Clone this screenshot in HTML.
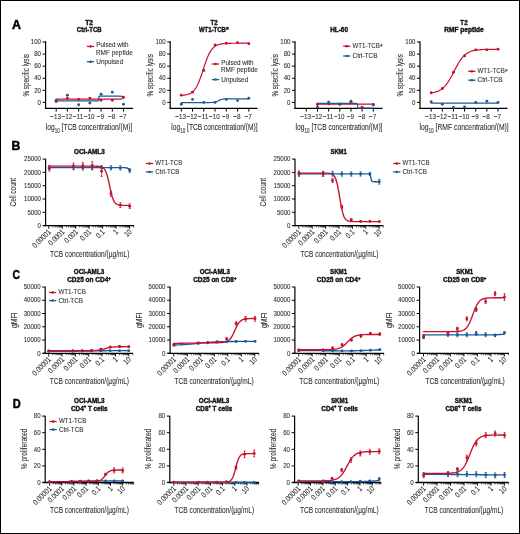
<!DOCTYPE html>
<html><head><meta charset="utf-8"><style>
html,body{margin:0;padding:0;background:#fff;width:520px;height:534px;overflow:hidden}
svg{display:block;will-change:transform}
text{font-family:"Liberation Sans", sans-serif}
</style></head><body>
<svg width="520" height="534" viewBox="0 0 520 534">
<rect x="0.5" y="0.5" width="519" height="533" fill="#fff" stroke="#000" stroke-width="1"/>
<text x="11.90" y="29.40" font-size="12.0" text-anchor="start" fill="#000" font-weight="bold" stroke="#000" stroke-width="0.45" textLength="9.00" lengthAdjust="spacingAndGlyphs">A</text>
<text x="11.40" y="149.80" font-size="12.0" text-anchor="start" fill="#000" font-weight="bold" stroke="#000" stroke-width="0.45" textLength="8.80" lengthAdjust="spacingAndGlyphs">B</text>
<text x="12.40" y="278.80" font-size="12.0" text-anchor="start" fill="#000" font-weight="bold" stroke="#000" stroke-width="0.45" textLength="7.50" lengthAdjust="spacingAndGlyphs">C</text>
<text x="12.80" y="407.70" font-size="12.0" text-anchor="start" fill="#000" font-weight="bold" stroke="#000" stroke-width="0.45" textLength="8.00" lengthAdjust="spacingAndGlyphs">D</text>
<line x1="45.60" y1="41.30" x2="45.60" y2="108.90" stroke="#000" stroke-width="1.2"/>
<line x1="45.00" y1="108.30" x2="133.10" y2="108.30" stroke="#000" stroke-width="1.2"/>
<line x1="42.60" y1="102.40" x2="45.60" y2="102.40" stroke="#000" stroke-width="1.0"/>
<text x="41.00" y="104.60" font-size="7.9" text-anchor="end" fill="#303030" stroke="#303030" stroke-width="0.1" textLength="3.38" lengthAdjust="spacingAndGlyphs">0</text>
<line x1="42.60" y1="90.32" x2="45.60" y2="90.32" stroke="#000" stroke-width="1.0"/>
<text x="41.00" y="92.52" font-size="7.9" text-anchor="end" fill="#303030" stroke="#303030" stroke-width="0.1" textLength="6.76" lengthAdjust="spacingAndGlyphs">20</text>
<line x1="42.60" y1="78.24" x2="45.60" y2="78.24" stroke="#000" stroke-width="1.0"/>
<text x="41.00" y="80.44" font-size="7.9" text-anchor="end" fill="#303030" stroke="#303030" stroke-width="0.1" textLength="6.76" lengthAdjust="spacingAndGlyphs">40</text>
<line x1="42.60" y1="66.16" x2="45.60" y2="66.16" stroke="#000" stroke-width="1.0"/>
<text x="41.00" y="68.36" font-size="7.9" text-anchor="end" fill="#303030" stroke="#303030" stroke-width="0.1" textLength="6.76" lengthAdjust="spacingAndGlyphs">60</text>
<line x1="42.60" y1="54.08" x2="45.60" y2="54.08" stroke="#000" stroke-width="1.0"/>
<text x="41.00" y="56.28" font-size="7.9" text-anchor="end" fill="#303030" stroke="#303030" stroke-width="0.1" textLength="6.76" lengthAdjust="spacingAndGlyphs">80</text>
<line x1="42.60" y1="42.00" x2="45.60" y2="42.00" stroke="#000" stroke-width="1.0"/>
<text x="41.00" y="44.20" font-size="7.9" text-anchor="end" fill="#303030" stroke="#303030" stroke-width="0.1" textLength="10.14" lengthAdjust="spacingAndGlyphs">100</text>
<line x1="56.20" y1="108.30" x2="56.20" y2="111.60" stroke="#000" stroke-width="1.0"/>
<text x="55.60" y="119.20" font-size="7.9" text-anchor="middle" fill="#303030" stroke="#303030" stroke-width="0.1" textLength="10.66" lengthAdjust="spacingAndGlyphs">−13</text>
<line x1="67.42" y1="108.30" x2="67.42" y2="111.60" stroke="#000" stroke-width="1.0"/>
<text x="66.82" y="119.20" font-size="7.9" text-anchor="middle" fill="#303030" stroke="#303030" stroke-width="0.1" textLength="10.66" lengthAdjust="spacingAndGlyphs">−12</text>
<line x1="78.64" y1="108.30" x2="78.64" y2="111.60" stroke="#000" stroke-width="1.0"/>
<text x="78.04" y="119.20" font-size="7.9" text-anchor="middle" fill="#303030" stroke="#303030" stroke-width="0.1" textLength="10.66" lengthAdjust="spacingAndGlyphs">−11</text>
<line x1="89.86" y1="108.30" x2="89.86" y2="111.60" stroke="#000" stroke-width="1.0"/>
<text x="89.26" y="119.20" font-size="7.9" text-anchor="middle" fill="#303030" stroke="#303030" stroke-width="0.1" textLength="10.66" lengthAdjust="spacingAndGlyphs">−10</text>
<line x1="101.08" y1="108.30" x2="101.08" y2="111.60" stroke="#000" stroke-width="1.0"/>
<text x="100.48" y="119.20" font-size="7.9" text-anchor="middle" fill="#303030" stroke="#303030" stroke-width="0.1" textLength="7.28" lengthAdjust="spacingAndGlyphs">−9</text>
<line x1="112.30" y1="108.30" x2="112.30" y2="111.60" stroke="#000" stroke-width="1.0"/>
<text x="111.70" y="119.20" font-size="7.9" text-anchor="middle" fill="#303030" stroke="#303030" stroke-width="0.1" textLength="7.28" lengthAdjust="spacingAndGlyphs">−8</text>
<line x1="123.52" y1="108.30" x2="123.52" y2="111.60" stroke="#000" stroke-width="1.0"/>
<text x="122.92" y="119.20" font-size="7.9" text-anchor="middle" fill="#303030" stroke="#303030" stroke-width="0.1" textLength="7.28" lengthAdjust="spacingAndGlyphs">−7</text>
<text x="28.80" y="75.30" font-size="8.7" text-anchor="middle" fill="#303030" stroke="#303030" stroke-width="0.1" textLength="42.50" lengthAdjust="spacingAndGlyphs" transform="rotate(-90 28.80 75.30)">% specific lysis</text>
<text x="45.80" y="130.3" font-size="9.4" fill="#303030" stroke="#303030" stroke-width="0.1" textLength="86.50" lengthAdjust="spacingAndGlyphs">log<tspan font-size="6.4" dy="2.2">10</tspan><tspan dy="-2.2"> [TCB concentration/(M)]</tspan></text>
<text x="89.20" y="24.80" font-size="7.0" text-anchor="middle" fill="#111" font-weight="bold" stroke="#111" stroke-width="0.4" textLength="8.00" lengthAdjust="spacingAndGlyphs">T2</text>
<text x="89.20" y="32.30" font-size="7.0" text-anchor="middle" fill="#111" font-weight="bold" stroke="#111" stroke-width="0.4" textLength="24.80" lengthAdjust="spacingAndGlyphs">Ctrl-TCB</text>
<polyline points="56.20,99.08 98.84,99.08 120.72,99.08 122.96,98.47 122.96,97.27" fill="none" stroke="#c8102e" stroke-width="1.2" stroke-linejoin="round" stroke-linecap="round"/>
<polyline points="56.20,100.89 98.28,100.89 98.84,99.98 98.84,96.36 100.52,96.06 120.15,96.06 122.96,96.66 122.96,97.08" fill="none" stroke="#1b5a98" stroke-width="1.2" stroke-linejoin="round" stroke-linecap="round"/>
<circle cx="56.20" cy="101.49" r="1.45" fill="#c8102e"/>
<circle cx="67.42" cy="98.17" r="1.45" fill="#c8102e"/>
<circle cx="78.64" cy="99.38" r="1.45" fill="#c8102e"/>
<circle cx="89.86" cy="98.17" r="1.45" fill="#c8102e"/>
<circle cx="101.08" cy="100.29" r="1.45" fill="#c8102e"/>
<circle cx="112.30" cy="100.29" r="1.45" fill="#c8102e"/>
<circle cx="123.52" cy="97.27" r="1.45" fill="#c8102e"/>
<circle cx="56.20" cy="100.29" r="1.45" fill="#1b5a98"/>
<circle cx="67.42" cy="95.15" r="1.45" fill="#1b5a98"/>
<circle cx="78.64" cy="104.82" r="1.45" fill="#1b5a98"/>
<circle cx="89.86" cy="103.00" r="1.45" fill="#1b5a98"/>
<circle cx="101.08" cy="94.25" r="1.45" fill="#1b5a98"/>
<circle cx="112.30" cy="92.13" r="1.45" fill="#1b5a98"/>
<circle cx="123.52" cy="104.21" r="1.45" fill="#1b5a98"/>
<line x1="86.90" y1="46.40" x2="94.10" y2="46.40" stroke="#c8102e" stroke-width="1.3"/>
<circle cx="90.50" cy="46.40" r="1.25" fill="#c8102e"/>
<text x="96.30" y="47.40" font-size="7.8" text-anchor="start" fill="#303030" stroke="#303030" stroke-width="0.1" textLength="32.20" lengthAdjust="spacingAndGlyphs">Pulsed with</text>
<line x1="86.90" y1="61.70" x2="94.10" y2="61.70" stroke="#1b5a98" stroke-width="1.3"/>
<circle cx="90.50" cy="61.70" r="1.25" fill="#1b5a98"/>
<text x="96.30" y="63.80" font-size="7.8" text-anchor="start" fill="#303030" stroke="#303030" stroke-width="0.1" textLength="26.90" lengthAdjust="spacingAndGlyphs">Unpulsed</text>
<text x="95.90" y="54.60" font-size="7.8" text-anchor="start" fill="#303030" stroke="#303030" stroke-width="0.1" textLength="37.00" lengthAdjust="spacingAndGlyphs">RMF peptide</text>
<line x1="170.20" y1="41.30" x2="170.20" y2="108.90" stroke="#000" stroke-width="1.2"/>
<line x1="169.60" y1="108.30" x2="257.50" y2="108.30" stroke="#000" stroke-width="1.2"/>
<line x1="167.20" y1="102.40" x2="170.20" y2="102.40" stroke="#000" stroke-width="1.0"/>
<text x="165.60" y="104.60" font-size="7.9" text-anchor="end" fill="#303030" stroke="#303030" stroke-width="0.1" textLength="3.38" lengthAdjust="spacingAndGlyphs">0</text>
<line x1="167.20" y1="90.32" x2="170.20" y2="90.32" stroke="#000" stroke-width="1.0"/>
<text x="165.60" y="92.52" font-size="7.9" text-anchor="end" fill="#303030" stroke="#303030" stroke-width="0.1" textLength="6.76" lengthAdjust="spacingAndGlyphs">20</text>
<line x1="167.20" y1="78.24" x2="170.20" y2="78.24" stroke="#000" stroke-width="1.0"/>
<text x="165.60" y="80.44" font-size="7.9" text-anchor="end" fill="#303030" stroke="#303030" stroke-width="0.1" textLength="6.76" lengthAdjust="spacingAndGlyphs">40</text>
<line x1="167.20" y1="66.16" x2="170.20" y2="66.16" stroke="#000" stroke-width="1.0"/>
<text x="165.60" y="68.36" font-size="7.9" text-anchor="end" fill="#303030" stroke="#303030" stroke-width="0.1" textLength="6.76" lengthAdjust="spacingAndGlyphs">60</text>
<line x1="167.20" y1="54.08" x2="170.20" y2="54.08" stroke="#000" stroke-width="1.0"/>
<text x="165.60" y="56.28" font-size="7.9" text-anchor="end" fill="#303030" stroke="#303030" stroke-width="0.1" textLength="6.76" lengthAdjust="spacingAndGlyphs">80</text>
<line x1="167.20" y1="42.00" x2="170.20" y2="42.00" stroke="#000" stroke-width="1.0"/>
<text x="165.60" y="44.20" font-size="7.9" text-anchor="end" fill="#303030" stroke="#303030" stroke-width="0.1" textLength="10.14" lengthAdjust="spacingAndGlyphs">100</text>
<line x1="181.30" y1="108.30" x2="181.30" y2="111.60" stroke="#000" stroke-width="1.0"/>
<text x="180.70" y="119.20" font-size="7.9" text-anchor="middle" fill="#303030" stroke="#303030" stroke-width="0.1" textLength="10.66" lengthAdjust="spacingAndGlyphs">−13</text>
<line x1="192.55" y1="108.30" x2="192.55" y2="111.60" stroke="#000" stroke-width="1.0"/>
<text x="191.95" y="119.20" font-size="7.9" text-anchor="middle" fill="#303030" stroke="#303030" stroke-width="0.1" textLength="10.66" lengthAdjust="spacingAndGlyphs">−12</text>
<line x1="203.80" y1="108.30" x2="203.80" y2="111.60" stroke="#000" stroke-width="1.0"/>
<text x="203.20" y="119.20" font-size="7.9" text-anchor="middle" fill="#303030" stroke="#303030" stroke-width="0.1" textLength="10.66" lengthAdjust="spacingAndGlyphs">−11</text>
<line x1="215.05" y1="108.30" x2="215.05" y2="111.60" stroke="#000" stroke-width="1.0"/>
<text x="214.45" y="119.20" font-size="7.9" text-anchor="middle" fill="#303030" stroke="#303030" stroke-width="0.1" textLength="10.66" lengthAdjust="spacingAndGlyphs">−10</text>
<line x1="226.30" y1="108.30" x2="226.30" y2="111.60" stroke="#000" stroke-width="1.0"/>
<text x="225.70" y="119.20" font-size="7.9" text-anchor="middle" fill="#303030" stroke="#303030" stroke-width="0.1" textLength="7.28" lengthAdjust="spacingAndGlyphs">−9</text>
<line x1="237.55" y1="108.30" x2="237.55" y2="111.60" stroke="#000" stroke-width="1.0"/>
<text x="236.95" y="119.20" font-size="7.9" text-anchor="middle" fill="#303030" stroke="#303030" stroke-width="0.1" textLength="7.28" lengthAdjust="spacingAndGlyphs">−8</text>
<line x1="248.80" y1="108.30" x2="248.80" y2="111.60" stroke="#000" stroke-width="1.0"/>
<text x="248.20" y="119.20" font-size="7.9" text-anchor="middle" fill="#303030" stroke="#303030" stroke-width="0.1" textLength="7.28" lengthAdjust="spacingAndGlyphs">−7</text>
<text x="153.40" y="75.30" font-size="8.7" text-anchor="middle" fill="#303030" stroke="#303030" stroke-width="0.1" textLength="42.50" lengthAdjust="spacingAndGlyphs" transform="rotate(-90 153.40 75.30)">% specific lysis</text>
<text x="171.30" y="130.3" font-size="9.4" fill="#303030" stroke="#303030" stroke-width="0.1" textLength="86.20" lengthAdjust="spacingAndGlyphs">log<tspan font-size="6.4" dy="2.2">10</tspan><tspan dy="-2.2"> [TCB concentration/(M)]</tspan></text>
<text x="212.40" y="32.30" font-size="7.0" text-anchor="middle" fill="#111" font-weight="bold" stroke="#111" stroke-width="0.4" textLength="26.80" lengthAdjust="spacingAndGlyphs">WT1-TCB</text>
<polyline points="181.30,95.46 181.86,95.42 182.43,95.37 182.99,95.31 183.55,95.25 184.11,95.18 184.68,95.10 185.24,95.01 185.80,94.90 186.36,94.78 186.93,94.65 187.49,94.50 188.05,94.32 188.61,94.13 189.18,93.90 189.74,93.65 190.30,93.37 190.86,93.05 191.43,92.69 191.99,92.28 192.55,91.83 193.11,91.32 193.68,90.75 194.24,90.12 194.80,89.41 195.36,88.64 195.93,87.78 196.49,86.85 197.05,85.82 197.61,84.71 198.18,83.51 198.74,82.23 199.30,80.85 199.86,79.40 200.43,77.87 200.99,76.28 201.55,74.63 202.11,72.94 202.68,71.22 203.24,69.48 203.80,67.75 204.36,66.02 204.93,64.33 205.49,62.68 206.05,61.09 206.61,59.56 207.18,58.11 207.74,56.74 208.30,55.45 208.86,54.25 209.43,53.14 209.99,52.12 210.55,51.18 211.11,50.33 211.68,49.55 212.24,48.85 212.80,48.21 213.36,47.65 213.93,47.14 214.49,46.68 215.05,46.28 215.61,45.92 216.18,45.60 216.74,45.31 217.30,45.06 217.86,44.84 218.43,44.64 218.99,44.47 219.55,44.31 220.11,44.18 220.68,44.06 221.24,43.96 221.80,43.87 222.36,43.78 222.93,43.71 223.49,43.65 224.05,43.60 224.61,43.55 225.18,43.51 225.74,43.47 226.30,43.44 226.86,43.41 227.43,43.38 227.99,43.36 228.55,43.34 229.11,43.33 229.68,43.31 230.24,43.30 230.80,43.29 231.36,43.28 231.93,43.27 232.49,43.26 233.05,43.26 233.61,43.25 234.18,43.24 234.74,43.24 235.30,43.24 235.86,43.23 236.43,43.23 236.99,43.23 237.55,43.22 238.11,43.22 238.68,43.22 239.24,43.22 239.80,43.22 240.36,43.22 240.93,43.22 241.49,43.21 242.05,43.21 242.61,43.21 243.18,43.21 243.74,43.21 244.30,43.21 244.86,43.21 245.43,43.21 245.99,43.21 246.55,43.21 247.11,43.21 247.68,43.21 248.24,43.21 248.80,43.21" fill="none" stroke="#c8102e" stroke-width="1.2" stroke-linejoin="round" stroke-linecap="round"/>
<polyline points="181.30,102.58 181.86,102.58 182.43,102.58 182.99,102.58 183.55,102.58 184.11,102.58 184.68,102.58 185.24,102.58 185.80,102.58 186.36,102.58 186.93,102.58 187.49,102.58 188.05,102.58 188.61,102.58 189.18,102.58 189.74,102.58 190.30,102.58 190.86,102.58 191.43,102.58 191.99,102.58 192.55,102.58 193.11,102.58 193.68,102.58 194.24,102.58 194.80,102.58 195.36,102.58 195.93,102.58 196.49,102.58 197.05,102.58 197.61,102.58 198.18,102.58 198.74,102.58 199.30,102.58 199.86,102.58 200.43,102.58 200.99,102.58 201.55,102.58 202.11,102.58 202.68,102.58 203.24,102.58 203.80,102.58 204.36,102.58 204.93,102.58 205.49,102.58 206.05,102.57 206.61,102.57 207.18,102.57 207.74,102.57 208.30,102.56 208.86,102.55 209.43,102.54 209.99,102.53 210.55,102.51 211.11,102.49 211.68,102.46 212.24,102.43 212.80,102.38 213.36,102.32 213.93,102.24 214.49,102.13 215.05,102.01 215.61,101.85 216.18,101.67 216.74,101.45 217.30,101.21 217.86,100.95 218.43,100.68 218.99,100.41 219.55,100.15 220.11,99.90 220.68,99.69 221.24,99.51 221.80,99.35 222.36,99.22 222.93,99.12 223.49,99.04 224.05,98.98 224.61,98.93 225.18,98.89 225.74,98.86 226.30,98.84 226.86,98.83 227.43,98.81 227.99,98.80 228.55,98.80 229.11,98.79 229.68,98.79 230.24,98.79 230.80,98.78 231.36,98.78 231.93,98.78 232.49,98.78 233.05,98.78 233.61,98.78 234.18,98.78 234.74,98.78 235.30,98.78 235.86,98.78 236.43,98.78 236.99,98.78 237.55,98.78 238.11,98.78 238.68,98.78 239.24,98.78 239.80,98.78 240.36,98.78 240.93,98.78 241.49,98.78 242.05,98.78 242.61,98.78 243.18,98.78 243.74,98.78 244.30,98.78 244.86,98.78 245.43,98.78 245.99,98.78 246.55,98.78 247.11,98.78 247.68,98.78 248.24,98.78 248.80,98.78" fill="none" stroke="#1b5a98" stroke-width="1.2" stroke-linejoin="round" stroke-linecap="round"/>
<circle cx="181.30" cy="95.15" r="1.45" fill="#c8102e"/>
<circle cx="192.55" cy="92.13" r="1.45" fill="#c8102e"/>
<circle cx="203.80" cy="70.39" r="1.45" fill="#c8102e"/>
<circle cx="215.05" cy="45.02" r="1.45" fill="#c8102e"/>
<circle cx="226.30" cy="43.21" r="1.45" fill="#c8102e"/>
<circle cx="237.55" cy="42.60" r="1.45" fill="#c8102e"/>
<circle cx="248.80" cy="43.81" r="1.45" fill="#c8102e"/>
<circle cx="181.30" cy="104.21" r="1.45" fill="#1b5a98"/>
<circle cx="192.55" cy="99.38" r="1.45" fill="#1b5a98"/>
<circle cx="203.80" cy="102.40" r="1.45" fill="#1b5a98"/>
<circle cx="215.05" cy="102.40" r="1.45" fill="#1b5a98"/>
<circle cx="226.30" cy="99.38" r="1.45" fill="#1b5a98"/>
<circle cx="237.55" cy="100.59" r="1.45" fill="#1b5a98"/>
<circle cx="248.80" cy="98.17" r="1.45" fill="#1b5a98"/>
<line x1="211.90" y1="64.00" x2="219.10" y2="64.00" stroke="#c8102e" stroke-width="1.3"/>
<circle cx="215.50" cy="64.00" r="1.25" fill="#c8102e"/>
<text x="221.30" y="65.00" font-size="7.8" text-anchor="start" fill="#303030" stroke="#303030" stroke-width="0.1" textLength="32.20" lengthAdjust="spacingAndGlyphs">Pulsed with</text>
<line x1="211.90" y1="79.60" x2="219.10" y2="79.60" stroke="#1b5a98" stroke-width="1.3"/>
<circle cx="215.50" cy="79.60" r="1.25" fill="#1b5a98"/>
<text x="221.30" y="81.70" font-size="7.8" text-anchor="start" fill="#303030" stroke="#303030" stroke-width="0.1" textLength="26.90" lengthAdjust="spacingAndGlyphs">Unpulsed</text>
<text x="220.90" y="72.20" font-size="7.8" text-anchor="start" fill="#303030" stroke="#303030" stroke-width="0.1" textLength="37.00" lengthAdjust="spacingAndGlyphs">RMF peptide</text>
<text x="226.00" y="31.60" font-size="7.0" text-anchor="start" fill="#111" font-weight="bold" stroke="#111" stroke-width="0.4">*</text>
<text x="214.10" y="24.80" font-size="7.0" text-anchor="middle" fill="#111" font-weight="bold" stroke="#111" stroke-width="0.4" textLength="7.20" lengthAdjust="spacingAndGlyphs">T2</text>
<line x1="295.00" y1="41.30" x2="295.00" y2="108.90" stroke="#000" stroke-width="1.2"/>
<line x1="294.40" y1="108.30" x2="382.50" y2="108.30" stroke="#000" stroke-width="1.2"/>
<line x1="292.00" y1="102.40" x2="295.00" y2="102.40" stroke="#000" stroke-width="1.0"/>
<text x="290.40" y="104.60" font-size="7.9" text-anchor="end" fill="#303030" stroke="#303030" stroke-width="0.1" textLength="3.38" lengthAdjust="spacingAndGlyphs">0</text>
<line x1="292.00" y1="90.32" x2="295.00" y2="90.32" stroke="#000" stroke-width="1.0"/>
<text x="290.40" y="92.52" font-size="7.9" text-anchor="end" fill="#303030" stroke="#303030" stroke-width="0.1" textLength="6.76" lengthAdjust="spacingAndGlyphs">20</text>
<line x1="292.00" y1="78.24" x2="295.00" y2="78.24" stroke="#000" stroke-width="1.0"/>
<text x="290.40" y="80.44" font-size="7.9" text-anchor="end" fill="#303030" stroke="#303030" stroke-width="0.1" textLength="6.76" lengthAdjust="spacingAndGlyphs">40</text>
<line x1="292.00" y1="66.16" x2="295.00" y2="66.16" stroke="#000" stroke-width="1.0"/>
<text x="290.40" y="68.36" font-size="7.9" text-anchor="end" fill="#303030" stroke="#303030" stroke-width="0.1" textLength="6.76" lengthAdjust="spacingAndGlyphs">60</text>
<line x1="292.00" y1="54.08" x2="295.00" y2="54.08" stroke="#000" stroke-width="1.0"/>
<text x="290.40" y="56.28" font-size="7.9" text-anchor="end" fill="#303030" stroke="#303030" stroke-width="0.1" textLength="6.76" lengthAdjust="spacingAndGlyphs">80</text>
<line x1="292.00" y1="42.00" x2="295.00" y2="42.00" stroke="#000" stroke-width="1.0"/>
<text x="290.40" y="44.20" font-size="7.9" text-anchor="end" fill="#303030" stroke="#303030" stroke-width="0.1" textLength="10.14" lengthAdjust="spacingAndGlyphs">100</text>
<line x1="306.30" y1="108.30" x2="306.30" y2="111.60" stroke="#000" stroke-width="1.0"/>
<text x="305.70" y="119.20" font-size="7.9" text-anchor="middle" fill="#303030" stroke="#303030" stroke-width="0.1" textLength="10.66" lengthAdjust="spacingAndGlyphs">−13</text>
<line x1="317.47" y1="108.30" x2="317.47" y2="111.60" stroke="#000" stroke-width="1.0"/>
<text x="316.87" y="119.20" font-size="7.9" text-anchor="middle" fill="#303030" stroke="#303030" stroke-width="0.1" textLength="10.66" lengthAdjust="spacingAndGlyphs">−12</text>
<line x1="328.64" y1="108.30" x2="328.64" y2="111.60" stroke="#000" stroke-width="1.0"/>
<text x="328.04" y="119.20" font-size="7.9" text-anchor="middle" fill="#303030" stroke="#303030" stroke-width="0.1" textLength="10.66" lengthAdjust="spacingAndGlyphs">−11</text>
<line x1="339.81" y1="108.30" x2="339.81" y2="111.60" stroke="#000" stroke-width="1.0"/>
<text x="339.21" y="119.20" font-size="7.9" text-anchor="middle" fill="#303030" stroke="#303030" stroke-width="0.1" textLength="10.66" lengthAdjust="spacingAndGlyphs">−10</text>
<line x1="350.98" y1="108.30" x2="350.98" y2="111.60" stroke="#000" stroke-width="1.0"/>
<text x="350.38" y="119.20" font-size="7.9" text-anchor="middle" fill="#303030" stroke="#303030" stroke-width="0.1" textLength="7.28" lengthAdjust="spacingAndGlyphs">−9</text>
<line x1="362.15" y1="108.30" x2="362.15" y2="111.60" stroke="#000" stroke-width="1.0"/>
<text x="361.55" y="119.20" font-size="7.9" text-anchor="middle" fill="#303030" stroke="#303030" stroke-width="0.1" textLength="7.28" lengthAdjust="spacingAndGlyphs">−8</text>
<line x1="373.32" y1="108.30" x2="373.32" y2="111.60" stroke="#000" stroke-width="1.0"/>
<text x="372.72" y="119.20" font-size="7.9" text-anchor="middle" fill="#303030" stroke="#303030" stroke-width="0.1" textLength="7.28" lengthAdjust="spacingAndGlyphs">−7</text>
<text x="278.20" y="75.30" font-size="8.7" text-anchor="middle" fill="#303030" stroke="#303030" stroke-width="0.1" textLength="42.50" lengthAdjust="spacingAndGlyphs" transform="rotate(-90 278.20 75.30)">% specific lysis</text>
<text x="295.50" y="130.3" font-size="9.4" fill="#303030" stroke="#303030" stroke-width="0.1" textLength="87.00" lengthAdjust="spacingAndGlyphs">log<tspan font-size="6.4" dy="2.2">10</tspan><tspan dy="-2.2"> [TCB concentration/(M)]</tspan></text>
<text x="339.10" y="32.10" font-size="7.0" text-anchor="middle" fill="#111" font-weight="bold" stroke="#111" stroke-width="0.4" textLength="17.90" lengthAdjust="spacingAndGlyphs">HL-60</text>
<polyline points="317.47,104.21 373.32,104.21" fill="none" stroke="#c8102e" stroke-width="1.2" stroke-linejoin="round" stroke-linecap="round"/>
<polyline points="317.47,107.53 317.47,103.31 356.01,103.31 357.68,104.21 357.68,108.14 373.32,108.14" fill="none" stroke="#1b5a98" stroke-width="1.2" stroke-linejoin="round" stroke-linecap="round"/>
<circle cx="317.47" cy="104.21" r="1.45" fill="#c8102e"/>
<circle cx="328.64" cy="103.91" r="1.45" fill="#c8102e"/>
<circle cx="339.81" cy="104.21" r="1.45" fill="#c8102e"/>
<circle cx="350.98" cy="102.70" r="1.45" fill="#c8102e"/>
<circle cx="362.15" cy="107.23" r="1.45" fill="#c8102e"/>
<circle cx="373.32" cy="104.51" r="1.45" fill="#c8102e"/>
<circle cx="317.47" cy="107.23" r="1.45" fill="#1b5a98"/>
<circle cx="328.64" cy="102.10" r="1.45" fill="#1b5a98"/>
<circle cx="339.81" cy="104.21" r="1.45" fill="#1b5a98"/>
<circle cx="350.98" cy="101.19" r="1.45" fill="#1b5a98"/>
<circle cx="373.32" cy="105.12" r="1.45" fill="#1b5a98"/>
<line x1="343.20" y1="46.20" x2="350.40" y2="46.20" stroke="#c8102e" stroke-width="1.3"/>
<circle cx="346.80" cy="46.20" r="1.25" fill="#c8102e"/>
<text x="352.60" y="48.30" font-size="7.8" text-anchor="start" fill="#303030" stroke="#303030" stroke-width="0.1" textLength="27.20" lengthAdjust="spacingAndGlyphs">WT1-TCB</text>
<text x="379.90" y="48.60" font-size="6.8" text-anchor="start" fill="#303030" stroke="#303030" stroke-width="0.1">*</text>
<line x1="343.20" y1="56.00" x2="350.40" y2="56.00" stroke="#1b5a98" stroke-width="1.3"/>
<circle cx="346.80" cy="56.00" r="1.25" fill="#1b5a98"/>
<text x="352.60" y="58.10" font-size="7.8" text-anchor="start" fill="#303030" stroke="#303030" stroke-width="0.1" textLength="24.80" lengthAdjust="spacingAndGlyphs">Ctrl-TCB</text>
<line x1="420.00" y1="41.30" x2="420.00" y2="108.90" stroke="#000" stroke-width="1.2"/>
<line x1="419.40" y1="108.30" x2="507.50" y2="108.30" stroke="#000" stroke-width="1.2"/>
<line x1="417.00" y1="102.40" x2="420.00" y2="102.40" stroke="#000" stroke-width="1.0"/>
<text x="415.40" y="104.60" font-size="7.9" text-anchor="end" fill="#303030" stroke="#303030" stroke-width="0.1" textLength="3.38" lengthAdjust="spacingAndGlyphs">0</text>
<line x1="417.00" y1="90.32" x2="420.00" y2="90.32" stroke="#000" stroke-width="1.0"/>
<text x="415.40" y="92.52" font-size="7.9" text-anchor="end" fill="#303030" stroke="#303030" stroke-width="0.1" textLength="6.76" lengthAdjust="spacingAndGlyphs">20</text>
<line x1="417.00" y1="78.24" x2="420.00" y2="78.24" stroke="#000" stroke-width="1.0"/>
<text x="415.40" y="80.44" font-size="7.9" text-anchor="end" fill="#303030" stroke="#303030" stroke-width="0.1" textLength="6.76" lengthAdjust="spacingAndGlyphs">40</text>
<line x1="417.00" y1="66.16" x2="420.00" y2="66.16" stroke="#000" stroke-width="1.0"/>
<text x="415.40" y="68.36" font-size="7.9" text-anchor="end" fill="#303030" stroke="#303030" stroke-width="0.1" textLength="6.76" lengthAdjust="spacingAndGlyphs">60</text>
<line x1="417.00" y1="54.08" x2="420.00" y2="54.08" stroke="#000" stroke-width="1.0"/>
<text x="415.40" y="56.28" font-size="7.9" text-anchor="end" fill="#303030" stroke="#303030" stroke-width="0.1" textLength="6.76" lengthAdjust="spacingAndGlyphs">80</text>
<line x1="417.00" y1="42.00" x2="420.00" y2="42.00" stroke="#000" stroke-width="1.0"/>
<text x="415.40" y="44.20" font-size="7.9" text-anchor="end" fill="#303030" stroke="#303030" stroke-width="0.1" textLength="10.14" lengthAdjust="spacingAndGlyphs">100</text>
<line x1="431.20" y1="108.30" x2="431.20" y2="111.60" stroke="#000" stroke-width="1.0"/>
<text x="430.60" y="119.20" font-size="7.9" text-anchor="middle" fill="#303030" stroke="#303030" stroke-width="0.1" textLength="10.66" lengthAdjust="spacingAndGlyphs">−13</text>
<line x1="442.33" y1="108.30" x2="442.33" y2="111.60" stroke="#000" stroke-width="1.0"/>
<text x="441.73" y="119.20" font-size="7.9" text-anchor="middle" fill="#303030" stroke="#303030" stroke-width="0.1" textLength="10.66" lengthAdjust="spacingAndGlyphs">−12</text>
<line x1="453.46" y1="108.30" x2="453.46" y2="111.60" stroke="#000" stroke-width="1.0"/>
<text x="452.86" y="119.20" font-size="7.9" text-anchor="middle" fill="#303030" stroke="#303030" stroke-width="0.1" textLength="10.66" lengthAdjust="spacingAndGlyphs">−11</text>
<line x1="464.59" y1="108.30" x2="464.59" y2="111.60" stroke="#000" stroke-width="1.0"/>
<text x="463.99" y="119.20" font-size="7.9" text-anchor="middle" fill="#303030" stroke="#303030" stroke-width="0.1" textLength="10.66" lengthAdjust="spacingAndGlyphs">−10</text>
<line x1="475.72" y1="108.30" x2="475.72" y2="111.60" stroke="#000" stroke-width="1.0"/>
<text x="475.12" y="119.20" font-size="7.9" text-anchor="middle" fill="#303030" stroke="#303030" stroke-width="0.1" textLength="7.28" lengthAdjust="spacingAndGlyphs">−9</text>
<line x1="486.85" y1="108.30" x2="486.85" y2="111.60" stroke="#000" stroke-width="1.0"/>
<text x="486.25" y="119.20" font-size="7.9" text-anchor="middle" fill="#303030" stroke="#303030" stroke-width="0.1" textLength="7.28" lengthAdjust="spacingAndGlyphs">−8</text>
<line x1="497.98" y1="108.30" x2="497.98" y2="111.60" stroke="#000" stroke-width="1.0"/>
<text x="497.38" y="119.20" font-size="7.9" text-anchor="middle" fill="#303030" stroke="#303030" stroke-width="0.1" textLength="7.28" lengthAdjust="spacingAndGlyphs">−7</text>
<text x="403.20" y="75.30" font-size="8.7" text-anchor="middle" fill="#303030" stroke="#303030" stroke-width="0.1" textLength="42.50" lengthAdjust="spacingAndGlyphs" transform="rotate(-90 403.20 75.30)">% specific lysis</text>
<text x="419.50" y="130.3" font-size="9.4" fill="#303030" stroke="#303030" stroke-width="0.1" textLength="89.20" lengthAdjust="spacingAndGlyphs">log<tspan font-size="6.4" dy="2.2">10</tspan><tspan dy="-2.2"> [RMF concentration/(M)]</tspan></text>
<text x="464.00" y="24.80" font-size="7.0" text-anchor="middle" fill="#111" font-weight="bold" stroke="#111" stroke-width="0.4" textLength="7.30" lengthAdjust="spacingAndGlyphs">T2</text>
<text x="464.00" y="32.10" font-size="7.0" text-anchor="middle" fill="#111" font-weight="bold" stroke="#111" stroke-width="0.4" textLength="39.30" lengthAdjust="spacingAndGlyphs">RMF peptide</text>
<polyline points="431.20,92.85 431.76,92.77 432.31,92.69 432.87,92.59 433.43,92.48 433.98,92.37 434.54,92.24 435.10,92.10 435.65,91.95 436.21,91.79 436.76,91.60 437.32,91.40 437.88,91.19 438.43,90.95 438.99,90.69 439.55,90.41 440.10,90.10 440.66,89.77 441.22,89.41 441.77,89.02 442.33,88.60 442.89,88.15 443.44,87.66 444.00,87.13 444.56,86.57 445.11,85.97 445.67,85.33 446.23,84.65 446.78,83.92 447.34,83.16 447.89,82.36 448.45,81.51 449.01,80.63 449.56,79.72 450.12,78.76 450.68,77.78 451.23,76.77 451.79,75.73 452.35,74.68 452.90,73.61 453.46,72.53 454.02,71.45 454.57,70.36 455.13,69.28 455.69,68.21 456.24,67.16 456.80,66.12 457.36,65.11 457.91,64.13 458.47,63.17 459.02,62.26 459.58,61.38 460.14,60.53 460.69,59.73 461.25,58.97 461.81,58.24 462.36,57.56 462.92,56.92 463.48,56.32 464.03,55.76 464.59,55.23 465.15,54.74 465.70,54.29 466.26,53.87 466.82,53.48 467.37,53.12 467.93,52.79 468.49,52.48 469.04,52.20 469.60,51.94 470.15,51.70 470.71,51.49 471.27,51.29 471.82,51.10 472.38,50.94 472.94,50.79 473.49,50.65 474.05,50.52 474.61,50.41 475.16,50.30 475.72,50.20 476.28,50.12 476.83,50.04 477.39,49.96 477.95,49.90 478.50,49.84 479.06,49.78 479.62,49.74 480.17,49.69 480.73,49.65 481.28,49.61 481.84,49.58 482.40,49.55 482.95,49.52 483.51,49.49 484.07,49.47 484.62,49.45 485.18,49.43 485.74,49.42 486.29,49.40 486.85,49.39 487.41,49.37 487.96,49.36 488.52,49.35 489.08,49.34 489.63,49.33 490.19,49.32 490.75,49.32 491.30,49.31 491.86,49.31 492.41,49.30 492.97,49.29 493.53,49.29 494.08,49.29 494.64,49.28 495.20,49.28 495.75,49.28 496.31,49.27 496.87,49.27 497.42,49.27 497.98,49.27" fill="none" stroke="#c8102e" stroke-width="1.2" stroke-linejoin="round" stroke-linecap="round"/>
<polyline points="431.20,103.19 497.98,103.19" fill="none" stroke="#1b5a98" stroke-width="1.2" stroke-linejoin="round" stroke-linecap="round"/>
<circle cx="431.20" cy="92.74" r="1.45" fill="#c8102e"/>
<circle cx="442.33" cy="88.51" r="1.45" fill="#c8102e"/>
<circle cx="453.46" cy="72.20" r="1.45" fill="#c8102e"/>
<circle cx="464.59" cy="55.89" r="1.45" fill="#c8102e"/>
<circle cx="475.72" cy="49.85" r="1.45" fill="#c8102e"/>
<circle cx="486.85" cy="49.85" r="1.45" fill="#c8102e"/>
<circle cx="497.98" cy="49.25" r="1.45" fill="#c8102e"/>
<circle cx="431.20" cy="101.80" r="1.45" fill="#1b5a98"/>
<circle cx="442.33" cy="104.21" r="1.45" fill="#1b5a98"/>
<circle cx="453.46" cy="107.53" r="1.45" fill="#1b5a98"/>
<circle cx="464.59" cy="106.93" r="1.45" fill="#1b5a98"/>
<circle cx="475.72" cy="102.40" r="1.45" fill="#1b5a98"/>
<circle cx="486.85" cy="101.19" r="1.45" fill="#1b5a98"/>
<circle cx="497.98" cy="102.40" r="1.45" fill="#1b5a98"/>
<line x1="468.20" y1="71.30" x2="475.40" y2="71.30" stroke="#c8102e" stroke-width="1.3"/>
<circle cx="471.80" cy="71.30" r="1.25" fill="#c8102e"/>
<text x="477.60" y="73.40" font-size="7.8" text-anchor="start" fill="#303030" stroke="#303030" stroke-width="0.1" textLength="27.20" lengthAdjust="spacingAndGlyphs">WT1-TCB</text>
<text x="504.90" y="73.70" font-size="6.8" text-anchor="start" fill="#303030" stroke="#303030" stroke-width="0.1">*</text>
<line x1="468.20" y1="80.20" x2="475.40" y2="80.20" stroke="#1b5a98" stroke-width="1.3"/>
<circle cx="471.80" cy="80.20" r="1.25" fill="#1b5a98"/>
<text x="477.60" y="82.30" font-size="7.8" text-anchor="start" fill="#303030" stroke="#303030" stroke-width="0.1" textLength="24.80" lengthAdjust="spacingAndGlyphs">Ctrl-TCB</text>
<line x1="45.60" y1="158.80" x2="45.60" y2="226.20" stroke="#000" stroke-width="1.2"/>
<line x1="43.10" y1="225.60" x2="134.00" y2="225.60" stroke="#000" stroke-width="1.3"/>
<line x1="42.60" y1="225.60" x2="45.60" y2="225.60" stroke="#000" stroke-width="1.0"/>
<text x="41.00" y="227.80" font-size="7.9" text-anchor="end" fill="#303030" stroke="#303030" stroke-width="0.1" textLength="3.38" lengthAdjust="spacingAndGlyphs">0</text>
<line x1="42.60" y1="212.30" x2="45.60" y2="212.30" stroke="#000" stroke-width="1.0"/>
<text x="41.00" y="214.50" font-size="7.9" text-anchor="end" fill="#303030" stroke="#303030" stroke-width="0.1" textLength="13.52" lengthAdjust="spacingAndGlyphs">5000</text>
<line x1="42.60" y1="199.00" x2="45.60" y2="199.00" stroke="#000" stroke-width="1.0"/>
<text x="41.00" y="201.20" font-size="7.9" text-anchor="end" fill="#303030" stroke="#303030" stroke-width="0.1" textLength="16.90" lengthAdjust="spacingAndGlyphs">10000</text>
<line x1="42.60" y1="185.70" x2="45.60" y2="185.70" stroke="#000" stroke-width="1.0"/>
<text x="41.00" y="187.90" font-size="7.9" text-anchor="end" fill="#303030" stroke="#303030" stroke-width="0.1" textLength="16.90" lengthAdjust="spacingAndGlyphs">15000</text>
<line x1="42.60" y1="172.40" x2="45.60" y2="172.40" stroke="#000" stroke-width="1.0"/>
<text x="41.00" y="174.60" font-size="7.9" text-anchor="end" fill="#303030" stroke="#303030" stroke-width="0.1" textLength="16.90" lengthAdjust="spacingAndGlyphs">20000</text>
<line x1="42.60" y1="159.10" x2="45.60" y2="159.10" stroke="#000" stroke-width="1.0"/>
<text x="41.00" y="161.30" font-size="7.9" text-anchor="end" fill="#303030" stroke="#303030" stroke-width="0.1" textLength="16.90" lengthAdjust="spacingAndGlyphs">25000</text>
<line x1="48.80" y1="225.60" x2="48.80" y2="228.80" stroke="#000" stroke-width="0.9"/>
<text x="51.50" y="232.40" font-size="7.8" text-anchor="end" fill="#303030" stroke="#303030" stroke-width="0.1" textLength="22.91" lengthAdjust="spacingAndGlyphs" transform="rotate(-45 51.50 232.40)">0.00001</text>
<line x1="52.85" y1="225.60" x2="52.85" y2="227.50" stroke="#000" stroke-width="0.7"/>
<line x1="55.22" y1="225.60" x2="55.22" y2="227.50" stroke="#000" stroke-width="0.7"/>
<line x1="56.90" y1="225.60" x2="56.90" y2="227.50" stroke="#000" stroke-width="0.7"/>
<line x1="58.20" y1="225.60" x2="58.20" y2="227.50" stroke="#000" stroke-width="0.7"/>
<line x1="59.27" y1="225.60" x2="59.27" y2="227.50" stroke="#000" stroke-width="0.7"/>
<line x1="60.17" y1="225.60" x2="60.17" y2="227.50" stroke="#000" stroke-width="0.7"/>
<line x1="60.95" y1="225.60" x2="60.95" y2="227.50" stroke="#000" stroke-width="0.7"/>
<line x1="61.63" y1="225.60" x2="61.63" y2="227.50" stroke="#000" stroke-width="0.7"/>
<line x1="62.25" y1="225.60" x2="62.25" y2="228.80" stroke="#000" stroke-width="0.9"/>
<text x="64.95" y="232.40" font-size="7.8" text-anchor="end" fill="#303030" stroke="#303030" stroke-width="0.1" textLength="19.40" lengthAdjust="spacingAndGlyphs" transform="rotate(-45 64.95 232.40)">0.0001</text>
<line x1="66.30" y1="225.60" x2="66.30" y2="227.50" stroke="#000" stroke-width="0.7"/>
<line x1="68.67" y1="225.60" x2="68.67" y2="227.50" stroke="#000" stroke-width="0.7"/>
<line x1="70.35" y1="225.60" x2="70.35" y2="227.50" stroke="#000" stroke-width="0.7"/>
<line x1="71.65" y1="225.60" x2="71.65" y2="227.50" stroke="#000" stroke-width="0.7"/>
<line x1="72.72" y1="225.60" x2="72.72" y2="227.50" stroke="#000" stroke-width="0.7"/>
<line x1="73.62" y1="225.60" x2="73.62" y2="227.50" stroke="#000" stroke-width="0.7"/>
<line x1="74.40" y1="225.60" x2="74.40" y2="227.50" stroke="#000" stroke-width="0.7"/>
<line x1="75.08" y1="225.60" x2="75.08" y2="227.50" stroke="#000" stroke-width="0.7"/>
<line x1="75.70" y1="225.60" x2="75.70" y2="228.80" stroke="#000" stroke-width="0.9"/>
<text x="78.40" y="232.40" font-size="7.8" text-anchor="end" fill="#303030" stroke="#303030" stroke-width="0.1" textLength="15.88" lengthAdjust="spacingAndGlyphs" transform="rotate(-45 78.40 232.40)">0.001</text>
<line x1="79.75" y1="225.60" x2="79.75" y2="227.50" stroke="#000" stroke-width="0.7"/>
<line x1="82.12" y1="225.60" x2="82.12" y2="227.50" stroke="#000" stroke-width="0.7"/>
<line x1="83.80" y1="225.60" x2="83.80" y2="227.50" stroke="#000" stroke-width="0.7"/>
<line x1="85.10" y1="225.60" x2="85.10" y2="227.50" stroke="#000" stroke-width="0.7"/>
<line x1="86.17" y1="225.60" x2="86.17" y2="227.50" stroke="#000" stroke-width="0.7"/>
<line x1="87.07" y1="225.60" x2="87.07" y2="227.50" stroke="#000" stroke-width="0.7"/>
<line x1="87.85" y1="225.60" x2="87.85" y2="227.50" stroke="#000" stroke-width="0.7"/>
<line x1="88.53" y1="225.60" x2="88.53" y2="227.50" stroke="#000" stroke-width="0.7"/>
<line x1="89.15" y1="225.60" x2="89.15" y2="228.80" stroke="#000" stroke-width="0.9"/>
<text x="91.85" y="232.40" font-size="7.8" text-anchor="end" fill="#303030" stroke="#303030" stroke-width="0.1" textLength="12.37" lengthAdjust="spacingAndGlyphs" transform="rotate(-45 91.85 232.40)">0.01</text>
<line x1="93.20" y1="225.60" x2="93.20" y2="227.50" stroke="#000" stroke-width="0.7"/>
<line x1="95.57" y1="225.60" x2="95.57" y2="227.50" stroke="#000" stroke-width="0.7"/>
<line x1="97.25" y1="225.60" x2="97.25" y2="227.50" stroke="#000" stroke-width="0.7"/>
<line x1="98.55" y1="225.60" x2="98.55" y2="227.50" stroke="#000" stroke-width="0.7"/>
<line x1="99.62" y1="225.60" x2="99.62" y2="227.50" stroke="#000" stroke-width="0.7"/>
<line x1="100.52" y1="225.60" x2="100.52" y2="227.50" stroke="#000" stroke-width="0.7"/>
<line x1="101.30" y1="225.60" x2="101.30" y2="227.50" stroke="#000" stroke-width="0.7"/>
<line x1="101.98" y1="225.60" x2="101.98" y2="227.50" stroke="#000" stroke-width="0.7"/>
<line x1="102.60" y1="225.60" x2="102.60" y2="228.80" stroke="#000" stroke-width="0.9"/>
<text x="105.30" y="232.40" font-size="7.8" text-anchor="end" fill="#303030" stroke="#303030" stroke-width="0.1" textLength="8.85" lengthAdjust="spacingAndGlyphs" transform="rotate(-45 105.30 232.40)">0.1</text>
<line x1="106.65" y1="225.60" x2="106.65" y2="227.50" stroke="#000" stroke-width="0.7"/>
<line x1="109.02" y1="225.60" x2="109.02" y2="227.50" stroke="#000" stroke-width="0.7"/>
<line x1="110.70" y1="225.60" x2="110.70" y2="227.50" stroke="#000" stroke-width="0.7"/>
<line x1="112.00" y1="225.60" x2="112.00" y2="227.50" stroke="#000" stroke-width="0.7"/>
<line x1="113.07" y1="225.60" x2="113.07" y2="227.50" stroke="#000" stroke-width="0.7"/>
<line x1="113.97" y1="225.60" x2="113.97" y2="227.50" stroke="#000" stroke-width="0.7"/>
<line x1="114.75" y1="225.60" x2="114.75" y2="227.50" stroke="#000" stroke-width="0.7"/>
<line x1="115.43" y1="225.60" x2="115.43" y2="227.50" stroke="#000" stroke-width="0.7"/>
<line x1="116.05" y1="225.60" x2="116.05" y2="228.80" stroke="#000" stroke-width="0.9"/>
<text x="118.75" y="232.40" font-size="7.8" text-anchor="end" fill="#303030" stroke="#303030" stroke-width="0.1" textLength="3.52" lengthAdjust="spacingAndGlyphs" transform="rotate(-45 118.75 232.40)">1</text>
<line x1="120.10" y1="225.60" x2="120.10" y2="227.50" stroke="#000" stroke-width="0.7"/>
<line x1="122.47" y1="225.60" x2="122.47" y2="227.50" stroke="#000" stroke-width="0.7"/>
<line x1="124.15" y1="225.60" x2="124.15" y2="227.50" stroke="#000" stroke-width="0.7"/>
<line x1="125.45" y1="225.60" x2="125.45" y2="227.50" stroke="#000" stroke-width="0.7"/>
<line x1="126.52" y1="225.60" x2="126.52" y2="227.50" stroke="#000" stroke-width="0.7"/>
<line x1="127.42" y1="225.60" x2="127.42" y2="227.50" stroke="#000" stroke-width="0.7"/>
<line x1="128.20" y1="225.60" x2="128.20" y2="227.50" stroke="#000" stroke-width="0.7"/>
<line x1="128.88" y1="225.60" x2="128.88" y2="227.50" stroke="#000" stroke-width="0.7"/>
<line x1="129.50" y1="225.60" x2="129.50" y2="228.80" stroke="#000" stroke-width="0.9"/>
<text x="132.20" y="232.40" font-size="7.8" text-anchor="end" fill="#303030" stroke="#303030" stroke-width="0.1" textLength="7.03" lengthAdjust="spacingAndGlyphs" transform="rotate(-45 132.20 232.40)">10</text>
<line x1="133.55" y1="225.60" x2="133.55" y2="227.50" stroke="#000" stroke-width="0.7"/>
<text x="16.30" y="192.20" font-size="8.8" text-anchor="middle" fill="#303030" stroke="#303030" stroke-width="0.1" textLength="28.60" lengthAdjust="spacingAndGlyphs" transform="rotate(-90 16.30 192.20)">Cell count</text>
<text x="50.00" y="256.70" font-size="9.3" text-anchor="start" fill="#303030" stroke="#303030" stroke-width="0.1" textLength="79.40" lengthAdjust="spacingAndGlyphs">TCB concentration/(µg/mL)</text>
<text x="89.40" y="153.60" font-size="7.0" text-anchor="middle" fill="#111" font-weight="bold" stroke="#111" stroke-width="0.4" textLength="30.70" lengthAdjust="spacingAndGlyphs">OCI-AML3</text>
<polyline points="49.30,167.61 49.97,167.61 50.64,167.61 51.31,167.61 51.98,167.61 52.65,167.61 53.32,167.61 53.99,167.61 54.66,167.61 55.33,167.61 56.00,167.61 56.67,167.61 57.34,167.61 58.01,167.61 58.68,167.61 59.35,167.61 60.02,167.61 60.69,167.61 61.36,167.61 62.03,167.61 62.70,167.61 63.37,167.61 64.04,167.61 64.71,167.61 65.38,167.61 66.05,167.61 66.72,167.61 67.39,167.61 68.06,167.61 68.73,167.61 69.40,167.61 70.07,167.61 70.74,167.61 71.41,167.61 72.08,167.61 72.75,167.61 73.42,167.61 74.09,167.61 74.76,167.61 75.43,167.61 76.10,167.61 76.77,167.61 77.44,167.61 78.11,167.61 78.78,167.61 79.45,167.61 80.12,167.61 80.79,167.61 81.46,167.61 82.13,167.61 82.80,167.61 83.47,167.61 84.14,167.61 84.81,167.61 85.48,167.61 86.15,167.61 86.82,167.61 87.49,167.61 88.16,167.61 88.83,167.61 89.50,167.61 90.17,167.61 90.84,167.61 91.51,167.61 92.18,167.61 92.85,167.61 93.52,167.61 94.19,167.61 94.86,167.61 95.53,167.61 96.20,167.61 96.87,167.61 97.54,167.61 98.21,167.61 98.88,167.61 99.55,167.61 100.22,167.61 100.89,167.61 101.56,167.61 102.23,167.61 102.90,167.61 103.57,167.61 104.24,167.61 104.91,167.61 105.58,167.61 106.25,167.61 106.92,167.61 107.59,167.61 108.26,167.61 108.93,167.61 109.60,167.61 110.27,167.61 110.94,167.61 111.61,167.61 112.28,167.61 112.95,167.61 113.62,167.61 114.29,167.61 114.96,167.61 115.63,167.61 116.30,167.61 116.97,167.61 117.64,167.61 118.31,167.61 118.98,167.61 119.65,167.61 120.32,167.61 120.99,167.61 121.66,167.62 122.33,167.62 123.00,167.63 123.67,167.64 124.34,167.65 125.01,167.69 125.68,167.74 126.35,167.84 127.02,168.00 127.69,168.25 128.36,168.63 129.03,169.14 129.70,169.74" fill="none" stroke="#1b5a98" stroke-width="1.35" stroke-linejoin="round" stroke-linecap="round"/>
<polyline points="49.30,166.15 49.97,166.15 50.64,166.15 51.31,166.15 51.98,166.15 52.65,166.15 53.32,166.15 53.99,166.15 54.66,166.15 55.33,166.15 56.00,166.15 56.67,166.15 57.34,166.15 58.01,166.15 58.68,166.15 59.35,166.15 60.02,166.15 60.69,166.15 61.36,166.15 62.03,166.15 62.70,166.15 63.37,166.15 64.04,166.15 64.71,166.15 65.38,166.15 66.05,166.15 66.72,166.15 67.39,166.15 68.06,166.15 68.73,166.15 69.40,166.15 70.07,166.15 70.74,166.15 71.41,166.15 72.08,166.15 72.75,166.15 73.42,166.15 74.09,166.15 74.76,166.15 75.43,166.15 76.10,166.15 76.77,166.15 77.44,166.15 78.11,166.15 78.78,166.15 79.45,166.15 80.12,166.15 80.79,166.15 81.46,166.15 82.13,166.15 82.80,166.15 83.47,166.15 84.14,166.15 84.81,166.15 85.48,166.15 86.15,166.15 86.82,166.15 87.49,166.15 88.16,166.15 88.83,166.15 89.50,166.15 90.17,166.15 90.84,166.15 91.51,166.16 92.18,166.16 92.85,166.16 93.52,166.17 94.19,166.17 94.86,166.18 95.53,166.19 96.20,166.21 96.87,166.23 97.54,166.27 98.21,166.31 98.88,166.37 99.55,166.46 100.22,166.57 100.89,166.73 101.56,166.95 102.23,167.25 102.90,167.65 103.57,168.19 104.24,168.92 104.91,169.87 105.58,171.10 106.25,172.68 106.92,174.62 107.59,176.96 108.26,179.65 108.93,182.63 109.60,185.77 110.27,188.90 110.94,191.88 111.61,194.58 112.28,196.91 112.95,198.86 113.62,200.43 114.29,201.67 114.96,202.62 115.63,203.34 116.30,203.88 116.97,204.28 117.64,204.58 118.31,204.80 118.98,204.96 119.65,205.07 120.32,205.16 120.99,205.22 121.66,205.27 122.33,205.30 123.00,205.32 123.67,205.34 124.34,205.35 125.01,205.36 125.68,205.37 126.35,205.37 127.02,205.38 127.69,205.38 128.36,205.38 129.03,205.38 129.70,205.38" fill="none" stroke="#c8102e" stroke-width="1.35" stroke-linejoin="round" stroke-linecap="round"/>
<line x1="49.30" y1="165.48" x2="49.30" y2="169.74" stroke="#1b5a98" stroke-width="0.85"/>
<line x1="48.30" y1="165.48" x2="50.30" y2="165.48" stroke="#1b5a98" stroke-width="0.85"/>
<line x1="48.30" y1="169.74" x2="50.30" y2="169.74" stroke="#1b5a98" stroke-width="0.85"/>
<circle cx="49.30" cy="167.61" r="1.45" fill="#1b5a98"/>
<line x1="73.50" y1="164.95" x2="73.50" y2="169.74" stroke="#1b5a98" stroke-width="0.85"/>
<line x1="72.50" y1="164.95" x2="74.50" y2="164.95" stroke="#1b5a98" stroke-width="0.85"/>
<line x1="72.50" y1="169.74" x2="74.50" y2="169.74" stroke="#1b5a98" stroke-width="0.85"/>
<circle cx="73.50" cy="167.35" r="1.45" fill="#1b5a98"/>
<line x1="82.87" y1="165.22" x2="82.87" y2="170.01" stroke="#1b5a98" stroke-width="0.85"/>
<line x1="81.87" y1="165.22" x2="83.87" y2="165.22" stroke="#1b5a98" stroke-width="0.85"/>
<line x1="81.87" y1="170.01" x2="83.87" y2="170.01" stroke="#1b5a98" stroke-width="0.85"/>
<circle cx="82.87" cy="167.61" r="1.45" fill="#1b5a98"/>
<line x1="92.24" y1="164.95" x2="92.24" y2="169.74" stroke="#1b5a98" stroke-width="0.85"/>
<line x1="91.24" y1="164.95" x2="93.24" y2="164.95" stroke="#1b5a98" stroke-width="0.85"/>
<line x1="91.24" y1="169.74" x2="93.24" y2="169.74" stroke="#1b5a98" stroke-width="0.85"/>
<circle cx="92.24" cy="167.35" r="1.45" fill="#1b5a98"/>
<line x1="101.60" y1="165.48" x2="101.60" y2="170.27" stroke="#1b5a98" stroke-width="0.85"/>
<line x1="100.60" y1="165.48" x2="102.60" y2="165.48" stroke="#1b5a98" stroke-width="0.85"/>
<line x1="100.60" y1="170.27" x2="102.60" y2="170.27" stroke="#1b5a98" stroke-width="0.85"/>
<circle cx="101.60" cy="167.88" r="1.45" fill="#1b5a98"/>
<line x1="110.97" y1="165.75" x2="110.97" y2="170.01" stroke="#1b5a98" stroke-width="0.85"/>
<line x1="109.97" y1="165.75" x2="111.97" y2="165.75" stroke="#1b5a98" stroke-width="0.85"/>
<line x1="109.97" y1="170.01" x2="111.97" y2="170.01" stroke="#1b5a98" stroke-width="0.85"/>
<circle cx="110.97" cy="167.88" r="1.45" fill="#1b5a98"/>
<line x1="120.33" y1="165.75" x2="120.33" y2="170.01" stroke="#1b5a98" stroke-width="0.85"/>
<line x1="119.33" y1="165.75" x2="121.33" y2="165.75" stroke="#1b5a98" stroke-width="0.85"/>
<line x1="119.33" y1="170.01" x2="121.33" y2="170.01" stroke="#1b5a98" stroke-width="0.85"/>
<circle cx="120.33" cy="167.88" r="1.45" fill="#1b5a98"/>
<line x1="129.70" y1="168.68" x2="129.70" y2="172.40" stroke="#1b5a98" stroke-width="0.85"/>
<line x1="128.70" y1="168.68" x2="130.70" y2="168.68" stroke="#1b5a98" stroke-width="0.85"/>
<line x1="128.70" y1="172.40" x2="130.70" y2="172.40" stroke="#1b5a98" stroke-width="0.85"/>
<circle cx="129.70" cy="170.54" r="1.45" fill="#1b5a98"/>
<line x1="49.30" y1="165.75" x2="49.30" y2="171.07" stroke="#c8102e" stroke-width="0.85"/>
<line x1="48.30" y1="165.75" x2="50.30" y2="165.75" stroke="#c8102e" stroke-width="0.85"/>
<line x1="48.30" y1="171.07" x2="50.30" y2="171.07" stroke="#c8102e" stroke-width="0.85"/>
<circle cx="49.30" cy="168.41" r="1.45" fill="#c8102e"/>
<line x1="73.50" y1="163.09" x2="73.50" y2="169.47" stroke="#c8102e" stroke-width="0.85"/>
<line x1="72.50" y1="163.09" x2="74.50" y2="163.09" stroke="#c8102e" stroke-width="0.85"/>
<line x1="72.50" y1="169.47" x2="74.50" y2="169.47" stroke="#c8102e" stroke-width="0.85"/>
<circle cx="73.50" cy="166.28" r="1.45" fill="#c8102e"/>
<line x1="82.87" y1="162.56" x2="82.87" y2="168.94" stroke="#c8102e" stroke-width="0.85"/>
<line x1="81.87" y1="162.56" x2="83.87" y2="162.56" stroke="#c8102e" stroke-width="0.85"/>
<line x1="81.87" y1="168.94" x2="83.87" y2="168.94" stroke="#c8102e" stroke-width="0.85"/>
<circle cx="82.87" cy="165.75" r="1.45" fill="#c8102e"/>
<line x1="92.24" y1="161.76" x2="92.24" y2="169.74" stroke="#c8102e" stroke-width="0.85"/>
<line x1="91.24" y1="161.76" x2="93.24" y2="161.76" stroke="#c8102e" stroke-width="0.85"/>
<line x1="91.24" y1="169.74" x2="93.24" y2="169.74" stroke="#c8102e" stroke-width="0.85"/>
<circle cx="92.24" cy="165.75" r="1.45" fill="#c8102e"/>
<line x1="101.60" y1="166.28" x2="101.60" y2="176.39" stroke="#c8102e" stroke-width="0.85"/>
<line x1="100.60" y1="166.28" x2="102.60" y2="166.28" stroke="#c8102e" stroke-width="0.85"/>
<line x1="100.60" y1="176.39" x2="102.60" y2="176.39" stroke="#c8102e" stroke-width="0.85"/>
<circle cx="101.60" cy="171.34" r="1.45" fill="#c8102e"/>
<line x1="110.97" y1="191.02" x2="110.97" y2="196.34" stroke="#c8102e" stroke-width="0.85"/>
<line x1="109.97" y1="191.02" x2="111.97" y2="191.02" stroke="#c8102e" stroke-width="0.85"/>
<line x1="109.97" y1="196.34" x2="111.97" y2="196.34" stroke="#c8102e" stroke-width="0.85"/>
<circle cx="110.97" cy="193.68" r="1.45" fill="#c8102e"/>
<line x1="120.33" y1="202.72" x2="120.33" y2="207.51" stroke="#c8102e" stroke-width="0.85"/>
<line x1="119.33" y1="202.72" x2="121.33" y2="202.72" stroke="#c8102e" stroke-width="0.85"/>
<line x1="119.33" y1="207.51" x2="121.33" y2="207.51" stroke="#c8102e" stroke-width="0.85"/>
<circle cx="120.33" cy="205.12" r="1.45" fill="#c8102e"/>
<line x1="129.70" y1="203.79" x2="129.70" y2="208.58" stroke="#c8102e" stroke-width="0.85"/>
<line x1="128.70" y1="203.79" x2="130.70" y2="203.79" stroke="#c8102e" stroke-width="0.85"/>
<line x1="128.70" y1="208.58" x2="130.70" y2="208.58" stroke="#c8102e" stroke-width="0.85"/>
<circle cx="129.70" cy="206.18" r="1.45" fill="#c8102e"/>
<line x1="145.90" y1="163.50" x2="153.10" y2="163.50" stroke="#c8102e" stroke-width="1.3"/>
<circle cx="149.50" cy="163.50" r="1.25" fill="#c8102e"/>
<text x="155.30" y="165.10" font-size="7.8" text-anchor="start" fill="#303030" stroke="#303030" stroke-width="0.1" textLength="26.90" lengthAdjust="spacingAndGlyphs">WT1-TCB</text>
<line x1="145.90" y1="171.90" x2="153.10" y2="171.90" stroke="#1b5a98" stroke-width="1.3"/>
<circle cx="149.50" cy="171.90" r="1.25" fill="#1b5a98"/>
<text x="155.30" y="173.80" font-size="7.8" text-anchor="start" fill="#303030" stroke="#303030" stroke-width="0.1" textLength="24.20" lengthAdjust="spacingAndGlyphs">Ctrl-TCB</text>
<line x1="295.00" y1="158.80" x2="295.00" y2="226.20" stroke="#000" stroke-width="1.2"/>
<line x1="292.50" y1="225.60" x2="383.30" y2="225.60" stroke="#000" stroke-width="1.3"/>
<line x1="292.00" y1="225.60" x2="295.00" y2="225.60" stroke="#000" stroke-width="1.0"/>
<text x="290.40" y="227.80" font-size="7.9" text-anchor="end" fill="#303030" stroke="#303030" stroke-width="0.1" textLength="3.38" lengthAdjust="spacingAndGlyphs">0</text>
<line x1="292.00" y1="212.30" x2="295.00" y2="212.30" stroke="#000" stroke-width="1.0"/>
<text x="290.40" y="214.50" font-size="7.9" text-anchor="end" fill="#303030" stroke="#303030" stroke-width="0.1" textLength="13.52" lengthAdjust="spacingAndGlyphs">5000</text>
<line x1="292.00" y1="199.00" x2="295.00" y2="199.00" stroke="#000" stroke-width="1.0"/>
<text x="290.40" y="201.20" font-size="7.9" text-anchor="end" fill="#303030" stroke="#303030" stroke-width="0.1" textLength="16.90" lengthAdjust="spacingAndGlyphs">10000</text>
<line x1="292.00" y1="185.70" x2="295.00" y2="185.70" stroke="#000" stroke-width="1.0"/>
<text x="290.40" y="187.90" font-size="7.9" text-anchor="end" fill="#303030" stroke="#303030" stroke-width="0.1" textLength="16.90" lengthAdjust="spacingAndGlyphs">15000</text>
<line x1="292.00" y1="172.40" x2="295.00" y2="172.40" stroke="#000" stroke-width="1.0"/>
<text x="290.40" y="174.60" font-size="7.9" text-anchor="end" fill="#303030" stroke="#303030" stroke-width="0.1" textLength="16.90" lengthAdjust="spacingAndGlyphs">20000</text>
<line x1="292.00" y1="159.10" x2="295.00" y2="159.10" stroke="#000" stroke-width="1.0"/>
<text x="290.40" y="161.30" font-size="7.9" text-anchor="end" fill="#303030" stroke="#303030" stroke-width="0.1" textLength="16.90" lengthAdjust="spacingAndGlyphs">25000</text>
<line x1="298.80" y1="225.60" x2="298.80" y2="228.80" stroke="#000" stroke-width="0.9"/>
<text x="301.50" y="232.40" font-size="7.8" text-anchor="end" fill="#303030" stroke="#303030" stroke-width="0.1" textLength="22.91" lengthAdjust="spacingAndGlyphs" transform="rotate(-45 301.50 232.40)">0.00001</text>
<line x1="302.83" y1="225.60" x2="302.83" y2="227.50" stroke="#000" stroke-width="0.7"/>
<line x1="305.19" y1="225.60" x2="305.19" y2="227.50" stroke="#000" stroke-width="0.7"/>
<line x1="306.87" y1="225.60" x2="306.87" y2="227.50" stroke="#000" stroke-width="0.7"/>
<line x1="308.17" y1="225.60" x2="308.17" y2="227.50" stroke="#000" stroke-width="0.7"/>
<line x1="309.23" y1="225.60" x2="309.23" y2="227.50" stroke="#000" stroke-width="0.7"/>
<line x1="310.12" y1="225.60" x2="310.12" y2="227.50" stroke="#000" stroke-width="0.7"/>
<line x1="310.90" y1="225.60" x2="310.90" y2="227.50" stroke="#000" stroke-width="0.7"/>
<line x1="311.59" y1="225.60" x2="311.59" y2="227.50" stroke="#000" stroke-width="0.7"/>
<line x1="312.20" y1="225.60" x2="312.20" y2="228.80" stroke="#000" stroke-width="0.9"/>
<text x="314.90" y="232.40" font-size="7.8" text-anchor="end" fill="#303030" stroke="#303030" stroke-width="0.1" textLength="19.40" lengthAdjust="spacingAndGlyphs" transform="rotate(-45 314.90 232.40)">0.0001</text>
<line x1="316.23" y1="225.60" x2="316.23" y2="227.50" stroke="#000" stroke-width="0.7"/>
<line x1="318.59" y1="225.60" x2="318.59" y2="227.50" stroke="#000" stroke-width="0.7"/>
<line x1="320.27" y1="225.60" x2="320.27" y2="227.50" stroke="#000" stroke-width="0.7"/>
<line x1="321.57" y1="225.60" x2="321.57" y2="227.50" stroke="#000" stroke-width="0.7"/>
<line x1="322.63" y1="225.60" x2="322.63" y2="227.50" stroke="#000" stroke-width="0.7"/>
<line x1="323.52" y1="225.60" x2="323.52" y2="227.50" stroke="#000" stroke-width="0.7"/>
<line x1="324.30" y1="225.60" x2="324.30" y2="227.50" stroke="#000" stroke-width="0.7"/>
<line x1="324.99" y1="225.60" x2="324.99" y2="227.50" stroke="#000" stroke-width="0.7"/>
<line x1="325.60" y1="225.60" x2="325.60" y2="228.80" stroke="#000" stroke-width="0.9"/>
<text x="328.30" y="232.40" font-size="7.8" text-anchor="end" fill="#303030" stroke="#303030" stroke-width="0.1" textLength="15.88" lengthAdjust="spacingAndGlyphs" transform="rotate(-45 328.30 232.40)">0.001</text>
<line x1="329.63" y1="225.60" x2="329.63" y2="227.50" stroke="#000" stroke-width="0.7"/>
<line x1="331.99" y1="225.60" x2="331.99" y2="227.50" stroke="#000" stroke-width="0.7"/>
<line x1="333.67" y1="225.60" x2="333.67" y2="227.50" stroke="#000" stroke-width="0.7"/>
<line x1="334.97" y1="225.60" x2="334.97" y2="227.50" stroke="#000" stroke-width="0.7"/>
<line x1="336.03" y1="225.60" x2="336.03" y2="227.50" stroke="#000" stroke-width="0.7"/>
<line x1="336.92" y1="225.60" x2="336.92" y2="227.50" stroke="#000" stroke-width="0.7"/>
<line x1="337.70" y1="225.60" x2="337.70" y2="227.50" stroke="#000" stroke-width="0.7"/>
<line x1="338.39" y1="225.60" x2="338.39" y2="227.50" stroke="#000" stroke-width="0.7"/>
<line x1="339.00" y1="225.60" x2="339.00" y2="228.80" stroke="#000" stroke-width="0.9"/>
<text x="341.70" y="232.40" font-size="7.8" text-anchor="end" fill="#303030" stroke="#303030" stroke-width="0.1" textLength="12.37" lengthAdjust="spacingAndGlyphs" transform="rotate(-45 341.70 232.40)">0.01</text>
<line x1="343.03" y1="225.60" x2="343.03" y2="227.50" stroke="#000" stroke-width="0.7"/>
<line x1="345.39" y1="225.60" x2="345.39" y2="227.50" stroke="#000" stroke-width="0.7"/>
<line x1="347.07" y1="225.60" x2="347.07" y2="227.50" stroke="#000" stroke-width="0.7"/>
<line x1="348.37" y1="225.60" x2="348.37" y2="227.50" stroke="#000" stroke-width="0.7"/>
<line x1="349.43" y1="225.60" x2="349.43" y2="227.50" stroke="#000" stroke-width="0.7"/>
<line x1="350.32" y1="225.60" x2="350.32" y2="227.50" stroke="#000" stroke-width="0.7"/>
<line x1="351.10" y1="225.60" x2="351.10" y2="227.50" stroke="#000" stroke-width="0.7"/>
<line x1="351.79" y1="225.60" x2="351.79" y2="227.50" stroke="#000" stroke-width="0.7"/>
<line x1="352.40" y1="225.60" x2="352.40" y2="228.80" stroke="#000" stroke-width="0.9"/>
<text x="355.10" y="232.40" font-size="7.8" text-anchor="end" fill="#303030" stroke="#303030" stroke-width="0.1" textLength="8.85" lengthAdjust="spacingAndGlyphs" transform="rotate(-45 355.10 232.40)">0.1</text>
<line x1="356.43" y1="225.60" x2="356.43" y2="227.50" stroke="#000" stroke-width="0.7"/>
<line x1="358.79" y1="225.60" x2="358.79" y2="227.50" stroke="#000" stroke-width="0.7"/>
<line x1="360.47" y1="225.60" x2="360.47" y2="227.50" stroke="#000" stroke-width="0.7"/>
<line x1="361.77" y1="225.60" x2="361.77" y2="227.50" stroke="#000" stroke-width="0.7"/>
<line x1="362.83" y1="225.60" x2="362.83" y2="227.50" stroke="#000" stroke-width="0.7"/>
<line x1="363.72" y1="225.60" x2="363.72" y2="227.50" stroke="#000" stroke-width="0.7"/>
<line x1="364.50" y1="225.60" x2="364.50" y2="227.50" stroke="#000" stroke-width="0.7"/>
<line x1="365.19" y1="225.60" x2="365.19" y2="227.50" stroke="#000" stroke-width="0.7"/>
<line x1="365.80" y1="225.60" x2="365.80" y2="228.80" stroke="#000" stroke-width="0.9"/>
<text x="368.50" y="232.40" font-size="7.8" text-anchor="end" fill="#303030" stroke="#303030" stroke-width="0.1" textLength="3.52" lengthAdjust="spacingAndGlyphs" transform="rotate(-45 368.50 232.40)">1</text>
<line x1="369.83" y1="225.60" x2="369.83" y2="227.50" stroke="#000" stroke-width="0.7"/>
<line x1="372.19" y1="225.60" x2="372.19" y2="227.50" stroke="#000" stroke-width="0.7"/>
<line x1="373.87" y1="225.60" x2="373.87" y2="227.50" stroke="#000" stroke-width="0.7"/>
<line x1="375.17" y1="225.60" x2="375.17" y2="227.50" stroke="#000" stroke-width="0.7"/>
<line x1="376.23" y1="225.60" x2="376.23" y2="227.50" stroke="#000" stroke-width="0.7"/>
<line x1="377.12" y1="225.60" x2="377.12" y2="227.50" stroke="#000" stroke-width="0.7"/>
<line x1="377.90" y1="225.60" x2="377.90" y2="227.50" stroke="#000" stroke-width="0.7"/>
<line x1="378.59" y1="225.60" x2="378.59" y2="227.50" stroke="#000" stroke-width="0.7"/>
<line x1="379.20" y1="225.60" x2="379.20" y2="228.80" stroke="#000" stroke-width="0.9"/>
<text x="381.90" y="232.40" font-size="7.8" text-anchor="end" fill="#303030" stroke="#303030" stroke-width="0.1" textLength="7.03" lengthAdjust="spacingAndGlyphs" transform="rotate(-45 381.90 232.40)">10</text>
<line x1="383.23" y1="225.60" x2="383.23" y2="227.50" stroke="#000" stroke-width="0.7"/>
<text x="265.60" y="192.20" font-size="8.8" text-anchor="middle" fill="#303030" stroke="#303030" stroke-width="0.1" textLength="28.60" lengthAdjust="spacingAndGlyphs" transform="rotate(-90 265.60 192.20)">Cell count</text>
<text x="300.40" y="256.70" font-size="9.3" text-anchor="start" fill="#303030" stroke="#303030" stroke-width="0.1" textLength="78.10" lengthAdjust="spacingAndGlyphs">TCB concentration/(µg/mL)</text>
<text x="338.60" y="153.60" font-size="7.0" text-anchor="middle" fill="#111" font-weight="bold" stroke="#111" stroke-width="0.4" textLength="16.20" lengthAdjust="spacingAndGlyphs">SKM1</text>
<polyline points="299.00,173.86 299.67,173.86 300.34,173.86 301.01,173.86 301.68,173.86 302.35,173.86 303.01,173.86 303.68,173.86 304.35,173.86 305.02,173.86 305.69,173.86 306.36,173.86 307.03,173.86 307.70,173.86 308.37,173.86 309.04,173.86 309.70,173.86 310.37,173.86 311.04,173.86 311.71,173.86 312.38,173.86 313.05,173.86 313.72,173.86 314.39,173.86 315.06,173.86 315.73,173.86 316.39,173.86 317.06,173.86 317.73,173.86 318.40,173.86 319.07,173.86 319.74,173.86 320.41,173.86 321.08,173.86 321.75,173.86 322.42,173.86 323.08,173.86 323.75,173.86 324.42,173.86 325.09,173.86 325.76,173.86 326.43,173.86 327.10,173.86 327.77,173.86 328.44,173.86 329.11,173.86 329.77,173.86 330.44,173.86 331.11,173.86 331.78,173.86 332.45,173.86 333.12,173.86 333.79,173.86 334.46,173.86 335.13,173.86 335.80,173.86 336.46,173.86 337.13,173.86 337.80,173.86 338.47,173.86 339.14,173.86 339.81,173.86 340.48,173.86 341.15,173.86 341.82,173.86 342.49,173.86 343.15,173.86 343.82,173.86 344.49,173.86 345.16,173.86 345.83,173.86 346.50,173.86 347.17,173.86 347.84,173.86 348.51,173.86 349.18,173.86 349.84,173.86 350.51,173.86 351.18,173.86 351.85,173.86 352.52,173.86 353.19,173.86 353.86,173.86 354.53,173.86 355.20,173.86 355.87,173.86 356.53,173.86 357.20,173.86 357.87,173.86 358.54,173.86 359.21,173.86 359.88,173.86 360.55,173.86 361.22,173.86 361.89,173.86 362.56,173.86 363.22,173.86 363.89,173.86 364.56,173.86 365.23,173.86 365.90,173.86 366.57,173.86 367.24,173.86 367.91,173.87 368.58,173.90 369.25,174.02 369.91,174.61 370.58,176.56 371.25,179.55 371.92,181.16 372.59,181.59 373.26,181.69 373.93,181.71 374.60,181.71 375.27,181.71 375.94,181.71 376.60,181.71 377.27,181.71 377.94,181.71 378.61,181.71 379.28,181.71" fill="none" stroke="#1b5a98" stroke-width="1.35" stroke-linejoin="round" stroke-linecap="round"/>
<polyline points="299.00,173.07 299.67,173.07 300.34,173.07 301.01,173.07 301.68,173.07 302.35,173.07 303.01,173.07 303.68,173.07 304.35,173.07 305.02,173.07 305.69,173.07 306.36,173.07 307.03,173.07 307.70,173.07 308.37,173.07 309.04,173.07 309.70,173.07 310.37,173.07 311.04,173.07 311.71,173.07 312.38,173.07 313.05,173.07 313.72,173.07 314.39,173.07 315.06,173.07 315.73,173.07 316.39,173.07 317.06,173.07 317.73,173.07 318.40,173.07 319.07,173.07 319.74,173.07 320.41,173.07 321.08,173.07 321.75,173.07 322.42,173.07 323.08,173.08 323.75,173.08 324.42,173.09 325.09,173.10 325.76,173.11 326.43,173.13 327.10,173.16 327.77,173.19 328.44,173.24 329.11,173.31 329.77,173.41 330.44,173.54 331.11,173.73 331.78,173.99 332.45,174.35 333.12,174.84 333.79,175.51 334.46,176.41 335.13,177.61 335.80,179.18 336.46,181.20 337.13,183.72 337.80,186.75 338.47,190.26 339.14,194.12 339.81,198.15 340.48,202.14 341.15,205.87 341.82,209.20 342.49,212.02 343.15,214.34 343.82,216.17 344.49,217.59 345.16,218.66 345.83,219.46 346.50,220.05 347.17,220.48 347.84,220.80 348.51,221.03 349.18,221.19 349.84,221.31 350.51,221.39 351.18,221.45 351.85,221.50 352.52,221.53 353.19,221.55 353.86,221.57 354.53,221.58 355.20,221.59 355.87,221.59 356.53,221.60 357.20,221.60 357.87,221.60 358.54,221.61 359.21,221.61 359.88,221.61 360.55,221.61 361.22,221.61 361.89,221.61 362.56,221.61 363.22,221.61 363.89,221.61 364.56,221.61 365.23,221.61 365.90,221.61 366.57,221.61 367.24,221.61 367.91,221.61 368.58,221.61 369.25,221.61 369.91,221.61 370.58,221.61 371.25,221.61 371.92,221.61 372.59,221.61 373.26,221.61 373.93,221.61 374.60,221.61 375.27,221.61 375.94,221.61 376.60,221.61 377.27,221.61 377.94,221.61 378.61,221.61 379.28,221.61" fill="none" stroke="#c8102e" stroke-width="1.35" stroke-linejoin="round" stroke-linecap="round"/>
<line x1="299.00" y1="172.13" x2="299.00" y2="176.39" stroke="#1b5a98" stroke-width="0.85"/>
<line x1="298.00" y1="172.13" x2="300.00" y2="172.13" stroke="#1b5a98" stroke-width="0.85"/>
<line x1="298.00" y1="176.39" x2="300.00" y2="176.39" stroke="#1b5a98" stroke-width="0.85"/>
<circle cx="299.00" cy="174.26" r="1.45" fill="#1b5a98"/>
<line x1="323.17" y1="171.60" x2="323.17" y2="176.39" stroke="#1b5a98" stroke-width="0.85"/>
<line x1="322.17" y1="171.60" x2="324.17" y2="171.60" stroke="#1b5a98" stroke-width="0.85"/>
<line x1="322.17" y1="176.39" x2="324.17" y2="176.39" stroke="#1b5a98" stroke-width="0.85"/>
<circle cx="323.17" cy="174.00" r="1.45" fill="#1b5a98"/>
<line x1="332.52" y1="171.34" x2="332.52" y2="176.12" stroke="#1b5a98" stroke-width="0.85"/>
<line x1="331.52" y1="171.34" x2="333.52" y2="171.34" stroke="#1b5a98" stroke-width="0.85"/>
<line x1="331.52" y1="176.12" x2="333.52" y2="176.12" stroke="#1b5a98" stroke-width="0.85"/>
<circle cx="332.52" cy="173.73" r="1.45" fill="#1b5a98"/>
<line x1="341.87" y1="171.87" x2="341.87" y2="176.12" stroke="#1b5a98" stroke-width="0.85"/>
<line x1="340.87" y1="171.87" x2="342.87" y2="171.87" stroke="#1b5a98" stroke-width="0.85"/>
<line x1="340.87" y1="176.12" x2="342.87" y2="176.12" stroke="#1b5a98" stroke-width="0.85"/>
<circle cx="341.87" cy="174.00" r="1.45" fill="#1b5a98"/>
<line x1="351.22" y1="171.87" x2="351.22" y2="176.12" stroke="#1b5a98" stroke-width="0.85"/>
<line x1="350.22" y1="171.87" x2="352.22" y2="171.87" stroke="#1b5a98" stroke-width="0.85"/>
<line x1="350.22" y1="176.12" x2="352.22" y2="176.12" stroke="#1b5a98" stroke-width="0.85"/>
<circle cx="351.22" cy="174.00" r="1.45" fill="#1b5a98"/>
<line x1="360.58" y1="171.87" x2="360.58" y2="176.12" stroke="#1b5a98" stroke-width="0.85"/>
<line x1="359.58" y1="171.87" x2="361.58" y2="171.87" stroke="#1b5a98" stroke-width="0.85"/>
<line x1="359.58" y1="176.12" x2="361.58" y2="176.12" stroke="#1b5a98" stroke-width="0.85"/>
<circle cx="360.58" cy="174.00" r="1.45" fill="#1b5a98"/>
<line x1="369.93" y1="172.40" x2="369.93" y2="175.59" stroke="#1b5a98" stroke-width="0.85"/>
<line x1="368.93" y1="172.40" x2="370.93" y2="172.40" stroke="#1b5a98" stroke-width="0.85"/>
<line x1="368.93" y1="175.59" x2="370.93" y2="175.59" stroke="#1b5a98" stroke-width="0.85"/>
<circle cx="369.93" cy="174.00" r="1.45" fill="#1b5a98"/>
<line x1="379.28" y1="179.32" x2="379.28" y2="184.10" stroke="#1b5a98" stroke-width="0.85"/>
<line x1="378.28" y1="179.32" x2="380.28" y2="179.32" stroke="#1b5a98" stroke-width="0.85"/>
<line x1="378.28" y1="184.10" x2="380.28" y2="184.10" stroke="#1b5a98" stroke-width="0.85"/>
<circle cx="379.28" cy="181.71" r="1.45" fill="#1b5a98"/>
<line x1="299.00" y1="171.07" x2="299.00" y2="174.79" stroke="#c8102e" stroke-width="0.85"/>
<line x1="298.00" y1="171.07" x2="300.00" y2="171.07" stroke="#c8102e" stroke-width="0.85"/>
<line x1="298.00" y1="174.79" x2="300.00" y2="174.79" stroke="#c8102e" stroke-width="0.85"/>
<circle cx="299.00" cy="172.93" r="1.45" fill="#c8102e"/>
<line x1="323.17" y1="171.34" x2="323.17" y2="176.12" stroke="#c8102e" stroke-width="0.85"/>
<line x1="322.17" y1="171.34" x2="324.17" y2="171.34" stroke="#c8102e" stroke-width="0.85"/>
<line x1="322.17" y1="176.12" x2="324.17" y2="176.12" stroke="#c8102e" stroke-width="0.85"/>
<circle cx="323.17" cy="173.73" r="1.45" fill="#c8102e"/>
<line x1="332.52" y1="178.25" x2="332.52" y2="182.51" stroke="#c8102e" stroke-width="0.85"/>
<line x1="331.52" y1="178.25" x2="333.52" y2="178.25" stroke="#c8102e" stroke-width="0.85"/>
<line x1="331.52" y1="182.51" x2="333.52" y2="182.51" stroke="#c8102e" stroke-width="0.85"/>
<circle cx="332.52" cy="180.38" r="1.45" fill="#c8102e"/>
<line x1="341.87" y1="205.38" x2="341.87" y2="208.58" stroke="#c8102e" stroke-width="0.85"/>
<line x1="340.87" y1="205.38" x2="342.87" y2="205.38" stroke="#c8102e" stroke-width="0.85"/>
<line x1="340.87" y1="208.58" x2="342.87" y2="208.58" stroke="#c8102e" stroke-width="0.85"/>
<circle cx="341.87" cy="206.98" r="1.45" fill="#c8102e"/>
<line x1="351.22" y1="218.95" x2="351.22" y2="220.55" stroke="#c8102e" stroke-width="0.85"/>
<line x1="350.22" y1="218.95" x2="352.22" y2="218.95" stroke="#c8102e" stroke-width="0.85"/>
<line x1="350.22" y1="220.55" x2="352.22" y2="220.55" stroke="#c8102e" stroke-width="0.85"/>
<circle cx="351.22" cy="219.75" r="1.45" fill="#c8102e"/>
<line x1="360.58" y1="220.81" x2="360.58" y2="221.88" stroke="#c8102e" stroke-width="0.85"/>
<line x1="359.58" y1="220.81" x2="361.58" y2="220.81" stroke="#c8102e" stroke-width="0.85"/>
<line x1="359.58" y1="221.88" x2="361.58" y2="221.88" stroke="#c8102e" stroke-width="0.85"/>
<circle cx="360.58" cy="221.34" r="1.45" fill="#c8102e"/>
<line x1="369.93" y1="220.81" x2="369.93" y2="221.88" stroke="#c8102e" stroke-width="0.85"/>
<line x1="368.93" y1="220.81" x2="370.93" y2="220.81" stroke="#c8102e" stroke-width="0.85"/>
<line x1="368.93" y1="221.88" x2="370.93" y2="221.88" stroke="#c8102e" stroke-width="0.85"/>
<circle cx="369.93" cy="221.34" r="1.45" fill="#c8102e"/>
<line x1="379.28" y1="221.08" x2="379.28" y2="222.14" stroke="#c8102e" stroke-width="0.85"/>
<line x1="378.28" y1="221.08" x2="380.28" y2="221.08" stroke="#c8102e" stroke-width="0.85"/>
<line x1="378.28" y1="222.14" x2="380.28" y2="222.14" stroke="#c8102e" stroke-width="0.85"/>
<circle cx="379.28" cy="221.61" r="1.45" fill="#c8102e"/>
<line x1="393.20" y1="163.50" x2="400.40" y2="163.50" stroke="#c8102e" stroke-width="1.3"/>
<circle cx="396.80" cy="163.50" r="1.25" fill="#c8102e"/>
<text x="402.60" y="165.10" font-size="7.8" text-anchor="start" fill="#303030" stroke="#303030" stroke-width="0.1" textLength="26.90" lengthAdjust="spacingAndGlyphs">WT1-TCB</text>
<line x1="393.20" y1="171.90" x2="400.40" y2="171.90" stroke="#1b5a98" stroke-width="1.3"/>
<circle cx="396.80" cy="171.90" r="1.25" fill="#1b5a98"/>
<text x="402.60" y="173.80" font-size="7.8" text-anchor="start" fill="#303030" stroke="#303030" stroke-width="0.1" textLength="24.20" lengthAdjust="spacingAndGlyphs">Ctrl-TCB</text>
<line x1="45.20" y1="286.70" x2="45.20" y2="353.90" stroke="#000" stroke-width="1.2"/>
<line x1="42.70" y1="353.30" x2="133.00" y2="353.30" stroke="#000" stroke-width="1.3"/>
<line x1="42.20" y1="353.30" x2="45.20" y2="353.30" stroke="#000" stroke-width="1.0"/>
<text x="40.60" y="355.50" font-size="7.9" text-anchor="end" fill="#303030" stroke="#303030" stroke-width="0.1" textLength="3.38" lengthAdjust="spacingAndGlyphs">0</text>
<line x1="42.20" y1="340.04" x2="45.20" y2="340.04" stroke="#000" stroke-width="1.0"/>
<text x="40.60" y="342.24" font-size="7.9" text-anchor="end" fill="#303030" stroke="#303030" stroke-width="0.1" textLength="16.90" lengthAdjust="spacingAndGlyphs">10000</text>
<line x1="42.20" y1="326.78" x2="45.20" y2="326.78" stroke="#000" stroke-width="1.0"/>
<text x="40.60" y="328.98" font-size="7.9" text-anchor="end" fill="#303030" stroke="#303030" stroke-width="0.1" textLength="16.90" lengthAdjust="spacingAndGlyphs">20000</text>
<line x1="42.20" y1="313.52" x2="45.20" y2="313.52" stroke="#000" stroke-width="1.0"/>
<text x="40.60" y="315.72" font-size="7.9" text-anchor="end" fill="#303030" stroke="#303030" stroke-width="0.1" textLength="16.90" lengthAdjust="spacingAndGlyphs">30000</text>
<line x1="42.20" y1="300.26" x2="45.20" y2="300.26" stroke="#000" stroke-width="1.0"/>
<text x="40.60" y="302.46" font-size="7.9" text-anchor="end" fill="#303030" stroke="#303030" stroke-width="0.1" textLength="16.90" lengthAdjust="spacingAndGlyphs">40000</text>
<line x1="42.20" y1="287.00" x2="45.20" y2="287.00" stroke="#000" stroke-width="1.0"/>
<text x="40.60" y="289.20" font-size="7.9" text-anchor="end" fill="#303030" stroke="#303030" stroke-width="0.1" textLength="16.90" lengthAdjust="spacingAndGlyphs">50000</text>
<line x1="48.70" y1="353.30" x2="48.70" y2="356.50" stroke="#000" stroke-width="0.9"/>
<text x="51.40" y="360.10" font-size="7.8" text-anchor="end" fill="#303030" stroke="#303030" stroke-width="0.1" textLength="22.91" lengthAdjust="spacingAndGlyphs" transform="rotate(-45 51.40 360.10)">0.00001</text>
<line x1="52.72" y1="353.30" x2="52.72" y2="355.20" stroke="#000" stroke-width="0.7"/>
<line x1="55.07" y1="353.30" x2="55.07" y2="355.20" stroke="#000" stroke-width="0.7"/>
<line x1="56.74" y1="353.30" x2="56.74" y2="355.20" stroke="#000" stroke-width="0.7"/>
<line x1="58.03" y1="353.30" x2="58.03" y2="355.20" stroke="#000" stroke-width="0.7"/>
<line x1="59.09" y1="353.30" x2="59.09" y2="355.20" stroke="#000" stroke-width="0.7"/>
<line x1="59.98" y1="353.30" x2="59.98" y2="355.20" stroke="#000" stroke-width="0.7"/>
<line x1="60.76" y1="353.30" x2="60.76" y2="355.20" stroke="#000" stroke-width="0.7"/>
<line x1="61.44" y1="353.30" x2="61.44" y2="355.20" stroke="#000" stroke-width="0.7"/>
<line x1="62.05" y1="353.30" x2="62.05" y2="356.50" stroke="#000" stroke-width="0.9"/>
<text x="64.75" y="360.10" font-size="7.8" text-anchor="end" fill="#303030" stroke="#303030" stroke-width="0.1" textLength="19.40" lengthAdjust="spacingAndGlyphs" transform="rotate(-45 64.75 360.10)">0.0001</text>
<line x1="66.07" y1="353.30" x2="66.07" y2="355.20" stroke="#000" stroke-width="0.7"/>
<line x1="68.42" y1="353.30" x2="68.42" y2="355.20" stroke="#000" stroke-width="0.7"/>
<line x1="70.09" y1="353.30" x2="70.09" y2="355.20" stroke="#000" stroke-width="0.7"/>
<line x1="71.38" y1="353.30" x2="71.38" y2="355.20" stroke="#000" stroke-width="0.7"/>
<line x1="72.44" y1="353.30" x2="72.44" y2="355.20" stroke="#000" stroke-width="0.7"/>
<line x1="73.33" y1="353.30" x2="73.33" y2="355.20" stroke="#000" stroke-width="0.7"/>
<line x1="74.11" y1="353.30" x2="74.11" y2="355.20" stroke="#000" stroke-width="0.7"/>
<line x1="74.79" y1="353.30" x2="74.79" y2="355.20" stroke="#000" stroke-width="0.7"/>
<line x1="75.40" y1="353.30" x2="75.40" y2="356.50" stroke="#000" stroke-width="0.9"/>
<text x="78.10" y="360.10" font-size="7.8" text-anchor="end" fill="#303030" stroke="#303030" stroke-width="0.1" textLength="15.88" lengthAdjust="spacingAndGlyphs" transform="rotate(-45 78.10 360.10)">0.001</text>
<line x1="79.42" y1="353.30" x2="79.42" y2="355.20" stroke="#000" stroke-width="0.7"/>
<line x1="81.77" y1="353.30" x2="81.77" y2="355.20" stroke="#000" stroke-width="0.7"/>
<line x1="83.44" y1="353.30" x2="83.44" y2="355.20" stroke="#000" stroke-width="0.7"/>
<line x1="84.73" y1="353.30" x2="84.73" y2="355.20" stroke="#000" stroke-width="0.7"/>
<line x1="85.79" y1="353.30" x2="85.79" y2="355.20" stroke="#000" stroke-width="0.7"/>
<line x1="86.68" y1="353.30" x2="86.68" y2="355.20" stroke="#000" stroke-width="0.7"/>
<line x1="87.46" y1="353.30" x2="87.46" y2="355.20" stroke="#000" stroke-width="0.7"/>
<line x1="88.14" y1="353.30" x2="88.14" y2="355.20" stroke="#000" stroke-width="0.7"/>
<line x1="88.75" y1="353.30" x2="88.75" y2="356.50" stroke="#000" stroke-width="0.9"/>
<text x="91.45" y="360.10" font-size="7.8" text-anchor="end" fill="#303030" stroke="#303030" stroke-width="0.1" textLength="12.37" lengthAdjust="spacingAndGlyphs" transform="rotate(-45 91.45 360.10)">0.01</text>
<line x1="92.77" y1="353.30" x2="92.77" y2="355.20" stroke="#000" stroke-width="0.7"/>
<line x1="95.12" y1="353.30" x2="95.12" y2="355.20" stroke="#000" stroke-width="0.7"/>
<line x1="96.79" y1="353.30" x2="96.79" y2="355.20" stroke="#000" stroke-width="0.7"/>
<line x1="98.08" y1="353.30" x2="98.08" y2="355.20" stroke="#000" stroke-width="0.7"/>
<line x1="99.14" y1="353.30" x2="99.14" y2="355.20" stroke="#000" stroke-width="0.7"/>
<line x1="100.03" y1="353.30" x2="100.03" y2="355.20" stroke="#000" stroke-width="0.7"/>
<line x1="100.81" y1="353.30" x2="100.81" y2="355.20" stroke="#000" stroke-width="0.7"/>
<line x1="101.49" y1="353.30" x2="101.49" y2="355.20" stroke="#000" stroke-width="0.7"/>
<line x1="102.10" y1="353.30" x2="102.10" y2="356.50" stroke="#000" stroke-width="0.9"/>
<text x="104.80" y="360.10" font-size="7.8" text-anchor="end" fill="#303030" stroke="#303030" stroke-width="0.1" textLength="8.85" lengthAdjust="spacingAndGlyphs" transform="rotate(-45 104.80 360.10)">0.1</text>
<line x1="106.12" y1="353.30" x2="106.12" y2="355.20" stroke="#000" stroke-width="0.7"/>
<line x1="108.47" y1="353.30" x2="108.47" y2="355.20" stroke="#000" stroke-width="0.7"/>
<line x1="110.14" y1="353.30" x2="110.14" y2="355.20" stroke="#000" stroke-width="0.7"/>
<line x1="111.43" y1="353.30" x2="111.43" y2="355.20" stroke="#000" stroke-width="0.7"/>
<line x1="112.49" y1="353.30" x2="112.49" y2="355.20" stroke="#000" stroke-width="0.7"/>
<line x1="113.38" y1="353.30" x2="113.38" y2="355.20" stroke="#000" stroke-width="0.7"/>
<line x1="114.16" y1="353.30" x2="114.16" y2="355.20" stroke="#000" stroke-width="0.7"/>
<line x1="114.84" y1="353.30" x2="114.84" y2="355.20" stroke="#000" stroke-width="0.7"/>
<line x1="115.45" y1="353.30" x2="115.45" y2="356.50" stroke="#000" stroke-width="0.9"/>
<text x="118.15" y="360.10" font-size="7.8" text-anchor="end" fill="#303030" stroke="#303030" stroke-width="0.1" textLength="3.52" lengthAdjust="spacingAndGlyphs" transform="rotate(-45 118.15 360.10)">1</text>
<line x1="119.47" y1="353.30" x2="119.47" y2="355.20" stroke="#000" stroke-width="0.7"/>
<line x1="121.82" y1="353.30" x2="121.82" y2="355.20" stroke="#000" stroke-width="0.7"/>
<line x1="123.49" y1="353.30" x2="123.49" y2="355.20" stroke="#000" stroke-width="0.7"/>
<line x1="124.78" y1="353.30" x2="124.78" y2="355.20" stroke="#000" stroke-width="0.7"/>
<line x1="125.84" y1="353.30" x2="125.84" y2="355.20" stroke="#000" stroke-width="0.7"/>
<line x1="126.73" y1="353.30" x2="126.73" y2="355.20" stroke="#000" stroke-width="0.7"/>
<line x1="127.51" y1="353.30" x2="127.51" y2="355.20" stroke="#000" stroke-width="0.7"/>
<line x1="128.19" y1="353.30" x2="128.19" y2="355.20" stroke="#000" stroke-width="0.7"/>
<line x1="128.80" y1="353.30" x2="128.80" y2="356.50" stroke="#000" stroke-width="0.9"/>
<text x="131.50" y="360.10" font-size="7.8" text-anchor="end" fill="#303030" stroke="#303030" stroke-width="0.1" textLength="7.03" lengthAdjust="spacingAndGlyphs" transform="rotate(-45 131.50 360.10)">10</text>
<line x1="132.82" y1="353.30" x2="132.82" y2="355.20" stroke="#000" stroke-width="0.7"/>
<text x="17.20" y="320.10" font-size="8.8" text-anchor="middle" fill="#303030" stroke="#303030" stroke-width="0.1" textLength="15.80" lengthAdjust="spacingAndGlyphs" transform="rotate(-90 17.20 320.10)">gMFI</text>
<text x="49.80" y="383.90" font-size="9.3" text-anchor="start" fill="#303030" stroke="#303030" stroke-width="0.1" textLength="79.20" lengthAdjust="spacingAndGlyphs">TCB concentration/(µg/mL)</text>
<text x="89.00" y="274.20" font-size="7.0" text-anchor="middle" fill="#111" font-weight="bold" stroke="#111" stroke-width="0.4" textLength="30.50" lengthAdjust="spacingAndGlyphs">OCI-AML3</text>
<text x="89.00" y="281.70" font-size="7.0" text-anchor="middle" fill="#111" font-weight="bold" stroke="#111" stroke-width="0.4" textLength="43.60" lengthAdjust="spacingAndGlyphs">CD25 on CD4<tspan font-size="4.6" dy="-2.2">+</tspan></text>
<polyline points="48.80,351.31 49.47,351.31 50.13,351.31 50.80,351.31 51.47,351.31 52.13,351.31 52.80,351.31 53.47,351.31 54.13,351.31 54.80,351.31 55.46,351.30 56.13,351.30 56.80,351.30 57.46,351.30 58.13,351.30 58.80,351.30 59.46,351.30 60.13,351.30 60.80,351.30 61.46,351.30 62.13,351.29 62.80,351.29 63.46,351.29 64.13,351.29 64.80,351.29 65.46,351.29 66.13,351.28 66.80,351.28 67.46,351.28 68.13,351.27 68.80,351.27 69.46,351.27 70.13,351.26 70.79,351.26 71.46,351.26 72.13,351.25 72.79,351.25 73.46,351.24 74.13,351.23 74.79,351.23 75.46,351.22 76.13,351.21 76.79,351.20 77.46,351.20 78.13,351.19 78.79,351.18 79.46,351.17 80.13,351.16 80.79,351.15 81.46,351.13 82.12,351.12 82.79,351.11 83.46,351.10 84.12,351.08 84.79,351.07 85.46,351.05 86.12,351.04 86.79,351.03 87.46,351.01 88.12,350.99 88.79,350.98 89.46,350.96 90.12,350.95 90.79,350.93 91.46,350.92 92.12,350.90 92.79,350.89 93.46,350.88 94.12,350.86 94.79,350.85 95.45,350.84 96.12,350.82 96.79,350.81 97.45,350.80 98.12,350.79 98.79,350.78 99.45,350.77 100.12,350.76 100.79,350.75 101.45,350.75 102.12,350.74 102.79,350.73 103.45,350.73 104.12,350.72 104.79,350.71 105.45,350.71 106.12,350.70 106.79,350.70 107.45,350.69 108.12,350.69 108.78,350.69 109.45,350.68 110.12,350.68 110.78,350.68 111.45,350.68 112.12,350.67 112.78,350.67 113.45,350.67 114.12,350.67 114.78,350.67 115.45,350.66 116.12,350.66 116.78,350.66 117.45,350.66 118.12,350.66 118.78,350.66 119.45,350.66 120.12,350.66 120.78,350.66 121.45,350.66 122.11,350.65 122.78,350.65 123.45,350.65 124.11,350.65 124.78,350.65 125.45,350.65 126.11,350.65 126.78,350.65 127.45,350.65 128.11,350.65 128.78,350.65" fill="none" stroke="#1b5a98" stroke-width="1.35" stroke-linejoin="round" stroke-linecap="round"/>
<polyline points="48.80,350.78 49.47,350.78 50.13,350.78 50.80,350.78 51.47,350.78 52.13,350.78 52.80,350.78 53.47,350.78 54.13,350.78 54.80,350.78 55.46,350.78 56.13,350.78 56.80,350.78 57.46,350.78 58.13,350.78 58.80,350.78 59.46,350.78 60.13,350.78 60.80,350.78 61.46,350.78 62.13,350.78 62.80,350.78 63.46,350.78 64.13,350.78 64.80,350.78 65.46,350.78 66.13,350.78 66.80,350.78 67.46,350.78 68.13,350.78 68.80,350.78 69.46,350.78 70.13,350.78 70.79,350.78 71.46,350.78 72.13,350.78 72.79,350.78 73.46,350.78 74.13,350.78 74.79,350.78 75.46,350.78 76.13,350.78 76.79,350.78 77.46,350.78 78.13,350.78 78.79,350.78 79.46,350.77 80.13,350.77 80.79,350.77 81.46,350.77 82.12,350.77 82.79,350.77 83.46,350.76 84.12,350.76 84.79,350.76 85.46,350.75 86.12,350.75 86.79,350.74 87.46,350.73 88.12,350.73 88.79,350.72 89.46,350.70 90.12,350.69 90.79,350.67 91.46,350.65 92.12,350.63 92.79,350.60 93.46,350.57 94.12,350.54 94.79,350.49 95.45,350.44 96.12,350.39 96.79,350.32 97.45,350.25 98.12,350.16 98.79,350.06 99.45,349.96 100.12,349.84 100.79,349.70 101.45,349.56 102.12,349.41 102.79,349.25 103.45,349.08 104.12,348.90 104.79,348.73 105.45,348.55 106.12,348.37 106.79,348.20 107.45,348.04 108.12,347.89 108.78,347.75 109.45,347.62 110.12,347.50 110.78,347.39 111.45,347.29 112.12,347.20 112.78,347.13 113.45,347.06 114.12,347.01 114.78,346.96 115.45,346.91 116.12,346.88 116.78,346.85 117.45,346.82 118.12,346.80 118.78,346.78 119.45,346.76 120.12,346.75 120.78,346.73 121.45,346.72 122.11,346.72 122.78,346.71 123.45,346.70 124.11,346.70 124.78,346.69 125.45,346.69 126.11,346.69 126.78,346.68 127.45,346.68 128.11,346.68 128.78,346.68" fill="none" stroke="#c8102e" stroke-width="1.35" stroke-linejoin="round" stroke-linecap="round"/>
<line x1="48.80" y1="351.18" x2="48.80" y2="351.44" stroke="#1b5a98" stroke-width="0.85"/>
<line x1="47.80" y1="351.18" x2="49.80" y2="351.18" stroke="#1b5a98" stroke-width="0.85"/>
<line x1="47.80" y1="351.44" x2="49.80" y2="351.44" stroke="#1b5a98" stroke-width="0.85"/>
<circle cx="48.80" cy="351.31" r="1.45" fill="#1b5a98"/>
<line x1="72.88" y1="351.05" x2="72.88" y2="351.31" stroke="#1b5a98" stroke-width="0.85"/>
<line x1="71.88" y1="351.05" x2="73.88" y2="351.05" stroke="#1b5a98" stroke-width="0.85"/>
<line x1="71.88" y1="351.31" x2="73.88" y2="351.31" stroke="#1b5a98" stroke-width="0.85"/>
<circle cx="72.88" cy="351.18" r="1.45" fill="#1b5a98"/>
<line x1="82.19" y1="350.91" x2="82.19" y2="351.18" stroke="#1b5a98" stroke-width="0.85"/>
<line x1="81.19" y1="350.91" x2="83.19" y2="350.91" stroke="#1b5a98" stroke-width="0.85"/>
<line x1="81.19" y1="351.18" x2="83.19" y2="351.18" stroke="#1b5a98" stroke-width="0.85"/>
<circle cx="82.19" cy="351.05" r="1.45" fill="#1b5a98"/>
<line x1="91.51" y1="350.78" x2="91.51" y2="351.05" stroke="#1b5a98" stroke-width="0.85"/>
<line x1="90.51" y1="350.78" x2="92.51" y2="350.78" stroke="#1b5a98" stroke-width="0.85"/>
<line x1="90.51" y1="351.05" x2="92.51" y2="351.05" stroke="#1b5a98" stroke-width="0.85"/>
<circle cx="91.51" cy="350.91" r="1.45" fill="#1b5a98"/>
<line x1="100.83" y1="350.65" x2="100.83" y2="350.91" stroke="#1b5a98" stroke-width="0.85"/>
<line x1="99.83" y1="350.65" x2="101.83" y2="350.65" stroke="#1b5a98" stroke-width="0.85"/>
<line x1="99.83" y1="350.91" x2="101.83" y2="350.91" stroke="#1b5a98" stroke-width="0.85"/>
<circle cx="100.83" cy="350.78" r="1.45" fill="#1b5a98"/>
<line x1="110.15" y1="350.52" x2="110.15" y2="350.78" stroke="#1b5a98" stroke-width="0.85"/>
<line x1="109.15" y1="350.52" x2="111.15" y2="350.52" stroke="#1b5a98" stroke-width="0.85"/>
<line x1="109.15" y1="350.78" x2="111.15" y2="350.78" stroke="#1b5a98" stroke-width="0.85"/>
<circle cx="110.15" cy="350.65" r="1.45" fill="#1b5a98"/>
<line x1="119.46" y1="350.52" x2="119.46" y2="350.78" stroke="#1b5a98" stroke-width="0.85"/>
<line x1="118.46" y1="350.52" x2="120.46" y2="350.52" stroke="#1b5a98" stroke-width="0.85"/>
<line x1="118.46" y1="350.78" x2="120.46" y2="350.78" stroke="#1b5a98" stroke-width="0.85"/>
<circle cx="119.46" cy="350.65" r="1.45" fill="#1b5a98"/>
<line x1="128.78" y1="350.52" x2="128.78" y2="350.78" stroke="#1b5a98" stroke-width="0.85"/>
<line x1="127.78" y1="350.52" x2="129.78" y2="350.52" stroke="#1b5a98" stroke-width="0.85"/>
<line x1="127.78" y1="350.78" x2="129.78" y2="350.78" stroke="#1b5a98" stroke-width="0.85"/>
<circle cx="128.78" cy="350.65" r="1.45" fill="#1b5a98"/>
<line x1="48.80" y1="350.71" x2="48.80" y2="351.24" stroke="#c8102e" stroke-width="0.85"/>
<line x1="47.80" y1="350.71" x2="49.80" y2="350.71" stroke="#c8102e" stroke-width="0.85"/>
<line x1="47.80" y1="351.24" x2="49.80" y2="351.24" stroke="#c8102e" stroke-width="0.85"/>
<circle cx="48.80" cy="350.98" r="1.45" fill="#c8102e"/>
<line x1="72.88" y1="350.52" x2="72.88" y2="351.05" stroke="#c8102e" stroke-width="0.85"/>
<line x1="71.88" y1="350.52" x2="73.88" y2="350.52" stroke="#c8102e" stroke-width="0.85"/>
<line x1="71.88" y1="351.05" x2="73.88" y2="351.05" stroke="#c8102e" stroke-width="0.85"/>
<circle cx="72.88" cy="350.78" r="1.45" fill="#c8102e"/>
<line x1="82.19" y1="350.38" x2="82.19" y2="350.91" stroke="#c8102e" stroke-width="0.85"/>
<line x1="81.19" y1="350.38" x2="83.19" y2="350.38" stroke="#c8102e" stroke-width="0.85"/>
<line x1="81.19" y1="350.91" x2="83.19" y2="350.91" stroke="#c8102e" stroke-width="0.85"/>
<circle cx="82.19" cy="350.65" r="1.45" fill="#c8102e"/>
<line x1="91.51" y1="350.12" x2="91.51" y2="350.65" stroke="#c8102e" stroke-width="0.85"/>
<line x1="90.51" y1="350.12" x2="92.51" y2="350.12" stroke="#c8102e" stroke-width="0.85"/>
<line x1="90.51" y1="350.65" x2="92.51" y2="350.65" stroke="#c8102e" stroke-width="0.85"/>
<circle cx="91.51" cy="350.38" r="1.45" fill="#c8102e"/>
<line x1="100.83" y1="348.92" x2="100.83" y2="349.72" stroke="#c8102e" stroke-width="0.85"/>
<line x1="99.83" y1="348.92" x2="101.83" y2="348.92" stroke="#c8102e" stroke-width="0.85"/>
<line x1="99.83" y1="349.72" x2="101.83" y2="349.72" stroke="#c8102e" stroke-width="0.85"/>
<circle cx="100.83" cy="349.32" r="1.45" fill="#c8102e"/>
<line x1="110.15" y1="346.54" x2="110.15" y2="347.60" stroke="#c8102e" stroke-width="0.85"/>
<line x1="109.15" y1="346.54" x2="111.15" y2="346.54" stroke="#c8102e" stroke-width="0.85"/>
<line x1="109.15" y1="347.60" x2="111.15" y2="347.60" stroke="#c8102e" stroke-width="0.85"/>
<circle cx="110.15" cy="347.07" r="1.45" fill="#c8102e"/>
<line x1="119.46" y1="345.74" x2="119.46" y2="347.07" stroke="#c8102e" stroke-width="0.85"/>
<line x1="118.46" y1="345.74" x2="120.46" y2="345.74" stroke="#c8102e" stroke-width="0.85"/>
<line x1="118.46" y1="347.07" x2="120.46" y2="347.07" stroke="#c8102e" stroke-width="0.85"/>
<circle cx="119.46" cy="346.40" r="1.45" fill="#c8102e"/>
<line x1="128.78" y1="346.14" x2="128.78" y2="347.47" stroke="#c8102e" stroke-width="0.85"/>
<line x1="127.78" y1="346.14" x2="129.78" y2="346.14" stroke="#c8102e" stroke-width="0.85"/>
<line x1="127.78" y1="347.47" x2="129.78" y2="347.47" stroke="#c8102e" stroke-width="0.85"/>
<circle cx="128.78" cy="346.80" r="1.45" fill="#c8102e"/>
<line x1="49.00" y1="292.50" x2="56.20" y2="292.50" stroke="#c8102e" stroke-width="1.3"/>
<circle cx="52.60" cy="292.50" r="1.25" fill="#c8102e"/>
<text x="58.40" y="294.10" font-size="7.8" text-anchor="start" fill="#303030" stroke="#303030" stroke-width="0.1" textLength="27.40" lengthAdjust="spacingAndGlyphs">WT1-TCB</text>
<line x1="49.00" y1="300.60" x2="56.20" y2="300.60" stroke="#1b5a98" stroke-width="1.3"/>
<circle cx="52.60" cy="300.60" r="1.25" fill="#1b5a98"/>
<text x="58.40" y="302.50" font-size="7.8" text-anchor="start" fill="#303030" stroke="#303030" stroke-width="0.1" textLength="24.50" lengthAdjust="spacingAndGlyphs">Ctrl-TCB</text>
<line x1="170.10" y1="286.70" x2="170.10" y2="353.90" stroke="#000" stroke-width="1.2"/>
<line x1="167.60" y1="353.30" x2="259.00" y2="353.30" stroke="#000" stroke-width="1.3"/>
<line x1="167.10" y1="353.30" x2="170.10" y2="353.30" stroke="#000" stroke-width="1.0"/>
<text x="165.50" y="355.50" font-size="7.9" text-anchor="end" fill="#303030" stroke="#303030" stroke-width="0.1" textLength="3.38" lengthAdjust="spacingAndGlyphs">0</text>
<line x1="167.10" y1="340.04" x2="170.10" y2="340.04" stroke="#000" stroke-width="1.0"/>
<text x="165.50" y="342.24" font-size="7.9" text-anchor="end" fill="#303030" stroke="#303030" stroke-width="0.1" textLength="16.90" lengthAdjust="spacingAndGlyphs">10000</text>
<line x1="167.10" y1="326.78" x2="170.10" y2="326.78" stroke="#000" stroke-width="1.0"/>
<text x="165.50" y="328.98" font-size="7.9" text-anchor="end" fill="#303030" stroke="#303030" stroke-width="0.1" textLength="16.90" lengthAdjust="spacingAndGlyphs">20000</text>
<line x1="167.10" y1="313.52" x2="170.10" y2="313.52" stroke="#000" stroke-width="1.0"/>
<text x="165.50" y="315.72" font-size="7.9" text-anchor="end" fill="#303030" stroke="#303030" stroke-width="0.1" textLength="16.90" lengthAdjust="spacingAndGlyphs">30000</text>
<line x1="167.10" y1="300.26" x2="170.10" y2="300.26" stroke="#000" stroke-width="1.0"/>
<text x="165.50" y="302.46" font-size="7.9" text-anchor="end" fill="#303030" stroke="#303030" stroke-width="0.1" textLength="16.90" lengthAdjust="spacingAndGlyphs">40000</text>
<line x1="167.10" y1="287.00" x2="170.10" y2="287.00" stroke="#000" stroke-width="1.0"/>
<text x="165.50" y="289.20" font-size="7.9" text-anchor="end" fill="#303030" stroke="#303030" stroke-width="0.1" textLength="16.90" lengthAdjust="spacingAndGlyphs">50000</text>
<line x1="173.80" y1="353.30" x2="173.80" y2="356.50" stroke="#000" stroke-width="0.9"/>
<text x="176.50" y="360.10" font-size="7.8" text-anchor="end" fill="#303030" stroke="#303030" stroke-width="0.1" textLength="22.91" lengthAdjust="spacingAndGlyphs" transform="rotate(-45 176.50 360.10)">0.00001</text>
<line x1="177.86" y1="353.30" x2="177.86" y2="355.20" stroke="#000" stroke-width="0.7"/>
<line x1="180.24" y1="353.30" x2="180.24" y2="355.20" stroke="#000" stroke-width="0.7"/>
<line x1="181.93" y1="353.30" x2="181.93" y2="355.20" stroke="#000" stroke-width="0.7"/>
<line x1="183.24" y1="353.30" x2="183.24" y2="355.20" stroke="#000" stroke-width="0.7"/>
<line x1="184.31" y1="353.30" x2="184.31" y2="355.20" stroke="#000" stroke-width="0.7"/>
<line x1="185.21" y1="353.30" x2="185.21" y2="355.20" stroke="#000" stroke-width="0.7"/>
<line x1="185.99" y1="353.30" x2="185.99" y2="355.20" stroke="#000" stroke-width="0.7"/>
<line x1="186.68" y1="353.30" x2="186.68" y2="355.20" stroke="#000" stroke-width="0.7"/>
<line x1="187.30" y1="353.30" x2="187.30" y2="356.50" stroke="#000" stroke-width="0.9"/>
<text x="190.00" y="360.10" font-size="7.8" text-anchor="end" fill="#303030" stroke="#303030" stroke-width="0.1" textLength="19.40" lengthAdjust="spacingAndGlyphs" transform="rotate(-45 190.00 360.10)">0.0001</text>
<line x1="191.36" y1="353.30" x2="191.36" y2="355.20" stroke="#000" stroke-width="0.7"/>
<line x1="193.74" y1="353.30" x2="193.74" y2="355.20" stroke="#000" stroke-width="0.7"/>
<line x1="195.43" y1="353.30" x2="195.43" y2="355.20" stroke="#000" stroke-width="0.7"/>
<line x1="196.74" y1="353.30" x2="196.74" y2="355.20" stroke="#000" stroke-width="0.7"/>
<line x1="197.81" y1="353.30" x2="197.81" y2="355.20" stroke="#000" stroke-width="0.7"/>
<line x1="198.71" y1="353.30" x2="198.71" y2="355.20" stroke="#000" stroke-width="0.7"/>
<line x1="199.49" y1="353.30" x2="199.49" y2="355.20" stroke="#000" stroke-width="0.7"/>
<line x1="200.18" y1="353.30" x2="200.18" y2="355.20" stroke="#000" stroke-width="0.7"/>
<line x1="200.80" y1="353.30" x2="200.80" y2="356.50" stroke="#000" stroke-width="0.9"/>
<text x="203.50" y="360.10" font-size="7.8" text-anchor="end" fill="#303030" stroke="#303030" stroke-width="0.1" textLength="15.88" lengthAdjust="spacingAndGlyphs" transform="rotate(-45 203.50 360.10)">0.001</text>
<line x1="204.86" y1="353.30" x2="204.86" y2="355.20" stroke="#000" stroke-width="0.7"/>
<line x1="207.24" y1="353.30" x2="207.24" y2="355.20" stroke="#000" stroke-width="0.7"/>
<line x1="208.93" y1="353.30" x2="208.93" y2="355.20" stroke="#000" stroke-width="0.7"/>
<line x1="210.24" y1="353.30" x2="210.24" y2="355.20" stroke="#000" stroke-width="0.7"/>
<line x1="211.31" y1="353.30" x2="211.31" y2="355.20" stroke="#000" stroke-width="0.7"/>
<line x1="212.21" y1="353.30" x2="212.21" y2="355.20" stroke="#000" stroke-width="0.7"/>
<line x1="212.99" y1="353.30" x2="212.99" y2="355.20" stroke="#000" stroke-width="0.7"/>
<line x1="213.68" y1="353.30" x2="213.68" y2="355.20" stroke="#000" stroke-width="0.7"/>
<line x1="214.30" y1="353.30" x2="214.30" y2="356.50" stroke="#000" stroke-width="0.9"/>
<text x="217.00" y="360.10" font-size="7.8" text-anchor="end" fill="#303030" stroke="#303030" stroke-width="0.1" textLength="12.37" lengthAdjust="spacingAndGlyphs" transform="rotate(-45 217.00 360.10)">0.01</text>
<line x1="218.36" y1="353.30" x2="218.36" y2="355.20" stroke="#000" stroke-width="0.7"/>
<line x1="220.74" y1="353.30" x2="220.74" y2="355.20" stroke="#000" stroke-width="0.7"/>
<line x1="222.43" y1="353.30" x2="222.43" y2="355.20" stroke="#000" stroke-width="0.7"/>
<line x1="223.74" y1="353.30" x2="223.74" y2="355.20" stroke="#000" stroke-width="0.7"/>
<line x1="224.81" y1="353.30" x2="224.81" y2="355.20" stroke="#000" stroke-width="0.7"/>
<line x1="225.71" y1="353.30" x2="225.71" y2="355.20" stroke="#000" stroke-width="0.7"/>
<line x1="226.49" y1="353.30" x2="226.49" y2="355.20" stroke="#000" stroke-width="0.7"/>
<line x1="227.18" y1="353.30" x2="227.18" y2="355.20" stroke="#000" stroke-width="0.7"/>
<line x1="227.80" y1="353.30" x2="227.80" y2="356.50" stroke="#000" stroke-width="0.9"/>
<text x="230.50" y="360.10" font-size="7.8" text-anchor="end" fill="#303030" stroke="#303030" stroke-width="0.1" textLength="8.85" lengthAdjust="spacingAndGlyphs" transform="rotate(-45 230.50 360.10)">0.1</text>
<line x1="231.86" y1="353.30" x2="231.86" y2="355.20" stroke="#000" stroke-width="0.7"/>
<line x1="234.24" y1="353.30" x2="234.24" y2="355.20" stroke="#000" stroke-width="0.7"/>
<line x1="235.93" y1="353.30" x2="235.93" y2="355.20" stroke="#000" stroke-width="0.7"/>
<line x1="237.24" y1="353.30" x2="237.24" y2="355.20" stroke="#000" stroke-width="0.7"/>
<line x1="238.31" y1="353.30" x2="238.31" y2="355.20" stroke="#000" stroke-width="0.7"/>
<line x1="239.21" y1="353.30" x2="239.21" y2="355.20" stroke="#000" stroke-width="0.7"/>
<line x1="239.99" y1="353.30" x2="239.99" y2="355.20" stroke="#000" stroke-width="0.7"/>
<line x1="240.68" y1="353.30" x2="240.68" y2="355.20" stroke="#000" stroke-width="0.7"/>
<line x1="241.30" y1="353.30" x2="241.30" y2="356.50" stroke="#000" stroke-width="0.9"/>
<text x="244.00" y="360.10" font-size="7.8" text-anchor="end" fill="#303030" stroke="#303030" stroke-width="0.1" textLength="3.52" lengthAdjust="spacingAndGlyphs" transform="rotate(-45 244.00 360.10)">1</text>
<line x1="245.36" y1="353.30" x2="245.36" y2="355.20" stroke="#000" stroke-width="0.7"/>
<line x1="247.74" y1="353.30" x2="247.74" y2="355.20" stroke="#000" stroke-width="0.7"/>
<line x1="249.43" y1="353.30" x2="249.43" y2="355.20" stroke="#000" stroke-width="0.7"/>
<line x1="250.74" y1="353.30" x2="250.74" y2="355.20" stroke="#000" stroke-width="0.7"/>
<line x1="251.81" y1="353.30" x2="251.81" y2="355.20" stroke="#000" stroke-width="0.7"/>
<line x1="252.71" y1="353.30" x2="252.71" y2="355.20" stroke="#000" stroke-width="0.7"/>
<line x1="253.49" y1="353.30" x2="253.49" y2="355.20" stroke="#000" stroke-width="0.7"/>
<line x1="254.18" y1="353.30" x2="254.18" y2="355.20" stroke="#000" stroke-width="0.7"/>
<line x1="254.80" y1="353.30" x2="254.80" y2="356.50" stroke="#000" stroke-width="0.9"/>
<text x="257.50" y="360.10" font-size="7.8" text-anchor="end" fill="#303030" stroke="#303030" stroke-width="0.1" textLength="7.03" lengthAdjust="spacingAndGlyphs" transform="rotate(-45 257.50 360.10)">10</text>
<line x1="258.86" y1="353.30" x2="258.86" y2="355.20" stroke="#000" stroke-width="0.7"/>
<text x="142.10" y="320.10" font-size="8.8" text-anchor="middle" fill="#303030" stroke="#303030" stroke-width="0.1" textLength="15.80" lengthAdjust="spacingAndGlyphs" transform="rotate(-90 142.10 320.10)">gMFI</text>
<text x="174.60" y="383.90" font-size="9.3" text-anchor="start" fill="#303030" stroke="#303030" stroke-width="0.1" textLength="79.10" lengthAdjust="spacingAndGlyphs">TCB concentration/(µg/mL)</text>
<text x="214.80" y="274.20" font-size="7.0" text-anchor="middle" fill="#111" font-weight="bold" stroke="#111" stroke-width="0.4" textLength="30.20" lengthAdjust="spacingAndGlyphs">OCI-AML3</text>
<text x="214.80" y="281.70" font-size="7.0" text-anchor="middle" fill="#111" font-weight="bold" stroke="#111" stroke-width="0.4" textLength="43.20" lengthAdjust="spacingAndGlyphs">CD25 on CD8<tspan font-size="4.6" dy="-2.2">+</tspan></text>
<polyline points="174.00,345.04 174.68,345.02 175.35,345.00 176.03,344.97 176.70,344.95 177.38,344.93 178.05,344.90 178.72,344.87 179.40,344.84 180.07,344.81 180.75,344.78 181.43,344.74 182.10,344.71 182.78,344.67 183.45,344.63 184.12,344.59 184.80,344.55 185.47,344.50 186.15,344.45 186.82,344.40 187.50,344.35 188.18,344.30 188.85,344.25 189.53,344.19 190.20,344.14 190.88,344.08 191.55,344.02 192.22,343.95 192.90,343.89 193.57,343.83 194.25,343.76 194.93,343.70 195.60,343.63 196.28,343.56 196.95,343.49 197.62,343.42 198.30,343.36 198.97,343.29 199.65,343.22 200.32,343.15 201.00,343.08 201.68,343.01 202.35,342.95 203.03,342.88 203.70,342.82 204.38,342.76 205.05,342.69 205.72,342.63 206.40,342.57 207.07,342.52 207.75,342.46 208.43,342.41 209.10,342.36 209.78,342.31 210.45,342.26 211.12,342.21 211.80,342.16 212.47,342.12 213.15,342.08 213.82,342.04 214.50,342.00 215.18,341.97 215.85,341.93 216.53,341.90 217.20,341.87 217.88,341.84 218.55,341.81 219.22,341.78 219.90,341.76 220.57,341.74 221.25,341.71 221.93,341.69 222.60,341.67 223.28,341.65 223.95,341.63 224.62,341.62 225.30,341.60 225.97,341.59 226.65,341.57 227.32,341.56 228.00,341.55 228.68,341.54 229.35,341.53 230.03,341.51 230.70,341.51 231.38,341.50 232.05,341.49 232.72,341.48 233.40,341.47 234.07,341.47 234.75,341.46 235.43,341.45 236.10,341.45 236.78,341.44 237.45,341.44 238.12,341.43 238.80,341.43 239.47,341.42 240.15,341.42 240.82,341.42 241.50,341.41 242.18,341.41 242.85,341.41 243.53,341.40 244.20,341.40 244.88,341.40 245.55,341.40 246.22,341.40 246.90,341.39 247.57,341.39 248.25,341.39 248.93,341.39 249.60,341.39 250.28,341.39 250.95,341.38 251.62,341.38 252.30,341.38 252.97,341.38 253.65,341.38 254.32,341.38 255.00,341.38" fill="none" stroke="#1b5a98" stroke-width="1.35" stroke-linejoin="round" stroke-linecap="round"/>
<polyline points="174.00,343.35 174.68,343.35 175.35,343.34 176.03,343.33 176.70,343.32 177.38,343.31 178.05,343.30 178.72,343.29 179.40,343.28 180.07,343.27 180.75,343.26 181.43,343.25 182.10,343.24 182.78,343.23 183.45,343.22 184.12,343.21 184.80,343.20 185.47,343.19 186.15,343.18 186.82,343.17 187.50,343.16 188.18,343.15 188.85,343.14 189.53,343.13 190.20,343.12 190.88,343.11 191.55,343.10 192.22,343.09 192.90,343.08 193.57,343.07 194.25,343.06 194.93,343.05 195.60,343.04 196.28,343.03 196.95,343.02 197.62,343.01 198.30,343.00 198.97,342.99 199.65,342.98 200.32,342.97 201.00,342.96 201.68,342.95 202.35,342.94 203.03,342.93 203.70,342.92 204.38,342.91 205.05,342.90 205.72,342.89 206.40,342.88 207.07,342.87 207.75,342.86 208.43,342.85 209.10,342.84 209.78,342.83 210.45,342.82 211.12,342.80 211.80,342.79 212.47,342.78 213.15,342.77 213.82,342.76 214.50,342.75 215.18,342.73 215.85,342.72 216.53,342.70 217.20,342.69 217.88,342.67 218.55,342.64 219.22,342.62 219.90,342.59 220.57,342.55 221.25,342.51 221.93,342.46 222.60,342.39 223.28,342.31 223.95,342.21 224.62,342.09 225.30,341.93 225.97,341.74 226.65,341.50 227.32,341.19 228.00,340.81 228.68,340.35 229.35,339.78 230.03,339.08 230.70,338.26 231.38,337.29 232.05,336.18 232.72,334.93 233.40,333.56 234.07,332.10 234.75,330.59 235.43,329.09 236.10,327.63 236.78,326.26 237.45,325.01 238.12,323.89 238.80,322.93 239.47,322.10 240.15,321.41 240.82,320.84 241.50,320.37 242.18,319.99 242.85,319.69 243.53,319.45 244.20,319.25 244.88,319.10 245.55,318.97 246.22,318.87 246.90,318.79 247.57,318.73 248.25,318.67 248.93,318.63 249.60,318.60 250.28,318.57 250.95,318.54 251.62,318.52 252.30,318.50 252.97,318.48 253.65,318.47 254.32,318.45 255.00,318.44" fill="none" stroke="#c8102e" stroke-width="1.35" stroke-linejoin="round" stroke-linecap="round"/>
<line x1="174.00" y1="344.95" x2="174.00" y2="345.74" stroke="#1b5a98" stroke-width="0.85"/>
<line x1="173.00" y1="344.95" x2="175.00" y2="344.95" stroke="#1b5a98" stroke-width="0.85"/>
<line x1="173.00" y1="345.74" x2="175.00" y2="345.74" stroke="#1b5a98" stroke-width="0.85"/>
<circle cx="174.00" cy="345.34" r="1.45" fill="#1b5a98"/>
<line x1="198.38" y1="342.96" x2="198.38" y2="343.75" stroke="#1b5a98" stroke-width="0.85"/>
<line x1="197.38" y1="342.96" x2="199.38" y2="342.96" stroke="#1b5a98" stroke-width="0.85"/>
<line x1="197.38" y1="343.75" x2="199.38" y2="343.75" stroke="#1b5a98" stroke-width="0.85"/>
<circle cx="198.38" cy="343.36" r="1.45" fill="#1b5a98"/>
<line x1="207.82" y1="342.29" x2="207.82" y2="343.09" stroke="#1b5a98" stroke-width="0.85"/>
<line x1="206.82" y1="342.29" x2="208.82" y2="342.29" stroke="#1b5a98" stroke-width="0.85"/>
<line x1="206.82" y1="343.09" x2="208.82" y2="343.09" stroke="#1b5a98" stroke-width="0.85"/>
<circle cx="207.82" cy="342.69" r="1.45" fill="#1b5a98"/>
<line x1="217.26" y1="341.63" x2="217.26" y2="342.43" stroke="#1b5a98" stroke-width="0.85"/>
<line x1="216.26" y1="341.63" x2="218.26" y2="341.63" stroke="#1b5a98" stroke-width="0.85"/>
<line x1="216.26" y1="342.43" x2="218.26" y2="342.43" stroke="#1b5a98" stroke-width="0.85"/>
<circle cx="217.26" cy="342.03" r="1.45" fill="#1b5a98"/>
<line x1="226.69" y1="341.23" x2="226.69" y2="342.03" stroke="#1b5a98" stroke-width="0.85"/>
<line x1="225.69" y1="341.23" x2="227.69" y2="341.23" stroke="#1b5a98" stroke-width="0.85"/>
<line x1="225.69" y1="342.03" x2="227.69" y2="342.03" stroke="#1b5a98" stroke-width="0.85"/>
<circle cx="226.69" cy="341.63" r="1.45" fill="#1b5a98"/>
<line x1="236.13" y1="341.10" x2="236.13" y2="341.90" stroke="#1b5a98" stroke-width="0.85"/>
<line x1="235.13" y1="341.10" x2="237.13" y2="341.10" stroke="#1b5a98" stroke-width="0.85"/>
<line x1="235.13" y1="341.90" x2="237.13" y2="341.90" stroke="#1b5a98" stroke-width="0.85"/>
<circle cx="236.13" cy="341.50" r="1.45" fill="#1b5a98"/>
<line x1="245.56" y1="340.97" x2="245.56" y2="341.76" stroke="#1b5a98" stroke-width="0.85"/>
<line x1="244.56" y1="340.97" x2="246.56" y2="340.97" stroke="#1b5a98" stroke-width="0.85"/>
<line x1="244.56" y1="341.76" x2="246.56" y2="341.76" stroke="#1b5a98" stroke-width="0.85"/>
<circle cx="245.56" cy="341.37" r="1.45" fill="#1b5a98"/>
<line x1="255.00" y1="340.97" x2="255.00" y2="341.76" stroke="#1b5a98" stroke-width="0.85"/>
<line x1="254.00" y1="340.97" x2="256.00" y2="340.97" stroke="#1b5a98" stroke-width="0.85"/>
<line x1="254.00" y1="341.76" x2="256.00" y2="341.76" stroke="#1b5a98" stroke-width="0.85"/>
<circle cx="255.00" cy="341.37" r="1.45" fill="#1b5a98"/>
<line x1="174.00" y1="343.89" x2="174.00" y2="344.68" stroke="#c8102e" stroke-width="0.85"/>
<line x1="173.00" y1="343.89" x2="175.00" y2="343.89" stroke="#c8102e" stroke-width="0.85"/>
<line x1="173.00" y1="344.68" x2="175.00" y2="344.68" stroke="#c8102e" stroke-width="0.85"/>
<circle cx="174.00" cy="344.28" r="1.45" fill="#c8102e"/>
<line x1="198.38" y1="342.29" x2="198.38" y2="343.62" stroke="#c8102e" stroke-width="0.85"/>
<line x1="197.38" y1="342.29" x2="199.38" y2="342.29" stroke="#c8102e" stroke-width="0.85"/>
<line x1="197.38" y1="343.62" x2="199.38" y2="343.62" stroke="#c8102e" stroke-width="0.85"/>
<circle cx="198.38" cy="342.96" r="1.45" fill="#c8102e"/>
<line x1="207.82" y1="342.16" x2="207.82" y2="343.22" stroke="#c8102e" stroke-width="0.85"/>
<line x1="206.82" y1="342.16" x2="208.82" y2="342.16" stroke="#c8102e" stroke-width="0.85"/>
<line x1="206.82" y1="343.22" x2="208.82" y2="343.22" stroke="#c8102e" stroke-width="0.85"/>
<circle cx="207.82" cy="342.69" r="1.45" fill="#c8102e"/>
<line x1="217.26" y1="341.37" x2="217.26" y2="342.69" stroke="#c8102e" stroke-width="0.85"/>
<line x1="216.26" y1="341.37" x2="218.26" y2="341.37" stroke="#c8102e" stroke-width="0.85"/>
<line x1="216.26" y1="342.69" x2="218.26" y2="342.69" stroke="#c8102e" stroke-width="0.85"/>
<circle cx="217.26" cy="342.03" r="1.45" fill="#c8102e"/>
<line x1="226.69" y1="338.05" x2="226.69" y2="339.38" stroke="#c8102e" stroke-width="0.85"/>
<line x1="225.69" y1="338.05" x2="227.69" y2="338.05" stroke="#c8102e" stroke-width="0.85"/>
<line x1="225.69" y1="339.38" x2="227.69" y2="339.38" stroke="#c8102e" stroke-width="0.85"/>
<circle cx="226.69" cy="338.71" r="1.45" fill="#c8102e"/>
<line x1="236.13" y1="321.87" x2="236.13" y2="325.06" stroke="#c8102e" stroke-width="0.85"/>
<line x1="235.13" y1="321.87" x2="237.13" y2="321.87" stroke="#c8102e" stroke-width="0.85"/>
<line x1="235.13" y1="325.06" x2="237.13" y2="325.06" stroke="#c8102e" stroke-width="0.85"/>
<circle cx="236.13" cy="323.47" r="1.45" fill="#c8102e"/>
<line x1="245.56" y1="316.44" x2="245.56" y2="321.21" stroke="#c8102e" stroke-width="0.85"/>
<line x1="244.56" y1="316.44" x2="246.56" y2="316.44" stroke="#c8102e" stroke-width="0.85"/>
<line x1="244.56" y1="321.21" x2="246.56" y2="321.21" stroke="#c8102e" stroke-width="0.85"/>
<circle cx="245.56" cy="318.82" r="1.45" fill="#c8102e"/>
<line x1="255.00" y1="316.44" x2="255.00" y2="321.21" stroke="#c8102e" stroke-width="0.85"/>
<line x1="254.00" y1="316.44" x2="256.00" y2="316.44" stroke="#c8102e" stroke-width="0.85"/>
<line x1="254.00" y1="321.21" x2="256.00" y2="321.21" stroke="#c8102e" stroke-width="0.85"/>
<circle cx="255.00" cy="318.82" r="1.45" fill="#c8102e"/>
<line x1="294.90" y1="286.70" x2="294.90" y2="353.90" stroke="#000" stroke-width="1.2"/>
<line x1="292.40" y1="353.30" x2="384.00" y2="353.30" stroke="#000" stroke-width="1.3"/>
<line x1="291.90" y1="353.30" x2="294.90" y2="353.30" stroke="#000" stroke-width="1.0"/>
<text x="290.30" y="355.50" font-size="7.9" text-anchor="end" fill="#303030" stroke="#303030" stroke-width="0.1" textLength="3.38" lengthAdjust="spacingAndGlyphs">0</text>
<line x1="291.90" y1="340.04" x2="294.90" y2="340.04" stroke="#000" stroke-width="1.0"/>
<text x="290.30" y="342.24" font-size="7.9" text-anchor="end" fill="#303030" stroke="#303030" stroke-width="0.1" textLength="16.90" lengthAdjust="spacingAndGlyphs">10000</text>
<line x1="291.90" y1="326.78" x2="294.90" y2="326.78" stroke="#000" stroke-width="1.0"/>
<text x="290.30" y="328.98" font-size="7.9" text-anchor="end" fill="#303030" stroke="#303030" stroke-width="0.1" textLength="16.90" lengthAdjust="spacingAndGlyphs">20000</text>
<line x1="291.90" y1="313.52" x2="294.90" y2="313.52" stroke="#000" stroke-width="1.0"/>
<text x="290.30" y="315.72" font-size="7.9" text-anchor="end" fill="#303030" stroke="#303030" stroke-width="0.1" textLength="16.90" lengthAdjust="spacingAndGlyphs">30000</text>
<line x1="291.90" y1="300.26" x2="294.90" y2="300.26" stroke="#000" stroke-width="1.0"/>
<text x="290.30" y="302.46" font-size="7.9" text-anchor="end" fill="#303030" stroke="#303030" stroke-width="0.1" textLength="16.90" lengthAdjust="spacingAndGlyphs">40000</text>
<line x1="291.90" y1="287.00" x2="294.90" y2="287.00" stroke="#000" stroke-width="1.0"/>
<text x="290.30" y="289.20" font-size="7.9" text-anchor="end" fill="#303030" stroke="#303030" stroke-width="0.1" textLength="16.90" lengthAdjust="spacingAndGlyphs">50000</text>
<line x1="298.70" y1="353.30" x2="298.70" y2="356.50" stroke="#000" stroke-width="0.9"/>
<text x="301.40" y="360.10" font-size="7.8" text-anchor="end" fill="#303030" stroke="#303030" stroke-width="0.1" textLength="22.91" lengthAdjust="spacingAndGlyphs" transform="rotate(-45 301.40 360.10)">0.00001</text>
<line x1="302.76" y1="353.30" x2="302.76" y2="355.20" stroke="#000" stroke-width="0.7"/>
<line x1="305.14" y1="353.30" x2="305.14" y2="355.20" stroke="#000" stroke-width="0.7"/>
<line x1="306.83" y1="353.30" x2="306.83" y2="355.20" stroke="#000" stroke-width="0.7"/>
<line x1="308.14" y1="353.30" x2="308.14" y2="355.20" stroke="#000" stroke-width="0.7"/>
<line x1="309.21" y1="353.30" x2="309.21" y2="355.20" stroke="#000" stroke-width="0.7"/>
<line x1="310.11" y1="353.30" x2="310.11" y2="355.20" stroke="#000" stroke-width="0.7"/>
<line x1="310.89" y1="353.30" x2="310.89" y2="355.20" stroke="#000" stroke-width="0.7"/>
<line x1="311.58" y1="353.30" x2="311.58" y2="355.20" stroke="#000" stroke-width="0.7"/>
<line x1="312.20" y1="353.30" x2="312.20" y2="356.50" stroke="#000" stroke-width="0.9"/>
<text x="314.90" y="360.10" font-size="7.8" text-anchor="end" fill="#303030" stroke="#303030" stroke-width="0.1" textLength="19.40" lengthAdjust="spacingAndGlyphs" transform="rotate(-45 314.90 360.10)">0.0001</text>
<line x1="316.26" y1="353.30" x2="316.26" y2="355.20" stroke="#000" stroke-width="0.7"/>
<line x1="318.64" y1="353.30" x2="318.64" y2="355.20" stroke="#000" stroke-width="0.7"/>
<line x1="320.33" y1="353.30" x2="320.33" y2="355.20" stroke="#000" stroke-width="0.7"/>
<line x1="321.64" y1="353.30" x2="321.64" y2="355.20" stroke="#000" stroke-width="0.7"/>
<line x1="322.71" y1="353.30" x2="322.71" y2="355.20" stroke="#000" stroke-width="0.7"/>
<line x1="323.61" y1="353.30" x2="323.61" y2="355.20" stroke="#000" stroke-width="0.7"/>
<line x1="324.39" y1="353.30" x2="324.39" y2="355.20" stroke="#000" stroke-width="0.7"/>
<line x1="325.08" y1="353.30" x2="325.08" y2="355.20" stroke="#000" stroke-width="0.7"/>
<line x1="325.70" y1="353.30" x2="325.70" y2="356.50" stroke="#000" stroke-width="0.9"/>
<text x="328.40" y="360.10" font-size="7.8" text-anchor="end" fill="#303030" stroke="#303030" stroke-width="0.1" textLength="15.88" lengthAdjust="spacingAndGlyphs" transform="rotate(-45 328.40 360.10)">0.001</text>
<line x1="329.76" y1="353.30" x2="329.76" y2="355.20" stroke="#000" stroke-width="0.7"/>
<line x1="332.14" y1="353.30" x2="332.14" y2="355.20" stroke="#000" stroke-width="0.7"/>
<line x1="333.83" y1="353.30" x2="333.83" y2="355.20" stroke="#000" stroke-width="0.7"/>
<line x1="335.14" y1="353.30" x2="335.14" y2="355.20" stroke="#000" stroke-width="0.7"/>
<line x1="336.21" y1="353.30" x2="336.21" y2="355.20" stroke="#000" stroke-width="0.7"/>
<line x1="337.11" y1="353.30" x2="337.11" y2="355.20" stroke="#000" stroke-width="0.7"/>
<line x1="337.89" y1="353.30" x2="337.89" y2="355.20" stroke="#000" stroke-width="0.7"/>
<line x1="338.58" y1="353.30" x2="338.58" y2="355.20" stroke="#000" stroke-width="0.7"/>
<line x1="339.20" y1="353.30" x2="339.20" y2="356.50" stroke="#000" stroke-width="0.9"/>
<text x="341.90" y="360.10" font-size="7.8" text-anchor="end" fill="#303030" stroke="#303030" stroke-width="0.1" textLength="12.37" lengthAdjust="spacingAndGlyphs" transform="rotate(-45 341.90 360.10)">0.01</text>
<line x1="343.26" y1="353.30" x2="343.26" y2="355.20" stroke="#000" stroke-width="0.7"/>
<line x1="345.64" y1="353.30" x2="345.64" y2="355.20" stroke="#000" stroke-width="0.7"/>
<line x1="347.33" y1="353.30" x2="347.33" y2="355.20" stroke="#000" stroke-width="0.7"/>
<line x1="348.64" y1="353.30" x2="348.64" y2="355.20" stroke="#000" stroke-width="0.7"/>
<line x1="349.71" y1="353.30" x2="349.71" y2="355.20" stroke="#000" stroke-width="0.7"/>
<line x1="350.61" y1="353.30" x2="350.61" y2="355.20" stroke="#000" stroke-width="0.7"/>
<line x1="351.39" y1="353.30" x2="351.39" y2="355.20" stroke="#000" stroke-width="0.7"/>
<line x1="352.08" y1="353.30" x2="352.08" y2="355.20" stroke="#000" stroke-width="0.7"/>
<line x1="352.70" y1="353.30" x2="352.70" y2="356.50" stroke="#000" stroke-width="0.9"/>
<text x="355.40" y="360.10" font-size="7.8" text-anchor="end" fill="#303030" stroke="#303030" stroke-width="0.1" textLength="8.85" lengthAdjust="spacingAndGlyphs" transform="rotate(-45 355.40 360.10)">0.1</text>
<line x1="356.76" y1="353.30" x2="356.76" y2="355.20" stroke="#000" stroke-width="0.7"/>
<line x1="359.14" y1="353.30" x2="359.14" y2="355.20" stroke="#000" stroke-width="0.7"/>
<line x1="360.83" y1="353.30" x2="360.83" y2="355.20" stroke="#000" stroke-width="0.7"/>
<line x1="362.14" y1="353.30" x2="362.14" y2="355.20" stroke="#000" stroke-width="0.7"/>
<line x1="363.21" y1="353.30" x2="363.21" y2="355.20" stroke="#000" stroke-width="0.7"/>
<line x1="364.11" y1="353.30" x2="364.11" y2="355.20" stroke="#000" stroke-width="0.7"/>
<line x1="364.89" y1="353.30" x2="364.89" y2="355.20" stroke="#000" stroke-width="0.7"/>
<line x1="365.58" y1="353.30" x2="365.58" y2="355.20" stroke="#000" stroke-width="0.7"/>
<line x1="366.20" y1="353.30" x2="366.20" y2="356.50" stroke="#000" stroke-width="0.9"/>
<text x="368.90" y="360.10" font-size="7.8" text-anchor="end" fill="#303030" stroke="#303030" stroke-width="0.1" textLength="3.52" lengthAdjust="spacingAndGlyphs" transform="rotate(-45 368.90 360.10)">1</text>
<line x1="370.26" y1="353.30" x2="370.26" y2="355.20" stroke="#000" stroke-width="0.7"/>
<line x1="372.64" y1="353.30" x2="372.64" y2="355.20" stroke="#000" stroke-width="0.7"/>
<line x1="374.33" y1="353.30" x2="374.33" y2="355.20" stroke="#000" stroke-width="0.7"/>
<line x1="375.64" y1="353.30" x2="375.64" y2="355.20" stroke="#000" stroke-width="0.7"/>
<line x1="376.71" y1="353.30" x2="376.71" y2="355.20" stroke="#000" stroke-width="0.7"/>
<line x1="377.61" y1="353.30" x2="377.61" y2="355.20" stroke="#000" stroke-width="0.7"/>
<line x1="378.39" y1="353.30" x2="378.39" y2="355.20" stroke="#000" stroke-width="0.7"/>
<line x1="379.08" y1="353.30" x2="379.08" y2="355.20" stroke="#000" stroke-width="0.7"/>
<line x1="379.70" y1="353.30" x2="379.70" y2="356.50" stroke="#000" stroke-width="0.9"/>
<text x="382.40" y="360.10" font-size="7.8" text-anchor="end" fill="#303030" stroke="#303030" stroke-width="0.1" textLength="7.03" lengthAdjust="spacingAndGlyphs" transform="rotate(-45 382.40 360.10)">10</text>
<line x1="383.76" y1="353.30" x2="383.76" y2="355.20" stroke="#000" stroke-width="0.7"/>
<text x="266.90" y="320.10" font-size="8.8" text-anchor="middle" fill="#303030" stroke="#303030" stroke-width="0.1" textLength="15.80" lengthAdjust="spacingAndGlyphs" transform="rotate(-90 266.90 320.10)">gMFI</text>
<text x="299.30" y="383.90" font-size="9.3" text-anchor="start" fill="#303030" stroke="#303030" stroke-width="0.1" textLength="80.00" lengthAdjust="spacingAndGlyphs">TCB concentration/(µg/mL)</text>
<text x="338.60" y="274.20" font-size="7.0" text-anchor="middle" fill="#111" font-weight="bold" stroke="#111" stroke-width="0.4" textLength="17.00" lengthAdjust="spacingAndGlyphs">SKM1</text>
<text x="338.60" y="281.70" font-size="7.0" text-anchor="middle" fill="#111" font-weight="bold" stroke="#111" stroke-width="0.4" textLength="43.60" lengthAdjust="spacingAndGlyphs">CD25 on CD4<tspan font-size="4.6" dy="-2.2">+</tspan></text>
<polyline points="298.80,350.65 299.48,350.65 300.15,350.65 300.82,350.65 301.50,350.65 302.18,350.65 302.85,350.65 303.53,350.65 304.20,350.65 304.88,350.65 305.55,350.65 306.23,350.65 306.90,350.65 307.58,350.65 308.25,350.65 308.93,350.65 309.60,350.65 310.27,350.65 310.95,350.65 311.62,350.66 312.30,350.66 312.98,350.66 313.65,350.66 314.32,350.66 315.00,350.66 315.68,350.66 316.35,350.67 317.03,350.67 317.70,350.67 318.38,350.67 319.05,350.67 319.73,350.68 320.40,350.68 321.07,350.68 321.75,350.69 322.43,350.69 323.10,350.69 323.78,350.70 324.45,350.70 325.12,350.71 325.80,350.71 326.48,350.72 327.15,350.72 327.82,350.73 328.50,350.73 329.18,350.74 329.85,350.74 330.53,350.75 331.20,350.75 331.88,350.76 332.55,350.76 333.23,350.77 333.90,350.78 334.57,350.78 335.25,350.79 335.93,350.79 336.60,350.80 337.28,350.80 337.95,350.81 338.62,350.81 339.30,350.81 339.98,350.82 340.65,350.82 341.32,350.82 342.00,350.82 342.68,350.82 343.35,350.82 344.03,350.82 344.70,350.82 345.38,350.82 346.05,350.82 346.73,350.82 347.40,350.81 348.07,350.81 348.75,350.81 349.43,350.80 350.10,350.79 350.78,350.79 351.45,350.78 352.12,350.77 352.80,350.76 353.48,350.75 354.15,350.74 354.83,350.73 355.50,350.72 356.18,350.70 356.85,350.69 357.52,350.67 358.20,350.66 358.88,350.64 359.55,350.62 360.23,350.61 360.90,350.59 361.58,350.57 362.25,350.55 362.93,350.53 363.60,350.50 364.27,350.48 364.95,350.46 365.62,350.43 366.30,350.41 366.98,350.39 367.65,350.36 368.33,350.33 369.00,350.31 369.68,350.28 370.35,350.25 371.02,350.23 371.70,350.20 372.38,350.17 373.05,350.14 373.73,350.12 374.40,350.09 375.08,350.06 375.75,350.04 376.43,350.01 377.10,349.99 377.77,349.96 378.45,349.94 379.12,349.92 379.80,349.90" fill="none" stroke="#1b5a98" stroke-width="1.35" stroke-linejoin="round" stroke-linecap="round"/>
<polyline points="298.80,349.72 299.48,349.72 300.15,349.72 300.82,349.72 301.50,349.72 302.18,349.72 302.85,349.72 303.53,349.72 304.20,349.72 304.88,349.72 305.55,349.72 306.23,349.72 306.90,349.72 307.58,349.72 308.25,349.72 308.93,349.72 309.60,349.72 310.27,349.72 310.95,349.72 311.62,349.72 312.30,349.72 312.98,349.72 313.65,349.72 314.32,349.72 315.00,349.72 315.68,349.72 316.35,349.72 317.03,349.72 317.70,349.72 318.38,349.71 319.05,349.71 319.73,349.71 320.40,349.71 321.07,349.71 321.75,349.71 322.43,349.70 323.10,349.70 323.78,349.70 324.45,349.69 325.12,349.68 325.80,349.68 326.48,349.67 327.15,349.66 327.82,349.65 328.50,349.63 329.18,349.62 329.85,349.59 330.53,349.57 331.20,349.54 331.88,349.50 332.55,349.46 333.23,349.41 333.90,349.35 334.57,349.27 335.25,349.19 335.93,349.08 336.60,348.96 337.28,348.81 337.95,348.64 338.62,348.45 339.30,348.21 339.98,347.94 340.65,347.63 341.32,347.28 342.00,346.88 342.68,346.43 343.35,345.93 344.03,345.38 344.70,344.78 345.38,344.15 346.05,343.48 346.73,342.80 347.40,342.10 348.07,341.40 348.75,340.71 349.43,340.04 350.10,339.41 350.78,338.81 351.45,338.26 352.12,337.76 352.80,337.31 353.48,336.91 354.15,336.56 354.83,336.25 355.50,335.98 356.18,335.75 356.85,335.55 357.52,335.38 358.20,335.23 358.88,335.11 359.55,335.01 360.23,334.92 360.90,334.84 361.58,334.78 362.25,334.73 362.93,334.69 363.60,334.65 364.27,334.62 364.95,334.60 365.62,334.58 366.30,334.56 366.98,334.54 367.65,334.53 368.33,334.52 369.00,334.51 369.68,334.51 370.35,334.50 371.02,334.49 371.70,334.49 372.38,334.49 373.05,334.48 373.73,334.48 374.40,334.48 375.08,334.48 375.75,334.48 376.43,334.48 377.10,334.48 377.77,334.47 378.45,334.47 379.12,334.47 379.80,334.47" fill="none" stroke="#c8102e" stroke-width="1.35" stroke-linejoin="round" stroke-linecap="round"/>
<line x1="298.80" y1="350.38" x2="298.80" y2="350.91" stroke="#1b5a98" stroke-width="0.85"/>
<line x1="297.80" y1="350.38" x2="299.80" y2="350.38" stroke="#1b5a98" stroke-width="0.85"/>
<line x1="297.80" y1="350.91" x2="299.80" y2="350.91" stroke="#1b5a98" stroke-width="0.85"/>
<circle cx="298.80" cy="350.65" r="1.45" fill="#1b5a98"/>
<line x1="323.18" y1="350.38" x2="323.18" y2="350.91" stroke="#1b5a98" stroke-width="0.85"/>
<line x1="322.18" y1="350.38" x2="324.18" y2="350.38" stroke="#1b5a98" stroke-width="0.85"/>
<line x1="322.18" y1="350.91" x2="324.18" y2="350.91" stroke="#1b5a98" stroke-width="0.85"/>
<circle cx="323.18" cy="350.65" r="1.45" fill="#1b5a98"/>
<line x1="332.62" y1="350.52" x2="332.62" y2="351.05" stroke="#1b5a98" stroke-width="0.85"/>
<line x1="331.62" y1="350.52" x2="333.62" y2="350.52" stroke="#1b5a98" stroke-width="0.85"/>
<line x1="331.62" y1="351.05" x2="333.62" y2="351.05" stroke="#1b5a98" stroke-width="0.85"/>
<circle cx="332.62" cy="350.78" r="1.45" fill="#1b5a98"/>
<line x1="342.06" y1="350.65" x2="342.06" y2="351.18" stroke="#1b5a98" stroke-width="0.85"/>
<line x1="341.06" y1="350.65" x2="343.06" y2="350.65" stroke="#1b5a98" stroke-width="0.85"/>
<line x1="341.06" y1="351.18" x2="343.06" y2="351.18" stroke="#1b5a98" stroke-width="0.85"/>
<circle cx="342.06" cy="350.91" r="1.45" fill="#1b5a98"/>
<line x1="351.49" y1="350.65" x2="351.49" y2="351.18" stroke="#1b5a98" stroke-width="0.85"/>
<line x1="350.49" y1="350.65" x2="352.49" y2="350.65" stroke="#1b5a98" stroke-width="0.85"/>
<line x1="350.49" y1="351.18" x2="352.49" y2="351.18" stroke="#1b5a98" stroke-width="0.85"/>
<circle cx="351.49" cy="350.91" r="1.45" fill="#1b5a98"/>
<line x1="360.93" y1="350.38" x2="360.93" y2="350.91" stroke="#1b5a98" stroke-width="0.85"/>
<line x1="359.93" y1="350.38" x2="361.93" y2="350.38" stroke="#1b5a98" stroke-width="0.85"/>
<line x1="359.93" y1="350.91" x2="361.93" y2="350.91" stroke="#1b5a98" stroke-width="0.85"/>
<circle cx="360.93" cy="350.65" r="1.45" fill="#1b5a98"/>
<line x1="370.36" y1="349.99" x2="370.36" y2="350.52" stroke="#1b5a98" stroke-width="0.85"/>
<line x1="369.36" y1="349.99" x2="371.36" y2="349.99" stroke="#1b5a98" stroke-width="0.85"/>
<line x1="369.36" y1="350.52" x2="371.36" y2="350.52" stroke="#1b5a98" stroke-width="0.85"/>
<circle cx="370.36" cy="350.25" r="1.45" fill="#1b5a98"/>
<line x1="379.80" y1="349.19" x2="379.80" y2="349.99" stroke="#1b5a98" stroke-width="0.85"/>
<line x1="378.80" y1="349.19" x2="380.80" y2="349.19" stroke="#1b5a98" stroke-width="0.85"/>
<line x1="378.80" y1="349.99" x2="380.80" y2="349.99" stroke="#1b5a98" stroke-width="0.85"/>
<circle cx="379.80" cy="349.59" r="1.45" fill="#1b5a98"/>
<line x1="298.80" y1="349.32" x2="298.80" y2="350.65" stroke="#c8102e" stroke-width="0.85"/>
<line x1="297.80" y1="349.32" x2="299.80" y2="349.32" stroke="#c8102e" stroke-width="0.85"/>
<line x1="297.80" y1="350.65" x2="299.80" y2="350.65" stroke="#c8102e" stroke-width="0.85"/>
<circle cx="298.80" cy="349.99" r="1.45" fill="#c8102e"/>
<line x1="323.18" y1="349.45" x2="323.18" y2="350.52" stroke="#c8102e" stroke-width="0.85"/>
<line x1="322.18" y1="349.45" x2="324.18" y2="349.45" stroke="#c8102e" stroke-width="0.85"/>
<line x1="322.18" y1="350.52" x2="324.18" y2="350.52" stroke="#c8102e" stroke-width="0.85"/>
<circle cx="323.18" cy="349.99" r="1.45" fill="#c8102e"/>
<line x1="332.62" y1="347.20" x2="332.62" y2="348.79" stroke="#c8102e" stroke-width="0.85"/>
<line x1="331.62" y1="347.20" x2="333.62" y2="347.20" stroke="#c8102e" stroke-width="0.85"/>
<line x1="331.62" y1="348.79" x2="333.62" y2="348.79" stroke="#c8102e" stroke-width="0.85"/>
<circle cx="332.62" cy="348.00" r="1.45" fill="#c8102e"/>
<line x1="342.06" y1="343.75" x2="342.06" y2="345.61" stroke="#c8102e" stroke-width="0.85"/>
<line x1="341.06" y1="343.75" x2="343.06" y2="343.75" stroke="#c8102e" stroke-width="0.85"/>
<line x1="341.06" y1="345.61" x2="343.06" y2="345.61" stroke="#c8102e" stroke-width="0.85"/>
<circle cx="342.06" cy="344.68" r="1.45" fill="#c8102e"/>
<line x1="351.49" y1="338.98" x2="351.49" y2="341.10" stroke="#c8102e" stroke-width="0.85"/>
<line x1="350.49" y1="338.98" x2="352.49" y2="338.98" stroke="#c8102e" stroke-width="0.85"/>
<line x1="350.49" y1="341.10" x2="352.49" y2="341.10" stroke="#c8102e" stroke-width="0.85"/>
<circle cx="351.49" cy="340.04" r="1.45" fill="#c8102e"/>
<line x1="360.93" y1="334.87" x2="360.93" y2="337.26" stroke="#c8102e" stroke-width="0.85"/>
<line x1="359.93" y1="334.87" x2="361.93" y2="334.87" stroke="#c8102e" stroke-width="0.85"/>
<line x1="359.93" y1="337.26" x2="361.93" y2="337.26" stroke="#c8102e" stroke-width="0.85"/>
<circle cx="360.93" cy="336.06" r="1.45" fill="#c8102e"/>
<line x1="370.36" y1="332.48" x2="370.36" y2="334.34" stroke="#c8102e" stroke-width="0.85"/>
<line x1="369.36" y1="332.48" x2="371.36" y2="332.48" stroke="#c8102e" stroke-width="0.85"/>
<line x1="369.36" y1="334.34" x2="371.36" y2="334.34" stroke="#c8102e" stroke-width="0.85"/>
<circle cx="370.36" cy="333.41" r="1.45" fill="#c8102e"/>
<line x1="379.80" y1="332.88" x2="379.80" y2="335.27" stroke="#c8102e" stroke-width="0.85"/>
<line x1="378.80" y1="332.88" x2="380.80" y2="332.88" stroke="#c8102e" stroke-width="0.85"/>
<line x1="378.80" y1="335.27" x2="380.80" y2="335.27" stroke="#c8102e" stroke-width="0.85"/>
<circle cx="379.80" cy="334.07" r="1.45" fill="#c8102e"/>
<line x1="419.60" y1="286.70" x2="419.60" y2="353.90" stroke="#000" stroke-width="1.2"/>
<line x1="417.10" y1="353.30" x2="509.00" y2="353.30" stroke="#000" stroke-width="1.3"/>
<line x1="416.60" y1="353.30" x2="419.60" y2="353.30" stroke="#000" stroke-width="1.0"/>
<text x="415.00" y="355.50" font-size="7.9" text-anchor="end" fill="#303030" stroke="#303030" stroke-width="0.1" textLength="3.38" lengthAdjust="spacingAndGlyphs">0</text>
<line x1="416.60" y1="340.04" x2="419.60" y2="340.04" stroke="#000" stroke-width="1.0"/>
<text x="415.00" y="342.24" font-size="7.9" text-anchor="end" fill="#303030" stroke="#303030" stroke-width="0.1" textLength="16.90" lengthAdjust="spacingAndGlyphs">10000</text>
<line x1="416.60" y1="326.78" x2="419.60" y2="326.78" stroke="#000" stroke-width="1.0"/>
<text x="415.00" y="328.98" font-size="7.9" text-anchor="end" fill="#303030" stroke="#303030" stroke-width="0.1" textLength="16.90" lengthAdjust="spacingAndGlyphs">20000</text>
<line x1="416.60" y1="313.52" x2="419.60" y2="313.52" stroke="#000" stroke-width="1.0"/>
<text x="415.00" y="315.72" font-size="7.9" text-anchor="end" fill="#303030" stroke="#303030" stroke-width="0.1" textLength="16.90" lengthAdjust="spacingAndGlyphs">30000</text>
<line x1="416.60" y1="300.26" x2="419.60" y2="300.26" stroke="#000" stroke-width="1.0"/>
<text x="415.00" y="302.46" font-size="7.9" text-anchor="end" fill="#303030" stroke="#303030" stroke-width="0.1" textLength="16.90" lengthAdjust="spacingAndGlyphs">40000</text>
<line x1="416.60" y1="287.00" x2="419.60" y2="287.00" stroke="#000" stroke-width="1.0"/>
<text x="415.00" y="289.20" font-size="7.9" text-anchor="end" fill="#303030" stroke="#303030" stroke-width="0.1" textLength="16.90" lengthAdjust="spacingAndGlyphs">50000</text>
<line x1="423.50" y1="353.30" x2="423.50" y2="356.50" stroke="#000" stroke-width="0.9"/>
<text x="426.20" y="360.10" font-size="7.8" text-anchor="end" fill="#303030" stroke="#303030" stroke-width="0.1" textLength="22.91" lengthAdjust="spacingAndGlyphs" transform="rotate(-45 426.20 360.10)">0.00001</text>
<line x1="427.56" y1="353.30" x2="427.56" y2="355.20" stroke="#000" stroke-width="0.7"/>
<line x1="429.93" y1="353.30" x2="429.93" y2="355.20" stroke="#000" stroke-width="0.7"/>
<line x1="431.62" y1="353.30" x2="431.62" y2="355.20" stroke="#000" stroke-width="0.7"/>
<line x1="432.92" y1="353.30" x2="432.92" y2="355.20" stroke="#000" stroke-width="0.7"/>
<line x1="433.99" y1="353.30" x2="433.99" y2="355.20" stroke="#000" stroke-width="0.7"/>
<line x1="434.89" y1="353.30" x2="434.89" y2="355.20" stroke="#000" stroke-width="0.7"/>
<line x1="435.67" y1="353.30" x2="435.67" y2="355.20" stroke="#000" stroke-width="0.7"/>
<line x1="436.36" y1="353.30" x2="436.36" y2="355.20" stroke="#000" stroke-width="0.7"/>
<line x1="436.98" y1="353.30" x2="436.98" y2="356.50" stroke="#000" stroke-width="0.9"/>
<text x="439.68" y="360.10" font-size="7.8" text-anchor="end" fill="#303030" stroke="#303030" stroke-width="0.1" textLength="19.40" lengthAdjust="spacingAndGlyphs" transform="rotate(-45 439.68 360.10)">0.0001</text>
<line x1="441.04" y1="353.30" x2="441.04" y2="355.20" stroke="#000" stroke-width="0.7"/>
<line x1="443.41" y1="353.30" x2="443.41" y2="355.20" stroke="#000" stroke-width="0.7"/>
<line x1="445.10" y1="353.30" x2="445.10" y2="355.20" stroke="#000" stroke-width="0.7"/>
<line x1="446.40" y1="353.30" x2="446.40" y2="355.20" stroke="#000" stroke-width="0.7"/>
<line x1="447.47" y1="353.30" x2="447.47" y2="355.20" stroke="#000" stroke-width="0.7"/>
<line x1="448.37" y1="353.30" x2="448.37" y2="355.20" stroke="#000" stroke-width="0.7"/>
<line x1="449.15" y1="353.30" x2="449.15" y2="355.20" stroke="#000" stroke-width="0.7"/>
<line x1="449.84" y1="353.30" x2="449.84" y2="355.20" stroke="#000" stroke-width="0.7"/>
<line x1="450.46" y1="353.30" x2="450.46" y2="356.50" stroke="#000" stroke-width="0.9"/>
<text x="453.16" y="360.10" font-size="7.8" text-anchor="end" fill="#303030" stroke="#303030" stroke-width="0.1" textLength="15.88" lengthAdjust="spacingAndGlyphs" transform="rotate(-45 453.16 360.10)">0.001</text>
<line x1="454.52" y1="353.30" x2="454.52" y2="355.20" stroke="#000" stroke-width="0.7"/>
<line x1="456.89" y1="353.30" x2="456.89" y2="355.20" stroke="#000" stroke-width="0.7"/>
<line x1="458.58" y1="353.30" x2="458.58" y2="355.20" stroke="#000" stroke-width="0.7"/>
<line x1="459.88" y1="353.30" x2="459.88" y2="355.20" stroke="#000" stroke-width="0.7"/>
<line x1="460.95" y1="353.30" x2="460.95" y2="355.20" stroke="#000" stroke-width="0.7"/>
<line x1="461.85" y1="353.30" x2="461.85" y2="355.20" stroke="#000" stroke-width="0.7"/>
<line x1="462.63" y1="353.30" x2="462.63" y2="355.20" stroke="#000" stroke-width="0.7"/>
<line x1="463.32" y1="353.30" x2="463.32" y2="355.20" stroke="#000" stroke-width="0.7"/>
<line x1="463.94" y1="353.30" x2="463.94" y2="356.50" stroke="#000" stroke-width="0.9"/>
<text x="466.64" y="360.10" font-size="7.8" text-anchor="end" fill="#303030" stroke="#303030" stroke-width="0.1" textLength="12.37" lengthAdjust="spacingAndGlyphs" transform="rotate(-45 466.64 360.10)">0.01</text>
<line x1="468.00" y1="353.30" x2="468.00" y2="355.20" stroke="#000" stroke-width="0.7"/>
<line x1="470.37" y1="353.30" x2="470.37" y2="355.20" stroke="#000" stroke-width="0.7"/>
<line x1="472.06" y1="353.30" x2="472.06" y2="355.20" stroke="#000" stroke-width="0.7"/>
<line x1="473.36" y1="353.30" x2="473.36" y2="355.20" stroke="#000" stroke-width="0.7"/>
<line x1="474.43" y1="353.30" x2="474.43" y2="355.20" stroke="#000" stroke-width="0.7"/>
<line x1="475.33" y1="353.30" x2="475.33" y2="355.20" stroke="#000" stroke-width="0.7"/>
<line x1="476.11" y1="353.30" x2="476.11" y2="355.20" stroke="#000" stroke-width="0.7"/>
<line x1="476.80" y1="353.30" x2="476.80" y2="355.20" stroke="#000" stroke-width="0.7"/>
<line x1="477.42" y1="353.30" x2="477.42" y2="356.50" stroke="#000" stroke-width="0.9"/>
<text x="480.12" y="360.10" font-size="7.8" text-anchor="end" fill="#303030" stroke="#303030" stroke-width="0.1" textLength="8.85" lengthAdjust="spacingAndGlyphs" transform="rotate(-45 480.12 360.10)">0.1</text>
<line x1="481.48" y1="353.30" x2="481.48" y2="355.20" stroke="#000" stroke-width="0.7"/>
<line x1="483.85" y1="353.30" x2="483.85" y2="355.20" stroke="#000" stroke-width="0.7"/>
<line x1="485.54" y1="353.30" x2="485.54" y2="355.20" stroke="#000" stroke-width="0.7"/>
<line x1="486.84" y1="353.30" x2="486.84" y2="355.20" stroke="#000" stroke-width="0.7"/>
<line x1="487.91" y1="353.30" x2="487.91" y2="355.20" stroke="#000" stroke-width="0.7"/>
<line x1="488.81" y1="353.30" x2="488.81" y2="355.20" stroke="#000" stroke-width="0.7"/>
<line x1="489.59" y1="353.30" x2="489.59" y2="355.20" stroke="#000" stroke-width="0.7"/>
<line x1="490.28" y1="353.30" x2="490.28" y2="355.20" stroke="#000" stroke-width="0.7"/>
<line x1="490.90" y1="353.30" x2="490.90" y2="356.50" stroke="#000" stroke-width="0.9"/>
<text x="493.60" y="360.10" font-size="7.8" text-anchor="end" fill="#303030" stroke="#303030" stroke-width="0.1" textLength="3.52" lengthAdjust="spacingAndGlyphs" transform="rotate(-45 493.60 360.10)">1</text>
<line x1="494.96" y1="353.30" x2="494.96" y2="355.20" stroke="#000" stroke-width="0.7"/>
<line x1="497.33" y1="353.30" x2="497.33" y2="355.20" stroke="#000" stroke-width="0.7"/>
<line x1="499.02" y1="353.30" x2="499.02" y2="355.20" stroke="#000" stroke-width="0.7"/>
<line x1="500.32" y1="353.30" x2="500.32" y2="355.20" stroke="#000" stroke-width="0.7"/>
<line x1="501.39" y1="353.30" x2="501.39" y2="355.20" stroke="#000" stroke-width="0.7"/>
<line x1="502.29" y1="353.30" x2="502.29" y2="355.20" stroke="#000" stroke-width="0.7"/>
<line x1="503.07" y1="353.30" x2="503.07" y2="355.20" stroke="#000" stroke-width="0.7"/>
<line x1="503.76" y1="353.30" x2="503.76" y2="355.20" stroke="#000" stroke-width="0.7"/>
<line x1="504.38" y1="353.30" x2="504.38" y2="356.50" stroke="#000" stroke-width="0.9"/>
<text x="507.08" y="360.10" font-size="7.8" text-anchor="end" fill="#303030" stroke="#303030" stroke-width="0.1" textLength="7.03" lengthAdjust="spacingAndGlyphs" transform="rotate(-45 507.08 360.10)">10</text>
<line x1="508.44" y1="353.30" x2="508.44" y2="355.20" stroke="#000" stroke-width="0.7"/>
<text x="392.00" y="320.10" font-size="8.8" text-anchor="middle" fill="#303030" stroke="#303030" stroke-width="0.1" textLength="15.80" lengthAdjust="spacingAndGlyphs" transform="rotate(-90 392.00 320.10)">gMFI</text>
<text x="425.40" y="383.90" font-size="9.3" text-anchor="start" fill="#303030" stroke="#303030" stroke-width="0.1" textLength="79.40" lengthAdjust="spacingAndGlyphs">TCB concentration/(µg/mL)</text>
<text x="464.70" y="274.20" font-size="7.0" text-anchor="middle" fill="#111" font-weight="bold" stroke="#111" stroke-width="0.4" textLength="17.00" lengthAdjust="spacingAndGlyphs">SKM1</text>
<text x="464.70" y="281.70" font-size="7.0" text-anchor="middle" fill="#111" font-weight="bold" stroke="#111" stroke-width="0.4" textLength="43.20" lengthAdjust="spacingAndGlyphs">CD25 on CD8<tspan font-size="4.6" dy="-2.2">+</tspan></text>
<polyline points="423.60,334.87 424.27,334.87 424.95,334.87 425.62,334.87 426.30,334.87 426.97,334.87 427.64,334.87 428.32,334.87 428.99,334.87 429.67,334.87 430.34,334.87 431.01,334.87 431.69,334.87 432.36,334.87 433.04,334.87 433.71,334.87 434.38,334.87 435.06,334.87 435.73,334.87 436.41,334.87 437.08,334.87 437.75,334.87 438.43,334.87 439.10,334.87 439.78,334.87 440.45,334.87 441.12,334.87 441.80,334.87 442.47,334.87 443.15,334.87 443.82,334.87 444.49,334.87 445.17,334.87 445.84,334.87 446.52,334.87 447.19,334.87 447.86,334.87 448.54,334.87 449.21,334.87 449.89,334.87 450.56,334.87 451.23,334.87 451.91,334.87 452.58,334.87 453.26,334.87 453.93,334.87 454.60,334.87 455.28,334.87 455.95,334.87 456.63,334.87 457.30,334.87 457.97,334.87 458.65,334.87 459.32,334.87 460.00,334.87 460.67,334.87 461.34,334.87 462.02,334.87 462.69,334.87 463.37,334.87 464.04,334.87 464.71,334.87 465.39,334.87 466.06,334.87 466.74,334.87 467.41,334.87 468.08,334.87 468.76,334.87 469.43,334.87 470.11,334.87 470.78,334.87 471.45,334.87 472.13,334.87 472.80,334.87 473.48,334.87 474.15,334.87 474.82,334.87 475.50,334.87 476.17,334.87 476.85,334.87 477.52,334.87 478.19,334.87 478.87,334.87 479.54,334.87 480.22,334.87 480.89,334.87 481.56,334.86 482.24,334.86 482.91,334.86 483.59,334.86 484.26,334.86 484.93,334.86 485.61,334.86 486.28,334.85 486.96,334.85 487.63,334.85 488.30,334.85 488.98,334.84 489.65,334.84 490.33,334.83 491.00,334.82 491.67,334.82 492.35,334.81 493.02,334.80 493.70,334.78 494.37,334.77 495.04,334.75 495.72,334.73 496.39,334.71 497.07,334.68 497.74,334.65 498.41,334.61 499.09,334.58 499.76,334.53 500.44,334.49 501.11,334.44 501.78,334.38 502.46,334.32 503.13,334.26 503.81,334.20 504.48,334.14" fill="none" stroke="#1b5a98" stroke-width="1.35" stroke-linejoin="round" stroke-linecap="round"/>
<polyline points="423.60,331.69 424.27,331.69 424.95,331.69 425.62,331.69 426.30,331.69 426.97,331.69 427.64,331.69 428.32,331.69 428.99,331.69 429.67,331.69 430.34,331.69 431.01,331.69 431.69,331.69 432.36,331.69 433.04,331.69 433.71,331.69 434.38,331.69 435.06,331.69 435.73,331.69 436.41,331.69 437.08,331.69 437.75,331.69 438.43,331.69 439.10,331.69 439.78,331.69 440.45,331.69 441.12,331.69 441.80,331.68 442.47,331.68 443.15,331.68 443.82,331.68 444.49,331.68 445.17,331.68 445.84,331.68 446.52,331.68 447.19,331.68 447.86,331.68 448.54,331.67 449.21,331.67 449.89,331.67 450.56,331.66 451.23,331.66 451.91,331.65 452.58,331.64 453.26,331.63 453.93,331.61 454.60,331.59 455.28,331.57 455.95,331.54 456.63,331.51 457.30,331.47 457.97,331.41 458.65,331.35 459.32,331.26 460.00,331.16 460.67,331.04 461.34,330.88 462.02,330.69 462.69,330.46 463.37,330.17 464.04,329.82 464.71,329.39 465.39,328.88 466.06,328.26 466.74,327.53 467.41,326.66 468.08,325.65 468.76,324.49 469.43,323.17 470.11,321.70 470.78,320.09 471.45,318.37 472.13,316.56 472.80,314.71 473.48,312.86 474.15,311.06 474.82,309.34 475.50,307.73 476.17,306.26 476.85,304.94 477.52,303.78 478.19,302.77 478.87,301.90 479.54,301.17 480.22,300.55 480.89,300.03 481.56,299.61 482.24,299.26 482.91,298.97 483.59,298.74 484.26,298.54 484.93,298.39 485.61,298.26 486.28,298.16 486.96,298.08 487.63,298.01 488.30,297.96 488.98,297.92 489.65,297.88 490.33,297.86 491.00,297.83 491.67,297.81 492.35,297.80 493.02,297.79 493.70,297.78 494.37,297.77 495.04,297.77 495.72,297.76 496.39,297.76 497.07,297.75 497.74,297.75 498.41,297.75 499.09,297.75 499.76,297.75 500.44,297.74 501.11,297.74 501.78,297.74 502.46,297.74 503.13,297.74 503.81,297.74 504.48,297.74" fill="none" stroke="#c8102e" stroke-width="1.35" stroke-linejoin="round" stroke-linecap="round"/>
<line x1="423.60" y1="336.06" x2="423.60" y2="338.71" stroke="#1b5a98" stroke-width="0.85"/>
<line x1="422.60" y1="336.06" x2="424.60" y2="336.06" stroke="#1b5a98" stroke-width="0.85"/>
<line x1="422.60" y1="338.71" x2="424.60" y2="338.71" stroke="#1b5a98" stroke-width="0.85"/>
<circle cx="423.60" cy="337.39" r="1.45" fill="#1b5a98"/>
<line x1="447.95" y1="333.14" x2="447.95" y2="336.33" stroke="#1b5a98" stroke-width="0.85"/>
<line x1="446.95" y1="333.14" x2="448.95" y2="333.14" stroke="#1b5a98" stroke-width="0.85"/>
<line x1="446.95" y1="336.33" x2="448.95" y2="336.33" stroke="#1b5a98" stroke-width="0.85"/>
<circle cx="447.95" cy="334.74" r="1.45" fill="#1b5a98"/>
<line x1="457.37" y1="332.75" x2="457.37" y2="336.73" stroke="#1b5a98" stroke-width="0.85"/>
<line x1="456.37" y1="332.75" x2="458.37" y2="332.75" stroke="#1b5a98" stroke-width="0.85"/>
<line x1="456.37" y1="336.73" x2="458.37" y2="336.73" stroke="#1b5a98" stroke-width="0.85"/>
<circle cx="457.37" cy="334.74" r="1.45" fill="#1b5a98"/>
<line x1="466.79" y1="332.75" x2="466.79" y2="336.73" stroke="#1b5a98" stroke-width="0.85"/>
<line x1="465.79" y1="332.75" x2="467.79" y2="332.75" stroke="#1b5a98" stroke-width="0.85"/>
<line x1="465.79" y1="336.73" x2="467.79" y2="336.73" stroke="#1b5a98" stroke-width="0.85"/>
<circle cx="466.79" cy="334.74" r="1.45" fill="#1b5a98"/>
<line x1="476.21" y1="331.42" x2="476.21" y2="335.40" stroke="#1b5a98" stroke-width="0.85"/>
<line x1="475.21" y1="331.42" x2="477.21" y2="331.42" stroke="#1b5a98" stroke-width="0.85"/>
<line x1="475.21" y1="335.40" x2="477.21" y2="335.40" stroke="#1b5a98" stroke-width="0.85"/>
<circle cx="476.21" cy="333.41" r="1.45" fill="#1b5a98"/>
<line x1="485.64" y1="332.75" x2="485.64" y2="336.73" stroke="#1b5a98" stroke-width="0.85"/>
<line x1="484.64" y1="332.75" x2="486.64" y2="332.75" stroke="#1b5a98" stroke-width="0.85"/>
<line x1="484.64" y1="336.73" x2="486.64" y2="336.73" stroke="#1b5a98" stroke-width="0.85"/>
<circle cx="485.64" cy="334.74" r="1.45" fill="#1b5a98"/>
<line x1="495.06" y1="334.07" x2="495.06" y2="336.73" stroke="#1b5a98" stroke-width="0.85"/>
<line x1="494.06" y1="334.07" x2="496.06" y2="334.07" stroke="#1b5a98" stroke-width="0.85"/>
<line x1="494.06" y1="336.73" x2="496.06" y2="336.73" stroke="#1b5a98" stroke-width="0.85"/>
<circle cx="495.06" cy="335.40" r="1.45" fill="#1b5a98"/>
<line x1="504.48" y1="331.69" x2="504.48" y2="333.81" stroke="#1b5a98" stroke-width="0.85"/>
<line x1="503.48" y1="331.69" x2="505.48" y2="331.69" stroke="#1b5a98" stroke-width="0.85"/>
<line x1="503.48" y1="333.81" x2="505.48" y2="333.81" stroke="#1b5a98" stroke-width="0.85"/>
<circle cx="504.48" cy="332.75" r="1.45" fill="#1b5a98"/>
<line x1="423.60" y1="334.74" x2="423.60" y2="337.39" stroke="#c8102e" stroke-width="0.85"/>
<line x1="422.60" y1="334.74" x2="424.60" y2="334.74" stroke="#c8102e" stroke-width="0.85"/>
<line x1="422.60" y1="337.39" x2="424.60" y2="337.39" stroke="#c8102e" stroke-width="0.85"/>
<circle cx="423.60" cy="336.06" r="1.45" fill="#c8102e"/>
<line x1="447.95" y1="332.08" x2="447.95" y2="334.74" stroke="#c8102e" stroke-width="0.85"/>
<line x1="446.95" y1="332.08" x2="448.95" y2="332.08" stroke="#c8102e" stroke-width="0.85"/>
<line x1="446.95" y1="334.74" x2="448.95" y2="334.74" stroke="#c8102e" stroke-width="0.85"/>
<circle cx="447.95" cy="333.41" r="1.45" fill="#c8102e"/>
<line x1="457.37" y1="327.18" x2="457.37" y2="330.36" stroke="#c8102e" stroke-width="0.85"/>
<line x1="456.37" y1="327.18" x2="458.37" y2="327.18" stroke="#c8102e" stroke-width="0.85"/>
<line x1="456.37" y1="330.36" x2="458.37" y2="330.36" stroke="#c8102e" stroke-width="0.85"/>
<circle cx="457.37" cy="328.77" r="1.45" fill="#c8102e"/>
<line x1="466.79" y1="316.84" x2="466.79" y2="320.81" stroke="#c8102e" stroke-width="0.85"/>
<line x1="465.79" y1="316.84" x2="467.79" y2="316.84" stroke="#c8102e" stroke-width="0.85"/>
<line x1="465.79" y1="320.81" x2="467.79" y2="320.81" stroke="#c8102e" stroke-width="0.85"/>
<circle cx="466.79" cy="318.82" r="1.45" fill="#c8102e"/>
<line x1="476.21" y1="307.55" x2="476.21" y2="311.53" stroke="#c8102e" stroke-width="0.85"/>
<line x1="475.21" y1="307.55" x2="477.21" y2="307.55" stroke="#c8102e" stroke-width="0.85"/>
<line x1="475.21" y1="311.53" x2="477.21" y2="311.53" stroke="#c8102e" stroke-width="0.85"/>
<circle cx="476.21" cy="309.54" r="1.45" fill="#c8102e"/>
<line x1="485.64" y1="299.60" x2="485.64" y2="303.57" stroke="#c8102e" stroke-width="0.85"/>
<line x1="484.64" y1="299.60" x2="486.64" y2="299.60" stroke="#c8102e" stroke-width="0.85"/>
<line x1="484.64" y1="303.57" x2="486.64" y2="303.57" stroke="#c8102e" stroke-width="0.85"/>
<circle cx="485.64" cy="301.59" r="1.45" fill="#c8102e"/>
<line x1="495.06" y1="291.64" x2="495.06" y2="295.62" stroke="#c8102e" stroke-width="0.85"/>
<line x1="494.06" y1="291.64" x2="496.06" y2="291.64" stroke="#c8102e" stroke-width="0.85"/>
<line x1="494.06" y1="295.62" x2="496.06" y2="295.62" stroke="#c8102e" stroke-width="0.85"/>
<circle cx="495.06" cy="293.63" r="1.45" fill="#c8102e"/>
<line x1="504.48" y1="293.63" x2="504.48" y2="300.26" stroke="#c8102e" stroke-width="0.85"/>
<line x1="503.48" y1="293.63" x2="505.48" y2="293.63" stroke="#c8102e" stroke-width="0.85"/>
<line x1="503.48" y1="300.26" x2="505.48" y2="300.26" stroke="#c8102e" stroke-width="0.85"/>
<circle cx="504.48" cy="296.94" r="1.45" fill="#c8102e"/>
<line x1="45.20" y1="415.80" x2="45.20" y2="483.10" stroke="#000" stroke-width="1.2"/>
<line x1="42.70" y1="482.50" x2="133.70" y2="482.50" stroke="#000" stroke-width="1.3"/>
<line x1="42.20" y1="482.50" x2="45.20" y2="482.50" stroke="#000" stroke-width="1.0"/>
<text x="40.60" y="484.70" font-size="7.9" text-anchor="end" fill="#303030" stroke="#303030" stroke-width="0.1" textLength="3.38" lengthAdjust="spacingAndGlyphs">0</text>
<line x1="42.20" y1="465.90" x2="45.20" y2="465.90" stroke="#000" stroke-width="1.0"/>
<text x="40.60" y="468.10" font-size="7.9" text-anchor="end" fill="#303030" stroke="#303030" stroke-width="0.1" textLength="6.76" lengthAdjust="spacingAndGlyphs">20</text>
<line x1="42.20" y1="449.30" x2="45.20" y2="449.30" stroke="#000" stroke-width="1.0"/>
<text x="40.60" y="451.50" font-size="7.9" text-anchor="end" fill="#303030" stroke="#303030" stroke-width="0.1" textLength="6.76" lengthAdjust="spacingAndGlyphs">40</text>
<line x1="42.20" y1="432.70" x2="45.20" y2="432.70" stroke="#000" stroke-width="1.0"/>
<text x="40.60" y="434.90" font-size="7.9" text-anchor="end" fill="#303030" stroke="#303030" stroke-width="0.1" textLength="6.76" lengthAdjust="spacingAndGlyphs">60</text>
<line x1="42.20" y1="416.10" x2="45.20" y2="416.10" stroke="#000" stroke-width="1.0"/>
<text x="40.60" y="418.30" font-size="7.9" text-anchor="end" fill="#303030" stroke="#303030" stroke-width="0.1" textLength="6.76" lengthAdjust="spacingAndGlyphs">80</text>
<line x1="49.60" y1="482.50" x2="49.60" y2="485.70" stroke="#000" stroke-width="0.9"/>
<text x="52.30" y="489.30" font-size="7.8" text-anchor="end" fill="#303030" stroke="#303030" stroke-width="0.1" textLength="22.91" lengthAdjust="spacingAndGlyphs" transform="rotate(-45 52.30 489.30)">0.00001</text>
<line x1="53.27" y1="482.50" x2="53.27" y2="484.40" stroke="#000" stroke-width="0.7"/>
<line x1="55.41" y1="482.50" x2="55.41" y2="484.40" stroke="#000" stroke-width="0.7"/>
<line x1="56.93" y1="482.50" x2="56.93" y2="484.40" stroke="#000" stroke-width="0.7"/>
<line x1="58.11" y1="482.50" x2="58.11" y2="484.40" stroke="#000" stroke-width="0.7"/>
<line x1="59.08" y1="482.50" x2="59.08" y2="484.40" stroke="#000" stroke-width="0.7"/>
<line x1="59.89" y1="482.50" x2="59.89" y2="484.40" stroke="#000" stroke-width="0.7"/>
<line x1="60.60" y1="482.50" x2="60.60" y2="484.40" stroke="#000" stroke-width="0.7"/>
<line x1="61.22" y1="482.50" x2="61.22" y2="484.40" stroke="#000" stroke-width="0.7"/>
<line x1="61.78" y1="482.50" x2="61.78" y2="485.70" stroke="#000" stroke-width="0.9"/>
<text x="64.48" y="489.30" font-size="7.8" text-anchor="end" fill="#303030" stroke="#303030" stroke-width="0.1" textLength="19.40" lengthAdjust="spacingAndGlyphs" transform="rotate(-45 64.48 489.30)">0.0001</text>
<line x1="65.45" y1="482.50" x2="65.45" y2="484.40" stroke="#000" stroke-width="0.7"/>
<line x1="67.59" y1="482.50" x2="67.59" y2="484.40" stroke="#000" stroke-width="0.7"/>
<line x1="69.11" y1="482.50" x2="69.11" y2="484.40" stroke="#000" stroke-width="0.7"/>
<line x1="70.29" y1="482.50" x2="70.29" y2="484.40" stroke="#000" stroke-width="0.7"/>
<line x1="71.26" y1="482.50" x2="71.26" y2="484.40" stroke="#000" stroke-width="0.7"/>
<line x1="72.07" y1="482.50" x2="72.07" y2="484.40" stroke="#000" stroke-width="0.7"/>
<line x1="72.78" y1="482.50" x2="72.78" y2="484.40" stroke="#000" stroke-width="0.7"/>
<line x1="73.40" y1="482.50" x2="73.40" y2="484.40" stroke="#000" stroke-width="0.7"/>
<line x1="73.96" y1="482.50" x2="73.96" y2="485.70" stroke="#000" stroke-width="0.9"/>
<text x="76.66" y="489.30" font-size="7.8" text-anchor="end" fill="#303030" stroke="#303030" stroke-width="0.1" textLength="15.88" lengthAdjust="spacingAndGlyphs" transform="rotate(-45 76.66 489.30)">0.001</text>
<line x1="77.63" y1="482.50" x2="77.63" y2="484.40" stroke="#000" stroke-width="0.7"/>
<line x1="79.77" y1="482.50" x2="79.77" y2="484.40" stroke="#000" stroke-width="0.7"/>
<line x1="81.29" y1="482.50" x2="81.29" y2="484.40" stroke="#000" stroke-width="0.7"/>
<line x1="82.47" y1="482.50" x2="82.47" y2="484.40" stroke="#000" stroke-width="0.7"/>
<line x1="83.44" y1="482.50" x2="83.44" y2="484.40" stroke="#000" stroke-width="0.7"/>
<line x1="84.25" y1="482.50" x2="84.25" y2="484.40" stroke="#000" stroke-width="0.7"/>
<line x1="84.96" y1="482.50" x2="84.96" y2="484.40" stroke="#000" stroke-width="0.7"/>
<line x1="85.58" y1="482.50" x2="85.58" y2="484.40" stroke="#000" stroke-width="0.7"/>
<line x1="86.14" y1="482.50" x2="86.14" y2="485.70" stroke="#000" stroke-width="0.9"/>
<text x="88.84" y="489.30" font-size="7.8" text-anchor="end" fill="#303030" stroke="#303030" stroke-width="0.1" textLength="12.37" lengthAdjust="spacingAndGlyphs" transform="rotate(-45 88.84 489.30)">0.01</text>
<line x1="89.81" y1="482.50" x2="89.81" y2="484.40" stroke="#000" stroke-width="0.7"/>
<line x1="91.95" y1="482.50" x2="91.95" y2="484.40" stroke="#000" stroke-width="0.7"/>
<line x1="93.47" y1="482.50" x2="93.47" y2="484.40" stroke="#000" stroke-width="0.7"/>
<line x1="94.65" y1="482.50" x2="94.65" y2="484.40" stroke="#000" stroke-width="0.7"/>
<line x1="95.62" y1="482.50" x2="95.62" y2="484.40" stroke="#000" stroke-width="0.7"/>
<line x1="96.43" y1="482.50" x2="96.43" y2="484.40" stroke="#000" stroke-width="0.7"/>
<line x1="97.14" y1="482.50" x2="97.14" y2="484.40" stroke="#000" stroke-width="0.7"/>
<line x1="97.76" y1="482.50" x2="97.76" y2="484.40" stroke="#000" stroke-width="0.7"/>
<line x1="98.32" y1="482.50" x2="98.32" y2="485.70" stroke="#000" stroke-width="0.9"/>
<text x="101.02" y="489.30" font-size="7.8" text-anchor="end" fill="#303030" stroke="#303030" stroke-width="0.1" textLength="8.85" lengthAdjust="spacingAndGlyphs" transform="rotate(-45 101.02 489.30)">0.1</text>
<line x1="101.99" y1="482.50" x2="101.99" y2="484.40" stroke="#000" stroke-width="0.7"/>
<line x1="104.13" y1="482.50" x2="104.13" y2="484.40" stroke="#000" stroke-width="0.7"/>
<line x1="105.65" y1="482.50" x2="105.65" y2="484.40" stroke="#000" stroke-width="0.7"/>
<line x1="106.83" y1="482.50" x2="106.83" y2="484.40" stroke="#000" stroke-width="0.7"/>
<line x1="107.80" y1="482.50" x2="107.80" y2="484.40" stroke="#000" stroke-width="0.7"/>
<line x1="108.61" y1="482.50" x2="108.61" y2="484.40" stroke="#000" stroke-width="0.7"/>
<line x1="109.32" y1="482.50" x2="109.32" y2="484.40" stroke="#000" stroke-width="0.7"/>
<line x1="109.94" y1="482.50" x2="109.94" y2="484.40" stroke="#000" stroke-width="0.7"/>
<line x1="110.50" y1="482.50" x2="110.50" y2="485.70" stroke="#000" stroke-width="0.9"/>
<text x="113.20" y="489.30" font-size="7.8" text-anchor="end" fill="#303030" stroke="#303030" stroke-width="0.1" textLength="3.52" lengthAdjust="spacingAndGlyphs" transform="rotate(-45 113.20 489.30)">1</text>
<line x1="114.17" y1="482.50" x2="114.17" y2="484.40" stroke="#000" stroke-width="0.7"/>
<line x1="116.31" y1="482.50" x2="116.31" y2="484.40" stroke="#000" stroke-width="0.7"/>
<line x1="117.83" y1="482.50" x2="117.83" y2="484.40" stroke="#000" stroke-width="0.7"/>
<line x1="119.01" y1="482.50" x2="119.01" y2="484.40" stroke="#000" stroke-width="0.7"/>
<line x1="119.98" y1="482.50" x2="119.98" y2="484.40" stroke="#000" stroke-width="0.7"/>
<line x1="120.79" y1="482.50" x2="120.79" y2="484.40" stroke="#000" stroke-width="0.7"/>
<line x1="121.50" y1="482.50" x2="121.50" y2="484.40" stroke="#000" stroke-width="0.7"/>
<line x1="122.12" y1="482.50" x2="122.12" y2="484.40" stroke="#000" stroke-width="0.7"/>
<line x1="122.68" y1="482.50" x2="122.68" y2="485.70" stroke="#000" stroke-width="0.9"/>
<text x="125.38" y="489.30" font-size="7.8" text-anchor="end" fill="#303030" stroke="#303030" stroke-width="0.1" textLength="7.03" lengthAdjust="spacingAndGlyphs" transform="rotate(-45 125.38 489.30)">10</text>
<line x1="126.35" y1="482.50" x2="126.35" y2="484.40" stroke="#000" stroke-width="0.7"/>
<line x1="128.49" y1="482.50" x2="128.49" y2="484.40" stroke="#000" stroke-width="0.7"/>
<line x1="130.01" y1="482.50" x2="130.01" y2="484.40" stroke="#000" stroke-width="0.7"/>
<line x1="131.19" y1="482.50" x2="131.19" y2="484.40" stroke="#000" stroke-width="0.7"/>
<line x1="132.16" y1="482.50" x2="132.16" y2="484.40" stroke="#000" stroke-width="0.7"/>
<line x1="132.97" y1="482.50" x2="132.97" y2="484.40" stroke="#000" stroke-width="0.7"/>
<line x1="133.68" y1="482.50" x2="133.68" y2="484.40" stroke="#000" stroke-width="0.7"/>
<text x="26.50" y="449.00" font-size="8.8" text-anchor="middle" fill="#303030" stroke="#303030" stroke-width="0.1" textLength="40.50" lengthAdjust="spacingAndGlyphs" transform="rotate(-90 26.50 449.00)">% proliferated</text>
<text x="49.90" y="512.90" font-size="9.3" text-anchor="start" fill="#303030" stroke="#303030" stroke-width="0.1" textLength="79.00" lengthAdjust="spacingAndGlyphs">TCB concentration/(µg/mL)</text>
<text x="89.30" y="403.10" font-size="7.0" text-anchor="middle" fill="#111" font-weight="bold" stroke="#111" stroke-width="0.4" textLength="30.70" lengthAdjust="spacingAndGlyphs">OCI-AML3</text>
<text x="89.30" y="410.60" font-size="7.0" text-anchor="middle" fill="#111" font-weight="bold" stroke="#111" stroke-width="0.4" textLength="36.50" lengthAdjust="spacingAndGlyphs">CD4<tspan font-size="4.6" dy="-2.2">+</tspan><tspan dy="2.2"> T cells</tspan></text>
<polyline points="49.60,481.66 50.21,481.66 50.82,481.66 51.43,481.66 52.04,481.66 52.65,481.66 53.25,481.66 53.86,481.65 54.47,481.65 55.08,481.65 55.69,481.65 56.30,481.65 56.91,481.65 57.52,481.64 58.13,481.64 58.73,481.64 59.34,481.64 59.95,481.63 60.56,481.63 61.17,481.62 61.78,481.62 62.39,481.62 63.00,481.61 63.61,481.61 64.22,481.60 64.83,481.59 65.43,481.59 66.04,481.58 66.65,481.57 67.26,481.57 67.87,481.56 68.48,481.55 69.09,481.54 69.70,481.53 70.31,481.52 70.91,481.50 71.52,481.49 72.13,481.48 72.74,481.46 73.35,481.45 73.96,481.43 74.57,481.42 75.18,481.40 75.79,481.38 76.40,481.37 77.00,481.35 77.61,481.33 78.22,481.31 78.83,481.29 79.44,481.27 80.05,481.25 80.66,481.24 81.27,481.22 81.88,481.20 82.49,481.18 83.09,481.16 83.70,481.14 84.31,481.13 84.92,481.11 85.53,481.09 86.14,481.08 86.75,481.06 87.36,481.05 87.97,481.03 88.58,481.02 89.19,481.01 89.79,480.99 90.40,480.98 91.01,480.97 91.62,480.96 92.23,480.95 92.84,480.94 93.45,480.94 94.06,480.93 94.67,480.92 95.28,480.92 95.88,480.91 96.49,480.90 97.10,480.90 97.71,480.89 98.32,480.89 98.93,480.89 99.54,480.88 100.15,480.88 100.76,480.87 101.37,480.87 101.97,480.87 102.58,480.87 103.19,480.86 103.80,480.86 104.41,480.86 105.02,480.86 105.63,480.86 106.24,480.86 106.85,480.85 107.45,480.85 108.06,480.85 108.67,480.85 109.28,480.85 109.89,480.85 110.50,480.85 111.11,480.85 111.72,480.85 112.33,480.85 112.94,480.85 113.55,480.85 114.15,480.84 114.76,480.84 115.37,480.84 115.98,480.84 116.59,480.84 117.20,480.84 117.81,480.84 118.42,480.84 119.03,480.84 119.63,480.84 120.24,480.84 120.85,480.84 121.46,480.84 122.07,480.84 122.68,480.84" fill="none" stroke="#1b5a98" stroke-width="1.35" stroke-linejoin="round" stroke-linecap="round"/>
<polyline points="49.60,481.67 50.21,481.67 50.82,481.66 51.43,481.66 52.04,481.65 52.65,481.65 53.25,481.65 53.86,481.64 54.47,481.64 55.08,481.63 55.69,481.63 56.30,481.62 56.91,481.62 57.52,481.62 58.13,481.61 58.73,481.61 59.34,481.60 59.95,481.60 60.56,481.60 61.17,481.59 61.78,481.59 62.39,481.58 63.00,481.58 63.61,481.57 64.22,481.57 64.83,481.57 65.43,481.56 66.04,481.56 66.65,481.55 67.26,481.55 67.87,481.55 68.48,481.54 69.09,481.54 69.70,481.53 70.31,481.53 70.91,481.52 71.52,481.52 72.13,481.52 72.74,481.51 73.35,481.51 73.96,481.50 74.57,481.50 75.18,481.50 75.79,481.49 76.40,481.49 77.00,481.48 77.61,481.48 78.22,481.47 78.83,481.47 79.44,481.47 80.05,481.46 80.66,481.46 81.27,481.45 81.88,481.45 82.49,481.45 83.09,481.44 83.70,481.44 84.31,481.43 84.92,481.43 85.53,481.42 86.14,481.42 86.75,481.41 87.36,481.41 87.97,481.41 88.58,481.40 89.19,481.39 89.79,481.39 90.40,481.38 91.01,481.37 91.62,481.36 92.23,481.35 92.84,481.34 93.45,481.32 94.06,481.30 94.67,481.28 95.28,481.25 95.88,481.21 96.49,481.15 97.10,481.09 97.71,481.00 98.32,480.88 98.93,480.74 99.54,480.55 100.15,480.31 100.76,480.00 101.37,479.63 101.97,479.17 102.58,478.62 103.19,477.98 103.80,477.27 104.41,476.49 105.02,475.69 105.63,474.88 106.24,474.11 106.85,473.40 107.45,472.76 108.06,472.21 108.67,471.75 109.28,471.38 109.89,471.07 110.50,470.83 111.11,470.64 111.72,470.50 112.33,470.38 112.94,470.29 113.55,470.23 114.15,470.17 114.76,470.13 115.37,470.10 115.98,470.08 116.59,470.06 117.20,470.04 117.81,470.03 118.42,470.02 119.03,470.01 119.63,470.00 120.24,469.99 120.85,469.99 121.46,469.98 122.07,469.97 122.68,469.97" fill="none" stroke="#c8102e" stroke-width="1.35" stroke-linejoin="round" stroke-linecap="round"/>
<line x1="49.60" y1="481.50" x2="49.60" y2="481.84" stroke="#1b5a98" stroke-width="0.85"/>
<line x1="48.60" y1="481.50" x2="50.60" y2="481.50" stroke="#1b5a98" stroke-width="0.85"/>
<line x1="48.60" y1="481.84" x2="50.60" y2="481.84" stroke="#1b5a98" stroke-width="0.85"/>
<circle cx="49.60" cy="481.67" r="1.45" fill="#1b5a98"/>
<line x1="71.60" y1="481.34" x2="71.60" y2="481.67" stroke="#1b5a98" stroke-width="0.85"/>
<line x1="70.60" y1="481.34" x2="72.60" y2="481.34" stroke="#1b5a98" stroke-width="0.85"/>
<line x1="70.60" y1="481.67" x2="72.60" y2="481.67" stroke="#1b5a98" stroke-width="0.85"/>
<circle cx="71.60" cy="481.50" r="1.45" fill="#1b5a98"/>
<line x1="80.11" y1="481.09" x2="80.11" y2="481.42" stroke="#1b5a98" stroke-width="0.85"/>
<line x1="79.11" y1="481.09" x2="81.11" y2="481.09" stroke="#1b5a98" stroke-width="0.85"/>
<line x1="79.11" y1="481.42" x2="81.11" y2="481.42" stroke="#1b5a98" stroke-width="0.85"/>
<circle cx="80.11" cy="481.25" r="1.45" fill="#1b5a98"/>
<line x1="88.63" y1="480.84" x2="88.63" y2="481.17" stroke="#1b5a98" stroke-width="0.85"/>
<line x1="87.63" y1="480.84" x2="89.63" y2="480.84" stroke="#1b5a98" stroke-width="0.85"/>
<line x1="87.63" y1="481.17" x2="89.63" y2="481.17" stroke="#1b5a98" stroke-width="0.85"/>
<circle cx="88.63" cy="481.01" r="1.45" fill="#1b5a98"/>
<line x1="97.14" y1="480.67" x2="97.14" y2="481.01" stroke="#1b5a98" stroke-width="0.85"/>
<line x1="96.14" y1="480.67" x2="98.14" y2="480.67" stroke="#1b5a98" stroke-width="0.85"/>
<line x1="96.14" y1="481.01" x2="98.14" y2="481.01" stroke="#1b5a98" stroke-width="0.85"/>
<circle cx="97.14" cy="480.84" r="1.45" fill="#1b5a98"/>
<line x1="105.65" y1="480.67" x2="105.65" y2="481.01" stroke="#1b5a98" stroke-width="0.85"/>
<line x1="104.65" y1="480.67" x2="106.65" y2="480.67" stroke="#1b5a98" stroke-width="0.85"/>
<line x1="104.65" y1="481.01" x2="106.65" y2="481.01" stroke="#1b5a98" stroke-width="0.85"/>
<circle cx="105.65" cy="480.84" r="1.45" fill="#1b5a98"/>
<line x1="114.17" y1="480.67" x2="114.17" y2="481.01" stroke="#1b5a98" stroke-width="0.85"/>
<line x1="113.17" y1="480.67" x2="115.17" y2="480.67" stroke="#1b5a98" stroke-width="0.85"/>
<line x1="113.17" y1="481.01" x2="115.17" y2="481.01" stroke="#1b5a98" stroke-width="0.85"/>
<circle cx="114.17" cy="480.84" r="1.45" fill="#1b5a98"/>
<line x1="122.68" y1="480.67" x2="122.68" y2="481.01" stroke="#1b5a98" stroke-width="0.85"/>
<line x1="121.68" y1="480.67" x2="123.68" y2="480.67" stroke="#1b5a98" stroke-width="0.85"/>
<line x1="121.68" y1="481.01" x2="123.68" y2="481.01" stroke="#1b5a98" stroke-width="0.85"/>
<circle cx="122.68" cy="480.84" r="1.45" fill="#1b5a98"/>
<line x1="49.60" y1="481.84" x2="49.60" y2="482.33" stroke="#c8102e" stroke-width="0.85"/>
<line x1="48.60" y1="481.84" x2="50.60" y2="481.84" stroke="#c8102e" stroke-width="0.85"/>
<line x1="48.60" y1="482.33" x2="50.60" y2="482.33" stroke="#c8102e" stroke-width="0.85"/>
<circle cx="49.60" cy="482.08" r="1.45" fill="#c8102e"/>
<line x1="71.60" y1="481.59" x2="71.60" y2="482.08" stroke="#c8102e" stroke-width="0.85"/>
<line x1="70.60" y1="481.59" x2="72.60" y2="481.59" stroke="#c8102e" stroke-width="0.85"/>
<line x1="70.60" y1="482.08" x2="72.60" y2="482.08" stroke="#c8102e" stroke-width="0.85"/>
<circle cx="71.60" cy="481.84" r="1.45" fill="#c8102e"/>
<line x1="80.11" y1="481.25" x2="80.11" y2="481.75" stroke="#c8102e" stroke-width="0.85"/>
<line x1="79.11" y1="481.25" x2="81.11" y2="481.25" stroke="#c8102e" stroke-width="0.85"/>
<line x1="79.11" y1="481.75" x2="81.11" y2="481.75" stroke="#c8102e" stroke-width="0.85"/>
<circle cx="80.11" cy="481.50" r="1.45" fill="#c8102e"/>
<line x1="88.63" y1="481.01" x2="88.63" y2="481.50" stroke="#c8102e" stroke-width="0.85"/>
<line x1="87.63" y1="481.01" x2="89.63" y2="481.01" stroke="#c8102e" stroke-width="0.85"/>
<line x1="87.63" y1="481.50" x2="89.63" y2="481.50" stroke="#c8102e" stroke-width="0.85"/>
<circle cx="88.63" cy="481.25" r="1.45" fill="#c8102e"/>
<line x1="97.14" y1="480.43" x2="97.14" y2="481.25" stroke="#c8102e" stroke-width="0.85"/>
<line x1="96.14" y1="480.43" x2="98.14" y2="480.43" stroke="#c8102e" stroke-width="0.85"/>
<line x1="96.14" y1="481.25" x2="98.14" y2="481.25" stroke="#c8102e" stroke-width="0.85"/>
<circle cx="97.14" cy="480.84" r="1.45" fill="#c8102e"/>
<line x1="105.65" y1="473.37" x2="105.65" y2="475.03" stroke="#c8102e" stroke-width="0.85"/>
<line x1="104.65" y1="473.37" x2="106.65" y2="473.37" stroke="#c8102e" stroke-width="0.85"/>
<line x1="104.65" y1="475.03" x2="106.65" y2="475.03" stroke="#c8102e" stroke-width="0.85"/>
<circle cx="105.65" cy="474.20" r="1.45" fill="#c8102e"/>
<line x1="114.17" y1="467.98" x2="114.17" y2="472.95" stroke="#c8102e" stroke-width="0.85"/>
<line x1="113.17" y1="467.98" x2="115.17" y2="467.98" stroke="#c8102e" stroke-width="0.85"/>
<line x1="113.17" y1="472.95" x2="115.17" y2="472.95" stroke="#c8102e" stroke-width="0.85"/>
<circle cx="114.17" cy="470.47" r="1.45" fill="#c8102e"/>
<line x1="122.68" y1="467.98" x2="122.68" y2="472.95" stroke="#c8102e" stroke-width="0.85"/>
<line x1="121.68" y1="467.98" x2="123.68" y2="467.98" stroke="#c8102e" stroke-width="0.85"/>
<line x1="121.68" y1="472.95" x2="123.68" y2="472.95" stroke="#c8102e" stroke-width="0.85"/>
<circle cx="122.68" cy="470.47" r="1.45" fill="#c8102e"/>
<line x1="49.50" y1="421.50" x2="56.70" y2="421.50" stroke="#c8102e" stroke-width="1.3"/>
<circle cx="53.10" cy="421.50" r="1.25" fill="#c8102e"/>
<text x="58.90" y="423.10" font-size="7.8" text-anchor="start" fill="#303030" stroke="#303030" stroke-width="0.1" textLength="27.40" lengthAdjust="spacingAndGlyphs">WT1-TCB</text>
<line x1="49.50" y1="429.60" x2="56.70" y2="429.60" stroke="#1b5a98" stroke-width="1.3"/>
<circle cx="53.10" cy="429.60" r="1.25" fill="#1b5a98"/>
<text x="58.90" y="431.50" font-size="7.8" text-anchor="start" fill="#303030" stroke="#303030" stroke-width="0.1" textLength="24.50" lengthAdjust="spacingAndGlyphs">Ctrl-TCB</text>
<line x1="169.80" y1="415.80" x2="169.80" y2="483.10" stroke="#000" stroke-width="1.2"/>
<line x1="167.30" y1="482.50" x2="259.00" y2="482.50" stroke="#000" stroke-width="1.3"/>
<line x1="166.80" y1="482.50" x2="169.80" y2="482.50" stroke="#000" stroke-width="1.0"/>
<text x="165.20" y="484.70" font-size="7.9" text-anchor="end" fill="#303030" stroke="#303030" stroke-width="0.1" textLength="3.38" lengthAdjust="spacingAndGlyphs">0</text>
<line x1="166.80" y1="465.90" x2="169.80" y2="465.90" stroke="#000" stroke-width="1.0"/>
<text x="165.20" y="468.10" font-size="7.9" text-anchor="end" fill="#303030" stroke="#303030" stroke-width="0.1" textLength="6.76" lengthAdjust="spacingAndGlyphs">20</text>
<line x1="166.80" y1="449.30" x2="169.80" y2="449.30" stroke="#000" stroke-width="1.0"/>
<text x="165.20" y="451.50" font-size="7.9" text-anchor="end" fill="#303030" stroke="#303030" stroke-width="0.1" textLength="6.76" lengthAdjust="spacingAndGlyphs">40</text>
<line x1="166.80" y1="432.70" x2="169.80" y2="432.70" stroke="#000" stroke-width="1.0"/>
<text x="165.20" y="434.90" font-size="7.9" text-anchor="end" fill="#303030" stroke="#303030" stroke-width="0.1" textLength="6.76" lengthAdjust="spacingAndGlyphs">60</text>
<line x1="166.80" y1="416.10" x2="169.80" y2="416.10" stroke="#000" stroke-width="1.0"/>
<text x="165.20" y="418.30" font-size="7.9" text-anchor="end" fill="#303030" stroke="#303030" stroke-width="0.1" textLength="6.76" lengthAdjust="spacingAndGlyphs">80</text>
<line x1="173.80" y1="482.50" x2="173.80" y2="485.70" stroke="#000" stroke-width="0.9"/>
<text x="176.50" y="489.30" font-size="7.8" text-anchor="end" fill="#303030" stroke="#303030" stroke-width="0.1" textLength="22.91" lengthAdjust="spacingAndGlyphs" transform="rotate(-45 176.50 489.30)">0.00001</text>
<line x1="177.47" y1="482.50" x2="177.47" y2="484.40" stroke="#000" stroke-width="0.7"/>
<line x1="179.62" y1="482.50" x2="179.62" y2="484.40" stroke="#000" stroke-width="0.7"/>
<line x1="181.15" y1="482.50" x2="181.15" y2="484.40" stroke="#000" stroke-width="0.7"/>
<line x1="182.33" y1="482.50" x2="182.33" y2="484.40" stroke="#000" stroke-width="0.7"/>
<line x1="183.29" y1="482.50" x2="183.29" y2="484.40" stroke="#000" stroke-width="0.7"/>
<line x1="184.11" y1="482.50" x2="184.11" y2="484.40" stroke="#000" stroke-width="0.7"/>
<line x1="184.82" y1="482.50" x2="184.82" y2="484.40" stroke="#000" stroke-width="0.7"/>
<line x1="185.44" y1="482.50" x2="185.44" y2="484.40" stroke="#000" stroke-width="0.7"/>
<line x1="186.00" y1="482.50" x2="186.00" y2="485.70" stroke="#000" stroke-width="0.9"/>
<text x="188.70" y="489.30" font-size="7.8" text-anchor="end" fill="#303030" stroke="#303030" stroke-width="0.1" textLength="19.40" lengthAdjust="spacingAndGlyphs" transform="rotate(-45 188.70 489.30)">0.0001</text>
<line x1="189.67" y1="482.50" x2="189.67" y2="484.40" stroke="#000" stroke-width="0.7"/>
<line x1="191.82" y1="482.50" x2="191.82" y2="484.40" stroke="#000" stroke-width="0.7"/>
<line x1="193.35" y1="482.50" x2="193.35" y2="484.40" stroke="#000" stroke-width="0.7"/>
<line x1="194.53" y1="482.50" x2="194.53" y2="484.40" stroke="#000" stroke-width="0.7"/>
<line x1="195.49" y1="482.50" x2="195.49" y2="484.40" stroke="#000" stroke-width="0.7"/>
<line x1="196.31" y1="482.50" x2="196.31" y2="484.40" stroke="#000" stroke-width="0.7"/>
<line x1="197.02" y1="482.50" x2="197.02" y2="484.40" stroke="#000" stroke-width="0.7"/>
<line x1="197.64" y1="482.50" x2="197.64" y2="484.40" stroke="#000" stroke-width="0.7"/>
<line x1="198.20" y1="482.50" x2="198.20" y2="485.70" stroke="#000" stroke-width="0.9"/>
<text x="200.90" y="489.30" font-size="7.8" text-anchor="end" fill="#303030" stroke="#303030" stroke-width="0.1" textLength="15.88" lengthAdjust="spacingAndGlyphs" transform="rotate(-45 200.90 489.30)">0.001</text>
<line x1="201.87" y1="482.50" x2="201.87" y2="484.40" stroke="#000" stroke-width="0.7"/>
<line x1="204.02" y1="482.50" x2="204.02" y2="484.40" stroke="#000" stroke-width="0.7"/>
<line x1="205.55" y1="482.50" x2="205.55" y2="484.40" stroke="#000" stroke-width="0.7"/>
<line x1="206.73" y1="482.50" x2="206.73" y2="484.40" stroke="#000" stroke-width="0.7"/>
<line x1="207.69" y1="482.50" x2="207.69" y2="484.40" stroke="#000" stroke-width="0.7"/>
<line x1="208.51" y1="482.50" x2="208.51" y2="484.40" stroke="#000" stroke-width="0.7"/>
<line x1="209.22" y1="482.50" x2="209.22" y2="484.40" stroke="#000" stroke-width="0.7"/>
<line x1="209.84" y1="482.50" x2="209.84" y2="484.40" stroke="#000" stroke-width="0.7"/>
<line x1="210.40" y1="482.50" x2="210.40" y2="485.70" stroke="#000" stroke-width="0.9"/>
<text x="213.10" y="489.30" font-size="7.8" text-anchor="end" fill="#303030" stroke="#303030" stroke-width="0.1" textLength="12.37" lengthAdjust="spacingAndGlyphs" transform="rotate(-45 213.10 489.30)">0.01</text>
<line x1="214.07" y1="482.50" x2="214.07" y2="484.40" stroke="#000" stroke-width="0.7"/>
<line x1="216.22" y1="482.50" x2="216.22" y2="484.40" stroke="#000" stroke-width="0.7"/>
<line x1="217.75" y1="482.50" x2="217.75" y2="484.40" stroke="#000" stroke-width="0.7"/>
<line x1="218.93" y1="482.50" x2="218.93" y2="484.40" stroke="#000" stroke-width="0.7"/>
<line x1="219.89" y1="482.50" x2="219.89" y2="484.40" stroke="#000" stroke-width="0.7"/>
<line x1="220.71" y1="482.50" x2="220.71" y2="484.40" stroke="#000" stroke-width="0.7"/>
<line x1="221.42" y1="482.50" x2="221.42" y2="484.40" stroke="#000" stroke-width="0.7"/>
<line x1="222.04" y1="482.50" x2="222.04" y2="484.40" stroke="#000" stroke-width="0.7"/>
<line x1="222.60" y1="482.50" x2="222.60" y2="485.70" stroke="#000" stroke-width="0.9"/>
<text x="225.30" y="489.30" font-size="7.8" text-anchor="end" fill="#303030" stroke="#303030" stroke-width="0.1" textLength="8.85" lengthAdjust="spacingAndGlyphs" transform="rotate(-45 225.30 489.30)">0.1</text>
<line x1="226.27" y1="482.50" x2="226.27" y2="484.40" stroke="#000" stroke-width="0.7"/>
<line x1="228.42" y1="482.50" x2="228.42" y2="484.40" stroke="#000" stroke-width="0.7"/>
<line x1="229.95" y1="482.50" x2="229.95" y2="484.40" stroke="#000" stroke-width="0.7"/>
<line x1="231.13" y1="482.50" x2="231.13" y2="484.40" stroke="#000" stroke-width="0.7"/>
<line x1="232.09" y1="482.50" x2="232.09" y2="484.40" stroke="#000" stroke-width="0.7"/>
<line x1="232.91" y1="482.50" x2="232.91" y2="484.40" stroke="#000" stroke-width="0.7"/>
<line x1="233.62" y1="482.50" x2="233.62" y2="484.40" stroke="#000" stroke-width="0.7"/>
<line x1="234.24" y1="482.50" x2="234.24" y2="484.40" stroke="#000" stroke-width="0.7"/>
<line x1="234.80" y1="482.50" x2="234.80" y2="485.70" stroke="#000" stroke-width="0.9"/>
<text x="237.50" y="489.30" font-size="7.8" text-anchor="end" fill="#303030" stroke="#303030" stroke-width="0.1" textLength="3.52" lengthAdjust="spacingAndGlyphs" transform="rotate(-45 237.50 489.30)">1</text>
<line x1="238.47" y1="482.50" x2="238.47" y2="484.40" stroke="#000" stroke-width="0.7"/>
<line x1="240.62" y1="482.50" x2="240.62" y2="484.40" stroke="#000" stroke-width="0.7"/>
<line x1="242.15" y1="482.50" x2="242.15" y2="484.40" stroke="#000" stroke-width="0.7"/>
<line x1="243.33" y1="482.50" x2="243.33" y2="484.40" stroke="#000" stroke-width="0.7"/>
<line x1="244.29" y1="482.50" x2="244.29" y2="484.40" stroke="#000" stroke-width="0.7"/>
<line x1="245.11" y1="482.50" x2="245.11" y2="484.40" stroke="#000" stroke-width="0.7"/>
<line x1="245.82" y1="482.50" x2="245.82" y2="484.40" stroke="#000" stroke-width="0.7"/>
<line x1="246.44" y1="482.50" x2="246.44" y2="484.40" stroke="#000" stroke-width="0.7"/>
<line x1="247.00" y1="482.50" x2="247.00" y2="485.70" stroke="#000" stroke-width="0.9"/>
<text x="249.70" y="489.30" font-size="7.8" text-anchor="end" fill="#303030" stroke="#303030" stroke-width="0.1" textLength="7.03" lengthAdjust="spacingAndGlyphs" transform="rotate(-45 249.70 489.30)">10</text>
<line x1="250.67" y1="482.50" x2="250.67" y2="484.40" stroke="#000" stroke-width="0.7"/>
<line x1="252.82" y1="482.50" x2="252.82" y2="484.40" stroke="#000" stroke-width="0.7"/>
<line x1="254.35" y1="482.50" x2="254.35" y2="484.40" stroke="#000" stroke-width="0.7"/>
<line x1="255.53" y1="482.50" x2="255.53" y2="484.40" stroke="#000" stroke-width="0.7"/>
<line x1="256.49" y1="482.50" x2="256.49" y2="484.40" stroke="#000" stroke-width="0.7"/>
<line x1="257.31" y1="482.50" x2="257.31" y2="484.40" stroke="#000" stroke-width="0.7"/>
<line x1="258.02" y1="482.50" x2="258.02" y2="484.40" stroke="#000" stroke-width="0.7"/>
<line x1="258.64" y1="482.50" x2="258.64" y2="484.40" stroke="#000" stroke-width="0.7"/>
<text x="151.10" y="449.00" font-size="8.8" text-anchor="middle" fill="#303030" stroke="#303030" stroke-width="0.1" textLength="40.50" lengthAdjust="spacingAndGlyphs" transform="rotate(-90 151.10 449.00)">% proliferated</text>
<text x="174.50" y="512.90" font-size="9.3" text-anchor="start" fill="#303030" stroke="#303030" stroke-width="0.1" textLength="79.60" lengthAdjust="spacingAndGlyphs">TCB concentration/(µg/mL)</text>
<text x="214.00" y="403.10" font-size="7.0" text-anchor="middle" fill="#111" font-weight="bold" stroke="#111" stroke-width="0.4" textLength="30.40" lengthAdjust="spacingAndGlyphs">OCI-AML3</text>
<text x="214.00" y="410.60" font-size="7.0" text-anchor="middle" fill="#111" font-weight="bold" stroke="#111" stroke-width="0.4" textLength="36.50" lengthAdjust="spacingAndGlyphs">CD8<tspan font-size="4.6" dy="-2.2">+</tspan><tspan dy="2.2"> T cells</tspan></text>
<polyline points="173.80,482.50 174.47,482.50 175.14,482.50 175.81,482.50 176.48,482.50 177.15,482.50 177.82,482.50 178.49,482.50 179.16,482.50 179.83,482.50 180.50,482.50 181.17,482.50 181.84,482.50 182.51,482.50 183.18,482.50 183.85,482.50 184.52,482.50 185.19,482.50 185.86,482.50 186.53,482.50 187.20,482.50 187.87,482.50 188.54,482.50 189.21,482.50 189.88,482.50 190.55,482.50 191.22,482.50 191.89,482.50 192.56,482.50 193.23,482.50 193.90,482.50 194.57,482.50 195.24,482.50 195.91,482.50 196.58,482.50 197.25,482.50 197.92,482.50 198.59,482.50 199.26,482.50 199.93,482.50 200.60,482.50 201.27,482.50 201.94,482.50 202.61,482.50 203.28,482.50 203.95,482.50 204.62,482.50 205.29,482.50 205.96,482.50 206.63,482.50 207.30,482.50 207.97,482.50 208.64,482.50 209.31,482.50 209.98,482.50 210.65,482.50 211.32,482.50 211.99,482.50 212.66,482.50 213.33,482.50 214.00,482.50 214.67,482.50 215.34,482.50 216.01,482.50 216.68,482.50 217.35,482.50 218.02,482.50 218.69,482.50 219.36,482.50 220.03,482.50 220.70,482.50 221.37,482.50 222.04,482.50 222.71,482.50 223.38,482.50 224.05,482.50 224.72,482.50 225.39,482.50 226.06,482.50 226.73,482.50 227.40,482.50 228.07,482.50 228.74,482.50 229.41,482.50 230.08,482.50 230.75,482.50 231.42,482.50 232.09,482.50 232.76,482.50 233.43,482.50 234.10,482.50 234.77,482.50 235.44,482.50 236.11,482.50 236.78,482.50 237.45,482.50 238.12,482.50 238.79,482.50 239.46,482.50 240.13,482.50 240.80,482.50 241.47,482.50 242.14,482.50 242.81,482.50 243.48,482.50 244.15,482.50 244.82,482.50 245.49,482.50 246.16,482.50 246.83,482.50 247.50,482.50 248.17,482.50 248.84,482.50 249.51,482.50 250.18,482.50 250.85,482.50 251.52,482.50 252.19,482.50 252.86,482.50 253.53,482.50 254.20,482.50" fill="none" stroke="#1b5a98" stroke-width="1.35" stroke-linejoin="round" stroke-linecap="round"/>
<polyline points="173.80,482.17 174.47,482.17 175.14,482.17 175.81,482.17 176.48,482.17 177.15,482.17 177.82,482.17 178.49,482.17 179.16,482.17 179.83,482.17 180.50,482.17 181.17,482.17 181.84,482.17 182.51,482.17 183.18,482.17 183.85,482.17 184.52,482.17 185.19,482.17 185.86,482.17 186.53,482.17 187.20,482.17 187.87,482.17 188.54,482.17 189.21,482.17 189.88,482.17 190.55,482.17 191.22,482.17 191.89,482.17 192.56,482.17 193.23,482.17 193.90,482.17 194.57,482.17 195.24,482.17 195.91,482.17 196.58,482.17 197.25,482.17 197.92,482.17 198.59,482.17 199.26,482.17 199.93,482.17 200.60,482.17 201.27,482.17 201.94,482.17 202.61,482.17 203.28,482.17 203.95,482.17 204.62,482.17 205.29,482.17 205.96,482.17 206.63,482.17 207.30,482.17 207.97,482.17 208.64,482.17 209.31,482.17 209.98,482.17 210.65,482.17 211.32,482.17 211.99,482.17 212.66,482.17 213.33,482.17 214.00,482.17 214.67,482.17 215.34,482.17 216.01,482.17 216.68,482.17 217.35,482.17 218.02,482.17 218.69,482.17 219.36,482.16 220.03,482.16 220.70,482.16 221.37,482.16 222.04,482.15 222.71,482.15 223.38,482.14 224.05,482.12 224.72,482.10 225.39,482.07 226.06,482.03 226.73,481.96 227.40,481.87 228.07,481.75 228.74,481.56 229.41,481.30 230.08,480.93 230.75,480.41 231.42,479.70 232.09,478.73 232.76,477.46 233.43,475.82 234.10,473.82 234.77,471.49 235.44,468.94 236.11,466.32 236.78,463.80 237.45,461.53 238.12,459.61 238.79,458.05 239.46,456.83 240.13,455.92 240.80,455.25 241.47,454.77 242.14,454.42 242.81,454.18 243.48,454.01 244.15,453.89 244.82,453.81 245.49,453.75 246.16,453.71 246.83,453.68 247.50,453.66 248.17,453.65 248.84,453.64 249.51,453.63 250.18,453.63 250.85,453.62 251.52,453.62 252.19,453.62 252.86,453.62 253.53,453.62 254.20,453.62" fill="none" stroke="#c8102e" stroke-width="1.35" stroke-linejoin="round" stroke-linecap="round"/>
<circle cx="173.80" cy="482.50" r="1.45" fill="#1b5a98"/>
<circle cx="198.50" cy="482.50" r="1.45" fill="#1b5a98"/>
<circle cx="207.10" cy="482.50" r="1.45" fill="#1b5a98"/>
<circle cx="216.70" cy="482.50" r="1.45" fill="#1b5a98"/>
<circle cx="226.30" cy="482.50" r="1.45" fill="#1b5a98"/>
<circle cx="236.00" cy="482.50" r="1.45" fill="#1b5a98"/>
<circle cx="244.60" cy="482.50" r="1.45" fill="#1b5a98"/>
<circle cx="254.20" cy="482.50" r="1.45" fill="#1b5a98"/>
<line x1="173.80" y1="481.84" x2="173.80" y2="482.33" stroke="#c8102e" stroke-width="0.85"/>
<line x1="172.80" y1="481.84" x2="174.80" y2="481.84" stroke="#c8102e" stroke-width="0.85"/>
<line x1="172.80" y1="482.33" x2="174.80" y2="482.33" stroke="#c8102e" stroke-width="0.85"/>
<circle cx="173.80" cy="482.08" r="1.45" fill="#c8102e"/>
<line x1="198.50" y1="481.84" x2="198.50" y2="482.33" stroke="#c8102e" stroke-width="0.85"/>
<line x1="197.50" y1="481.84" x2="199.50" y2="481.84" stroke="#c8102e" stroke-width="0.85"/>
<line x1="197.50" y1="482.33" x2="199.50" y2="482.33" stroke="#c8102e" stroke-width="0.85"/>
<circle cx="198.50" cy="482.08" r="1.45" fill="#c8102e"/>
<line x1="207.10" y1="481.84" x2="207.10" y2="482.33" stroke="#c8102e" stroke-width="0.85"/>
<line x1="206.10" y1="481.84" x2="208.10" y2="481.84" stroke="#c8102e" stroke-width="0.85"/>
<line x1="206.10" y1="482.33" x2="208.10" y2="482.33" stroke="#c8102e" stroke-width="0.85"/>
<circle cx="207.10" cy="482.08" r="1.45" fill="#c8102e"/>
<line x1="216.70" y1="481.84" x2="216.70" y2="482.33" stroke="#c8102e" stroke-width="0.85"/>
<line x1="215.70" y1="481.84" x2="217.70" y2="481.84" stroke="#c8102e" stroke-width="0.85"/>
<line x1="215.70" y1="482.33" x2="217.70" y2="482.33" stroke="#c8102e" stroke-width="0.85"/>
<circle cx="216.70" cy="482.08" r="1.45" fill="#c8102e"/>
<line x1="226.30" y1="481.42" x2="226.30" y2="481.92" stroke="#c8102e" stroke-width="0.85"/>
<line x1="225.30" y1="481.42" x2="227.30" y2="481.42" stroke="#c8102e" stroke-width="0.85"/>
<line x1="225.30" y1="481.92" x2="227.30" y2="481.92" stroke="#c8102e" stroke-width="0.85"/>
<circle cx="226.30" cy="481.67" r="1.45" fill="#c8102e"/>
<line x1="236.00" y1="465.90" x2="236.00" y2="469.22" stroke="#c8102e" stroke-width="0.85"/>
<line x1="235.00" y1="465.90" x2="237.00" y2="465.90" stroke="#c8102e" stroke-width="0.85"/>
<line x1="235.00" y1="469.22" x2="237.00" y2="469.22" stroke="#c8102e" stroke-width="0.85"/>
<circle cx="236.00" cy="467.56" r="1.45" fill="#c8102e"/>
<line x1="244.60" y1="450.96" x2="244.60" y2="457.60" stroke="#c8102e" stroke-width="0.85"/>
<line x1="243.60" y1="450.96" x2="245.60" y2="450.96" stroke="#c8102e" stroke-width="0.85"/>
<line x1="243.60" y1="457.60" x2="245.60" y2="457.60" stroke="#c8102e" stroke-width="0.85"/>
<circle cx="244.60" cy="454.28" r="1.45" fill="#c8102e"/>
<line x1="254.20" y1="450.13" x2="254.20" y2="456.77" stroke="#c8102e" stroke-width="0.85"/>
<line x1="253.20" y1="450.13" x2="255.20" y2="450.13" stroke="#c8102e" stroke-width="0.85"/>
<line x1="253.20" y1="456.77" x2="255.20" y2="456.77" stroke="#c8102e" stroke-width="0.85"/>
<circle cx="254.20" cy="453.45" r="1.45" fill="#c8102e"/>
<line x1="294.60" y1="415.80" x2="294.60" y2="483.10" stroke="#000" stroke-width="1.2"/>
<line x1="292.10" y1="482.50" x2="381.20" y2="482.50" stroke="#000" stroke-width="1.3"/>
<line x1="291.60" y1="482.50" x2="294.60" y2="482.50" stroke="#000" stroke-width="1.0"/>
<text x="290.00" y="484.70" font-size="7.9" text-anchor="end" fill="#303030" stroke="#303030" stroke-width="0.1" textLength="3.38" lengthAdjust="spacingAndGlyphs">0</text>
<line x1="291.60" y1="465.90" x2="294.60" y2="465.90" stroke="#000" stroke-width="1.0"/>
<text x="290.00" y="468.10" font-size="7.9" text-anchor="end" fill="#303030" stroke="#303030" stroke-width="0.1" textLength="6.76" lengthAdjust="spacingAndGlyphs">20</text>
<line x1="291.60" y1="449.30" x2="294.60" y2="449.30" stroke="#000" stroke-width="1.0"/>
<text x="290.00" y="451.50" font-size="7.9" text-anchor="end" fill="#303030" stroke="#303030" stroke-width="0.1" textLength="6.76" lengthAdjust="spacingAndGlyphs">40</text>
<line x1="291.60" y1="432.70" x2="294.60" y2="432.70" stroke="#000" stroke-width="1.0"/>
<text x="290.00" y="434.90" font-size="7.9" text-anchor="end" fill="#303030" stroke="#303030" stroke-width="0.1" textLength="6.76" lengthAdjust="spacingAndGlyphs">60</text>
<line x1="291.60" y1="416.10" x2="294.60" y2="416.10" stroke="#000" stroke-width="1.0"/>
<text x="290.00" y="418.30" font-size="7.9" text-anchor="end" fill="#303030" stroke="#303030" stroke-width="0.1" textLength="6.76" lengthAdjust="spacingAndGlyphs">80</text>
<line x1="298.20" y1="482.50" x2="298.20" y2="485.70" stroke="#000" stroke-width="0.9"/>
<text x="300.90" y="489.30" font-size="7.8" text-anchor="end" fill="#303030" stroke="#303030" stroke-width="0.1" textLength="22.91" lengthAdjust="spacingAndGlyphs" transform="rotate(-45 300.90 489.30)">0.00001</text>
<line x1="301.92" y1="482.50" x2="301.92" y2="484.40" stroke="#000" stroke-width="0.7"/>
<line x1="304.09" y1="482.50" x2="304.09" y2="484.40" stroke="#000" stroke-width="0.7"/>
<line x1="305.64" y1="482.50" x2="305.64" y2="484.40" stroke="#000" stroke-width="0.7"/>
<line x1="306.83" y1="482.50" x2="306.83" y2="484.40" stroke="#000" stroke-width="0.7"/>
<line x1="307.81" y1="482.50" x2="307.81" y2="484.40" stroke="#000" stroke-width="0.7"/>
<line x1="308.64" y1="482.50" x2="308.64" y2="484.40" stroke="#000" stroke-width="0.7"/>
<line x1="309.35" y1="482.50" x2="309.35" y2="484.40" stroke="#000" stroke-width="0.7"/>
<line x1="309.98" y1="482.50" x2="309.98" y2="484.40" stroke="#000" stroke-width="0.7"/>
<line x1="310.55" y1="482.50" x2="310.55" y2="485.70" stroke="#000" stroke-width="0.9"/>
<text x="313.25" y="489.30" font-size="7.8" text-anchor="end" fill="#303030" stroke="#303030" stroke-width="0.1" textLength="19.40" lengthAdjust="spacingAndGlyphs" transform="rotate(-45 313.25 489.30)">0.0001</text>
<line x1="314.27" y1="482.50" x2="314.27" y2="484.40" stroke="#000" stroke-width="0.7"/>
<line x1="316.44" y1="482.50" x2="316.44" y2="484.40" stroke="#000" stroke-width="0.7"/>
<line x1="317.99" y1="482.50" x2="317.99" y2="484.40" stroke="#000" stroke-width="0.7"/>
<line x1="319.18" y1="482.50" x2="319.18" y2="484.40" stroke="#000" stroke-width="0.7"/>
<line x1="320.16" y1="482.50" x2="320.16" y2="484.40" stroke="#000" stroke-width="0.7"/>
<line x1="320.99" y1="482.50" x2="320.99" y2="484.40" stroke="#000" stroke-width="0.7"/>
<line x1="321.70" y1="482.50" x2="321.70" y2="484.40" stroke="#000" stroke-width="0.7"/>
<line x1="322.33" y1="482.50" x2="322.33" y2="484.40" stroke="#000" stroke-width="0.7"/>
<line x1="322.90" y1="482.50" x2="322.90" y2="485.70" stroke="#000" stroke-width="0.9"/>
<text x="325.60" y="489.30" font-size="7.8" text-anchor="end" fill="#303030" stroke="#303030" stroke-width="0.1" textLength="15.88" lengthAdjust="spacingAndGlyphs" transform="rotate(-45 325.60 489.30)">0.001</text>
<line x1="326.62" y1="482.50" x2="326.62" y2="484.40" stroke="#000" stroke-width="0.7"/>
<line x1="328.79" y1="482.50" x2="328.79" y2="484.40" stroke="#000" stroke-width="0.7"/>
<line x1="330.34" y1="482.50" x2="330.34" y2="484.40" stroke="#000" stroke-width="0.7"/>
<line x1="331.53" y1="482.50" x2="331.53" y2="484.40" stroke="#000" stroke-width="0.7"/>
<line x1="332.51" y1="482.50" x2="332.51" y2="484.40" stroke="#000" stroke-width="0.7"/>
<line x1="333.34" y1="482.50" x2="333.34" y2="484.40" stroke="#000" stroke-width="0.7"/>
<line x1="334.05" y1="482.50" x2="334.05" y2="484.40" stroke="#000" stroke-width="0.7"/>
<line x1="334.68" y1="482.50" x2="334.68" y2="484.40" stroke="#000" stroke-width="0.7"/>
<line x1="335.25" y1="482.50" x2="335.25" y2="485.70" stroke="#000" stroke-width="0.9"/>
<text x="337.95" y="489.30" font-size="7.8" text-anchor="end" fill="#303030" stroke="#303030" stroke-width="0.1" textLength="12.37" lengthAdjust="spacingAndGlyphs" transform="rotate(-45 337.95 489.30)">0.01</text>
<line x1="338.97" y1="482.50" x2="338.97" y2="484.40" stroke="#000" stroke-width="0.7"/>
<line x1="341.14" y1="482.50" x2="341.14" y2="484.40" stroke="#000" stroke-width="0.7"/>
<line x1="342.69" y1="482.50" x2="342.69" y2="484.40" stroke="#000" stroke-width="0.7"/>
<line x1="343.88" y1="482.50" x2="343.88" y2="484.40" stroke="#000" stroke-width="0.7"/>
<line x1="344.86" y1="482.50" x2="344.86" y2="484.40" stroke="#000" stroke-width="0.7"/>
<line x1="345.69" y1="482.50" x2="345.69" y2="484.40" stroke="#000" stroke-width="0.7"/>
<line x1="346.40" y1="482.50" x2="346.40" y2="484.40" stroke="#000" stroke-width="0.7"/>
<line x1="347.03" y1="482.50" x2="347.03" y2="484.40" stroke="#000" stroke-width="0.7"/>
<line x1="347.60" y1="482.50" x2="347.60" y2="485.70" stroke="#000" stroke-width="0.9"/>
<text x="350.30" y="489.30" font-size="7.8" text-anchor="end" fill="#303030" stroke="#303030" stroke-width="0.1" textLength="8.85" lengthAdjust="spacingAndGlyphs" transform="rotate(-45 350.30 489.30)">0.1</text>
<line x1="351.32" y1="482.50" x2="351.32" y2="484.40" stroke="#000" stroke-width="0.7"/>
<line x1="353.49" y1="482.50" x2="353.49" y2="484.40" stroke="#000" stroke-width="0.7"/>
<line x1="355.04" y1="482.50" x2="355.04" y2="484.40" stroke="#000" stroke-width="0.7"/>
<line x1="356.23" y1="482.50" x2="356.23" y2="484.40" stroke="#000" stroke-width="0.7"/>
<line x1="357.21" y1="482.50" x2="357.21" y2="484.40" stroke="#000" stroke-width="0.7"/>
<line x1="358.04" y1="482.50" x2="358.04" y2="484.40" stroke="#000" stroke-width="0.7"/>
<line x1="358.75" y1="482.50" x2="358.75" y2="484.40" stroke="#000" stroke-width="0.7"/>
<line x1="359.38" y1="482.50" x2="359.38" y2="484.40" stroke="#000" stroke-width="0.7"/>
<line x1="359.95" y1="482.50" x2="359.95" y2="485.70" stroke="#000" stroke-width="0.9"/>
<text x="362.65" y="489.30" font-size="7.8" text-anchor="end" fill="#303030" stroke="#303030" stroke-width="0.1" textLength="3.52" lengthAdjust="spacingAndGlyphs" transform="rotate(-45 362.65 489.30)">1</text>
<line x1="363.67" y1="482.50" x2="363.67" y2="484.40" stroke="#000" stroke-width="0.7"/>
<line x1="365.84" y1="482.50" x2="365.84" y2="484.40" stroke="#000" stroke-width="0.7"/>
<line x1="367.39" y1="482.50" x2="367.39" y2="484.40" stroke="#000" stroke-width="0.7"/>
<line x1="368.58" y1="482.50" x2="368.58" y2="484.40" stroke="#000" stroke-width="0.7"/>
<line x1="369.56" y1="482.50" x2="369.56" y2="484.40" stroke="#000" stroke-width="0.7"/>
<line x1="370.39" y1="482.50" x2="370.39" y2="484.40" stroke="#000" stroke-width="0.7"/>
<line x1="371.10" y1="482.50" x2="371.10" y2="484.40" stroke="#000" stroke-width="0.7"/>
<line x1="371.73" y1="482.50" x2="371.73" y2="484.40" stroke="#000" stroke-width="0.7"/>
<line x1="372.30" y1="482.50" x2="372.30" y2="485.70" stroke="#000" stroke-width="0.9"/>
<text x="375.00" y="489.30" font-size="7.8" text-anchor="end" fill="#303030" stroke="#303030" stroke-width="0.1" textLength="7.03" lengthAdjust="spacingAndGlyphs" transform="rotate(-45 375.00 489.30)">10</text>
<line x1="376.02" y1="482.50" x2="376.02" y2="484.40" stroke="#000" stroke-width="0.7"/>
<line x1="378.19" y1="482.50" x2="378.19" y2="484.40" stroke="#000" stroke-width="0.7"/>
<line x1="379.74" y1="482.50" x2="379.74" y2="484.40" stroke="#000" stroke-width="0.7"/>
<line x1="380.93" y1="482.50" x2="380.93" y2="484.40" stroke="#000" stroke-width="0.7"/>
<text x="275.90" y="449.00" font-size="8.8" text-anchor="middle" fill="#303030" stroke="#303030" stroke-width="0.1" textLength="40.50" lengthAdjust="spacingAndGlyphs" transform="rotate(-90 275.90 449.00)">% proliferated</text>
<text x="299.90" y="512.90" font-size="9.3" text-anchor="start" fill="#303030" stroke="#303030" stroke-width="0.1" textLength="78.80" lengthAdjust="spacingAndGlyphs">TCB concentration/(µg/mL)</text>
<text x="339.60" y="403.10" font-size="7.0" text-anchor="middle" fill="#111" font-weight="bold" stroke="#111" stroke-width="0.4" textLength="17.30" lengthAdjust="spacingAndGlyphs">SKM1</text>
<text x="339.60" y="410.60" font-size="7.0" text-anchor="middle" fill="#111" font-weight="bold" stroke="#111" stroke-width="0.4" textLength="36.50" lengthAdjust="spacingAndGlyphs">CD4<tspan font-size="4.6" dy="-2.2">+</tspan><tspan dy="2.2"> T cells</tspan></text>
<polyline points="298.80,481.67 299.47,481.67 300.14,481.67 300.82,481.67 301.49,481.67 302.16,481.67 302.84,481.67 303.51,481.67 304.18,481.67 304.85,481.67 305.53,481.67 306.20,481.67 306.87,481.67 307.54,481.67 308.22,481.67 308.89,481.67 309.56,481.67 310.23,481.67 310.91,481.67 311.58,481.67 312.25,481.67 312.92,481.67 313.60,481.67 314.27,481.67 314.94,481.67 315.61,481.67 316.29,481.67 316.96,481.67 317.63,481.67 318.30,481.67 318.98,481.67 319.65,481.67 320.32,481.67 320.99,481.67 321.67,481.67 322.34,481.67 323.01,481.67 323.68,481.67 324.36,481.67 325.03,481.67 325.70,481.67 326.37,481.67 327.05,481.67 327.72,481.67 328.39,481.67 329.06,481.67 329.74,481.67 330.41,481.67 331.08,481.67 331.75,481.67 332.43,481.67 333.10,481.67 333.77,481.67 334.44,481.67 335.12,481.67 335.79,481.67 336.46,481.67 337.13,481.67 337.81,481.67 338.48,481.67 339.15,481.67 339.82,481.67 340.50,481.67 341.17,481.67 341.84,481.67 342.51,481.67 343.19,481.67 343.86,481.67 344.53,481.66 345.20,481.66 345.88,481.66 346.55,481.66 347.22,481.66 347.89,481.66 348.56,481.66 349.24,481.66 349.91,481.66 350.58,481.66 351.25,481.65 351.93,481.65 352.60,481.65 353.27,481.65 353.94,481.64 354.62,481.64 355.29,481.64 355.96,481.63 356.63,481.63 357.31,481.62 357.98,481.62 358.65,481.61 359.32,481.61 360.00,481.60 360.67,481.59 361.34,481.58 362.01,481.57 362.69,481.56 363.36,481.54 364.03,481.53 364.71,481.51 365.38,481.49 366.05,481.47 366.72,481.45 367.39,481.42 368.07,481.40 368.74,481.36 369.41,481.33 370.09,481.29 370.76,481.25 371.43,481.21 372.10,481.16 372.77,481.10 373.45,481.04 374.12,480.98 374.79,480.91 375.47,480.84 376.14,480.76 376.81,480.67 377.48,480.58 378.16,480.49 378.83,480.39 379.50,480.28" fill="none" stroke="#1b5a98" stroke-width="1.35" stroke-linejoin="round" stroke-linecap="round"/>
<polyline points="298.80,480.84 299.47,480.84 300.14,480.84 300.82,480.84 301.49,480.84 302.16,480.84 302.84,480.84 303.51,480.84 304.18,480.84 304.85,480.84 305.53,480.84 306.20,480.84 306.87,480.84 307.54,480.84 308.22,480.84 308.89,480.84 309.56,480.84 310.23,480.84 310.91,480.84 311.58,480.84 312.25,480.84 312.92,480.84 313.60,480.83 314.27,480.83 314.94,480.83 315.61,480.83 316.29,480.83 316.96,480.83 317.63,480.82 318.30,480.82 318.98,480.82 319.65,480.81 320.32,480.81 320.99,480.80 321.67,480.80 322.34,480.79 323.01,480.78 323.68,480.77 324.36,480.75 325.03,480.74 325.70,480.72 326.37,480.69 327.05,480.66 327.72,480.63 328.39,480.59 329.06,480.55 329.74,480.49 330.41,480.43 331.08,480.35 331.75,480.26 332.43,480.15 333.10,480.03 333.77,479.88 334.44,479.71 335.12,479.50 335.79,479.26 336.46,478.98 337.13,478.66 337.81,478.29 338.48,477.85 339.15,477.36 339.82,476.79 340.50,476.15 341.17,475.43 341.84,474.63 342.51,473.74 343.19,472.77 343.86,471.72 344.53,470.60 345.20,469.43 345.88,468.20 346.55,466.95 347.22,465.68 347.89,464.43 348.56,463.20 349.24,462.01 349.91,460.88 350.58,459.82 351.25,458.83 351.93,457.93 352.60,457.11 353.27,456.37 353.94,455.71 354.62,455.13 355.29,454.62 355.96,454.18 356.63,453.79 357.31,453.46 357.98,453.17 358.65,452.92 359.32,452.71 360.00,452.53 360.67,452.38 361.34,452.25 362.01,452.14 362.69,452.05 363.36,451.97 364.03,451.90 364.71,451.84 365.38,451.80 366.05,451.76 366.72,451.72 367.39,451.69 368.07,451.67 368.74,451.65 369.41,451.63 370.09,451.62 370.76,451.61 371.43,451.60 372.10,451.59 372.77,451.58 373.45,451.57 374.12,451.57 374.79,451.56 375.47,451.56 376.14,451.56 376.81,451.55 377.48,451.55 378.16,451.55 378.83,451.55 379.50,451.55" fill="none" stroke="#c8102e" stroke-width="1.35" stroke-linejoin="round" stroke-linecap="round"/>
<line x1="298.80" y1="481.50" x2="298.80" y2="481.84" stroke="#1b5a98" stroke-width="0.85"/>
<line x1="297.80" y1="481.50" x2="299.80" y2="481.50" stroke="#1b5a98" stroke-width="0.85"/>
<line x1="297.80" y1="481.84" x2="299.80" y2="481.84" stroke="#1b5a98" stroke-width="0.85"/>
<circle cx="298.80" cy="481.67" r="1.45" fill="#1b5a98"/>
<line x1="323.50" y1="481.50" x2="323.50" y2="481.84" stroke="#1b5a98" stroke-width="0.85"/>
<line x1="322.50" y1="481.50" x2="324.50" y2="481.50" stroke="#1b5a98" stroke-width="0.85"/>
<line x1="322.50" y1="481.84" x2="324.50" y2="481.84" stroke="#1b5a98" stroke-width="0.85"/>
<circle cx="323.50" cy="481.67" r="1.45" fill="#1b5a98"/>
<line x1="332.10" y1="481.50" x2="332.10" y2="481.84" stroke="#1b5a98" stroke-width="0.85"/>
<line x1="331.10" y1="481.50" x2="333.10" y2="481.50" stroke="#1b5a98" stroke-width="0.85"/>
<line x1="331.10" y1="481.84" x2="333.10" y2="481.84" stroke="#1b5a98" stroke-width="0.85"/>
<circle cx="332.10" cy="481.67" r="1.45" fill="#1b5a98"/>
<line x1="341.70" y1="481.50" x2="341.70" y2="481.84" stroke="#1b5a98" stroke-width="0.85"/>
<line x1="340.70" y1="481.50" x2="342.70" y2="481.50" stroke="#1b5a98" stroke-width="0.85"/>
<line x1="340.70" y1="481.84" x2="342.70" y2="481.84" stroke="#1b5a98" stroke-width="0.85"/>
<circle cx="341.70" cy="481.67" r="1.45" fill="#1b5a98"/>
<line x1="350.90" y1="481.50" x2="350.90" y2="481.84" stroke="#1b5a98" stroke-width="0.85"/>
<line x1="349.90" y1="481.50" x2="351.90" y2="481.50" stroke="#1b5a98" stroke-width="0.85"/>
<line x1="349.90" y1="481.84" x2="351.90" y2="481.84" stroke="#1b5a98" stroke-width="0.85"/>
<circle cx="350.90" cy="481.67" r="1.45" fill="#1b5a98"/>
<line x1="360.30" y1="481.09" x2="360.30" y2="481.42" stroke="#1b5a98" stroke-width="0.85"/>
<line x1="359.30" y1="481.09" x2="361.30" y2="481.09" stroke="#1b5a98" stroke-width="0.85"/>
<line x1="359.30" y1="481.42" x2="361.30" y2="481.42" stroke="#1b5a98" stroke-width="0.85"/>
<circle cx="360.30" cy="481.25" r="1.45" fill="#1b5a98"/>
<line x1="369.80" y1="480.59" x2="369.80" y2="481.09" stroke="#1b5a98" stroke-width="0.85"/>
<line x1="368.80" y1="480.59" x2="370.80" y2="480.59" stroke="#1b5a98" stroke-width="0.85"/>
<line x1="368.80" y1="481.09" x2="370.80" y2="481.09" stroke="#1b5a98" stroke-width="0.85"/>
<circle cx="369.80" cy="480.84" r="1.45" fill="#1b5a98"/>
<line x1="379.20" y1="478.35" x2="379.20" y2="479.18" stroke="#1b5a98" stroke-width="0.85"/>
<line x1="378.20" y1="478.35" x2="380.20" y2="478.35" stroke="#1b5a98" stroke-width="0.85"/>
<line x1="378.20" y1="479.18" x2="380.20" y2="479.18" stroke="#1b5a98" stroke-width="0.85"/>
<circle cx="379.20" cy="478.76" r="1.45" fill="#1b5a98"/>
<line x1="298.80" y1="480.43" x2="298.80" y2="481.25" stroke="#c8102e" stroke-width="0.85"/>
<line x1="297.80" y1="480.43" x2="299.80" y2="480.43" stroke="#c8102e" stroke-width="0.85"/>
<line x1="297.80" y1="481.25" x2="299.80" y2="481.25" stroke="#c8102e" stroke-width="0.85"/>
<circle cx="298.80" cy="480.84" r="1.45" fill="#c8102e"/>
<line x1="323.50" y1="480.43" x2="323.50" y2="481.25" stroke="#c8102e" stroke-width="0.85"/>
<line x1="322.50" y1="480.43" x2="324.50" y2="480.43" stroke="#c8102e" stroke-width="0.85"/>
<line x1="322.50" y1="481.25" x2="324.50" y2="481.25" stroke="#c8102e" stroke-width="0.85"/>
<circle cx="323.50" cy="480.84" r="1.45" fill="#c8102e"/>
<line x1="332.10" y1="477.52" x2="332.10" y2="479.18" stroke="#c8102e" stroke-width="0.85"/>
<line x1="331.10" y1="477.52" x2="333.10" y2="477.52" stroke="#c8102e" stroke-width="0.85"/>
<line x1="331.10" y1="479.18" x2="333.10" y2="479.18" stroke="#c8102e" stroke-width="0.85"/>
<circle cx="332.10" cy="478.35" r="1.45" fill="#c8102e"/>
<line x1="341.70" y1="468.39" x2="341.70" y2="471.71" stroke="#c8102e" stroke-width="0.85"/>
<line x1="340.70" y1="468.39" x2="342.70" y2="468.39" stroke="#c8102e" stroke-width="0.85"/>
<line x1="340.70" y1="471.71" x2="342.70" y2="471.71" stroke="#c8102e" stroke-width="0.85"/>
<circle cx="341.70" cy="470.05" r="1.45" fill="#c8102e"/>
<line x1="350.90" y1="457.60" x2="350.90" y2="462.58" stroke="#c8102e" stroke-width="0.85"/>
<line x1="349.90" y1="457.60" x2="351.90" y2="457.60" stroke="#c8102e" stroke-width="0.85"/>
<line x1="349.90" y1="462.58" x2="351.90" y2="462.58" stroke="#c8102e" stroke-width="0.85"/>
<circle cx="350.90" cy="460.09" r="1.45" fill="#c8102e"/>
<line x1="360.30" y1="450.96" x2="360.30" y2="455.94" stroke="#c8102e" stroke-width="0.85"/>
<line x1="359.30" y1="450.96" x2="361.30" y2="450.96" stroke="#c8102e" stroke-width="0.85"/>
<line x1="359.30" y1="455.94" x2="361.30" y2="455.94" stroke="#c8102e" stroke-width="0.85"/>
<circle cx="360.30" cy="453.45" r="1.45" fill="#c8102e"/>
<line x1="369.80" y1="449.30" x2="369.80" y2="454.28" stroke="#c8102e" stroke-width="0.85"/>
<line x1="368.80" y1="449.30" x2="370.80" y2="449.30" stroke="#c8102e" stroke-width="0.85"/>
<line x1="368.80" y1="454.28" x2="370.80" y2="454.28" stroke="#c8102e" stroke-width="0.85"/>
<circle cx="369.80" cy="451.79" r="1.45" fill="#c8102e"/>
<line x1="379.20" y1="448.88" x2="379.20" y2="453.87" stroke="#c8102e" stroke-width="0.85"/>
<line x1="378.20" y1="448.88" x2="380.20" y2="448.88" stroke="#c8102e" stroke-width="0.85"/>
<line x1="378.20" y1="453.87" x2="380.20" y2="453.87" stroke="#c8102e" stroke-width="0.85"/>
<circle cx="379.20" cy="451.38" r="1.45" fill="#c8102e"/>
<line x1="418.30" y1="415.80" x2="418.30" y2="483.10" stroke="#000" stroke-width="1.2"/>
<line x1="415.80" y1="482.50" x2="508.70" y2="482.50" stroke="#000" stroke-width="1.3"/>
<line x1="415.30" y1="482.50" x2="418.30" y2="482.50" stroke="#000" stroke-width="1.0"/>
<text x="413.70" y="484.70" font-size="7.9" text-anchor="end" fill="#303030" stroke="#303030" stroke-width="0.1" textLength="3.38" lengthAdjust="spacingAndGlyphs">0</text>
<line x1="415.30" y1="465.90" x2="418.30" y2="465.90" stroke="#000" stroke-width="1.0"/>
<text x="413.70" y="468.10" font-size="7.9" text-anchor="end" fill="#303030" stroke="#303030" stroke-width="0.1" textLength="6.76" lengthAdjust="spacingAndGlyphs">20</text>
<line x1="415.30" y1="449.30" x2="418.30" y2="449.30" stroke="#000" stroke-width="1.0"/>
<text x="413.70" y="451.50" font-size="7.9" text-anchor="end" fill="#303030" stroke="#303030" stroke-width="0.1" textLength="6.76" lengthAdjust="spacingAndGlyphs">40</text>
<line x1="415.30" y1="432.70" x2="418.30" y2="432.70" stroke="#000" stroke-width="1.0"/>
<text x="413.70" y="434.90" font-size="7.9" text-anchor="end" fill="#303030" stroke="#303030" stroke-width="0.1" textLength="6.76" lengthAdjust="spacingAndGlyphs">60</text>
<line x1="415.30" y1="416.10" x2="418.30" y2="416.10" stroke="#000" stroke-width="1.0"/>
<text x="413.70" y="418.30" font-size="7.9" text-anchor="end" fill="#303030" stroke="#303030" stroke-width="0.1" textLength="6.76" lengthAdjust="spacingAndGlyphs">80</text>
<line x1="423.60" y1="482.50" x2="423.60" y2="485.70" stroke="#000" stroke-width="0.9"/>
<text x="426.30" y="489.30" font-size="7.8" text-anchor="end" fill="#303030" stroke="#303030" stroke-width="0.1" textLength="22.91" lengthAdjust="spacingAndGlyphs" transform="rotate(-45 426.30 489.30)">0.00001</text>
<line x1="427.66" y1="482.50" x2="427.66" y2="484.40" stroke="#000" stroke-width="0.7"/>
<line x1="430.03" y1="482.50" x2="430.03" y2="484.40" stroke="#000" stroke-width="0.7"/>
<line x1="431.72" y1="482.50" x2="431.72" y2="484.40" stroke="#000" stroke-width="0.7"/>
<line x1="433.02" y1="482.50" x2="433.02" y2="484.40" stroke="#000" stroke-width="0.7"/>
<line x1="434.09" y1="482.50" x2="434.09" y2="484.40" stroke="#000" stroke-width="0.7"/>
<line x1="434.99" y1="482.50" x2="434.99" y2="484.40" stroke="#000" stroke-width="0.7"/>
<line x1="435.77" y1="482.50" x2="435.77" y2="484.40" stroke="#000" stroke-width="0.7"/>
<line x1="436.46" y1="482.50" x2="436.46" y2="484.40" stroke="#000" stroke-width="0.7"/>
<line x1="437.08" y1="482.50" x2="437.08" y2="485.70" stroke="#000" stroke-width="0.9"/>
<text x="439.78" y="489.30" font-size="7.8" text-anchor="end" fill="#303030" stroke="#303030" stroke-width="0.1" textLength="19.40" lengthAdjust="spacingAndGlyphs" transform="rotate(-45 439.78 489.30)">0.0001</text>
<line x1="441.14" y1="482.50" x2="441.14" y2="484.40" stroke="#000" stroke-width="0.7"/>
<line x1="443.51" y1="482.50" x2="443.51" y2="484.40" stroke="#000" stroke-width="0.7"/>
<line x1="445.20" y1="482.50" x2="445.20" y2="484.40" stroke="#000" stroke-width="0.7"/>
<line x1="446.50" y1="482.50" x2="446.50" y2="484.40" stroke="#000" stroke-width="0.7"/>
<line x1="447.57" y1="482.50" x2="447.57" y2="484.40" stroke="#000" stroke-width="0.7"/>
<line x1="448.47" y1="482.50" x2="448.47" y2="484.40" stroke="#000" stroke-width="0.7"/>
<line x1="449.25" y1="482.50" x2="449.25" y2="484.40" stroke="#000" stroke-width="0.7"/>
<line x1="449.94" y1="482.50" x2="449.94" y2="484.40" stroke="#000" stroke-width="0.7"/>
<line x1="450.56" y1="482.50" x2="450.56" y2="485.70" stroke="#000" stroke-width="0.9"/>
<text x="453.26" y="489.30" font-size="7.8" text-anchor="end" fill="#303030" stroke="#303030" stroke-width="0.1" textLength="15.88" lengthAdjust="spacingAndGlyphs" transform="rotate(-45 453.26 489.30)">0.001</text>
<line x1="454.62" y1="482.50" x2="454.62" y2="484.40" stroke="#000" stroke-width="0.7"/>
<line x1="456.99" y1="482.50" x2="456.99" y2="484.40" stroke="#000" stroke-width="0.7"/>
<line x1="458.68" y1="482.50" x2="458.68" y2="484.40" stroke="#000" stroke-width="0.7"/>
<line x1="459.98" y1="482.50" x2="459.98" y2="484.40" stroke="#000" stroke-width="0.7"/>
<line x1="461.05" y1="482.50" x2="461.05" y2="484.40" stroke="#000" stroke-width="0.7"/>
<line x1="461.95" y1="482.50" x2="461.95" y2="484.40" stroke="#000" stroke-width="0.7"/>
<line x1="462.73" y1="482.50" x2="462.73" y2="484.40" stroke="#000" stroke-width="0.7"/>
<line x1="463.42" y1="482.50" x2="463.42" y2="484.40" stroke="#000" stroke-width="0.7"/>
<line x1="464.04" y1="482.50" x2="464.04" y2="485.70" stroke="#000" stroke-width="0.9"/>
<text x="466.74" y="489.30" font-size="7.8" text-anchor="end" fill="#303030" stroke="#303030" stroke-width="0.1" textLength="12.37" lengthAdjust="spacingAndGlyphs" transform="rotate(-45 466.74 489.30)">0.01</text>
<line x1="468.10" y1="482.50" x2="468.10" y2="484.40" stroke="#000" stroke-width="0.7"/>
<line x1="470.47" y1="482.50" x2="470.47" y2="484.40" stroke="#000" stroke-width="0.7"/>
<line x1="472.16" y1="482.50" x2="472.16" y2="484.40" stroke="#000" stroke-width="0.7"/>
<line x1="473.46" y1="482.50" x2="473.46" y2="484.40" stroke="#000" stroke-width="0.7"/>
<line x1="474.53" y1="482.50" x2="474.53" y2="484.40" stroke="#000" stroke-width="0.7"/>
<line x1="475.43" y1="482.50" x2="475.43" y2="484.40" stroke="#000" stroke-width="0.7"/>
<line x1="476.21" y1="482.50" x2="476.21" y2="484.40" stroke="#000" stroke-width="0.7"/>
<line x1="476.90" y1="482.50" x2="476.90" y2="484.40" stroke="#000" stroke-width="0.7"/>
<line x1="477.52" y1="482.50" x2="477.52" y2="485.70" stroke="#000" stroke-width="0.9"/>
<text x="480.22" y="489.30" font-size="7.8" text-anchor="end" fill="#303030" stroke="#303030" stroke-width="0.1" textLength="8.85" lengthAdjust="spacingAndGlyphs" transform="rotate(-45 480.22 489.30)">0.1</text>
<line x1="481.58" y1="482.50" x2="481.58" y2="484.40" stroke="#000" stroke-width="0.7"/>
<line x1="483.95" y1="482.50" x2="483.95" y2="484.40" stroke="#000" stroke-width="0.7"/>
<line x1="485.64" y1="482.50" x2="485.64" y2="484.40" stroke="#000" stroke-width="0.7"/>
<line x1="486.94" y1="482.50" x2="486.94" y2="484.40" stroke="#000" stroke-width="0.7"/>
<line x1="488.01" y1="482.50" x2="488.01" y2="484.40" stroke="#000" stroke-width="0.7"/>
<line x1="488.91" y1="482.50" x2="488.91" y2="484.40" stroke="#000" stroke-width="0.7"/>
<line x1="489.69" y1="482.50" x2="489.69" y2="484.40" stroke="#000" stroke-width="0.7"/>
<line x1="490.38" y1="482.50" x2="490.38" y2="484.40" stroke="#000" stroke-width="0.7"/>
<line x1="491.00" y1="482.50" x2="491.00" y2="485.70" stroke="#000" stroke-width="0.9"/>
<text x="493.70" y="489.30" font-size="7.8" text-anchor="end" fill="#303030" stroke="#303030" stroke-width="0.1" textLength="3.52" lengthAdjust="spacingAndGlyphs" transform="rotate(-45 493.70 489.30)">1</text>
<line x1="495.06" y1="482.50" x2="495.06" y2="484.40" stroke="#000" stroke-width="0.7"/>
<line x1="497.43" y1="482.50" x2="497.43" y2="484.40" stroke="#000" stroke-width="0.7"/>
<line x1="499.12" y1="482.50" x2="499.12" y2="484.40" stroke="#000" stroke-width="0.7"/>
<line x1="500.42" y1="482.50" x2="500.42" y2="484.40" stroke="#000" stroke-width="0.7"/>
<line x1="501.49" y1="482.50" x2="501.49" y2="484.40" stroke="#000" stroke-width="0.7"/>
<line x1="502.39" y1="482.50" x2="502.39" y2="484.40" stroke="#000" stroke-width="0.7"/>
<line x1="503.17" y1="482.50" x2="503.17" y2="484.40" stroke="#000" stroke-width="0.7"/>
<line x1="503.86" y1="482.50" x2="503.86" y2="484.40" stroke="#000" stroke-width="0.7"/>
<line x1="504.48" y1="482.50" x2="504.48" y2="485.70" stroke="#000" stroke-width="0.9"/>
<text x="507.18" y="489.30" font-size="7.8" text-anchor="end" fill="#303030" stroke="#303030" stroke-width="0.1" textLength="7.03" lengthAdjust="spacingAndGlyphs" transform="rotate(-45 507.18 489.30)">10</text>
<line x1="508.54" y1="482.50" x2="508.54" y2="484.40" stroke="#000" stroke-width="0.7"/>
<text x="399.60" y="449.00" font-size="8.8" text-anchor="middle" fill="#303030" stroke="#303030" stroke-width="0.1" textLength="40.50" lengthAdjust="spacingAndGlyphs" transform="rotate(-90 399.60 449.00)">% proliferated</text>
<text x="424.50" y="512.90" font-size="9.3" text-anchor="start" fill="#303030" stroke="#303030" stroke-width="0.1" textLength="78.80" lengthAdjust="spacingAndGlyphs">TCB concentration/(µg/mL)</text>
<text x="463.50" y="403.10" font-size="7.0" text-anchor="middle" fill="#111" font-weight="bold" stroke="#111" stroke-width="0.4" textLength="17.30" lengthAdjust="spacingAndGlyphs">SKM1</text>
<text x="463.50" y="410.60" font-size="7.0" text-anchor="middle" fill="#111" font-weight="bold" stroke="#111" stroke-width="0.4" textLength="36.00" lengthAdjust="spacingAndGlyphs">CD8<tspan font-size="4.6" dy="-2.2">+</tspan><tspan dy="2.2"> T cells</tspan></text>
<polyline points="423.70,474.20 424.37,474.21 425.05,474.21 425.72,474.22 426.40,474.22 427.07,474.23 427.74,474.24 428.42,474.24 429.09,474.25 429.77,474.26 430.44,474.26 431.11,474.27 431.79,474.27 432.46,474.28 433.14,474.29 433.81,474.29 434.48,474.30 435.16,474.31 435.83,474.31 436.51,474.32 437.18,474.32 437.85,474.33 438.53,474.34 439.20,474.34 439.88,474.35 440.55,474.36 441.22,474.36 441.90,474.37 442.57,474.37 443.25,474.38 443.92,474.39 444.59,474.39 445.27,474.40 445.94,474.41 446.62,474.41 447.29,474.42 447.96,474.42 448.64,474.43 449.31,474.44 449.99,474.44 450.66,474.45 451.33,474.46 452.01,474.46 452.68,474.47 453.36,474.47 454.03,474.48 454.70,474.49 455.38,474.49 456.05,474.50 456.73,474.51 457.40,474.51 458.07,474.52 458.75,474.52 459.42,474.53 460.10,474.54 460.77,474.54 461.44,474.55 462.12,474.55 462.79,474.56 463.47,474.57 464.14,474.57 464.81,474.58 465.49,474.59 466.16,474.59 466.84,474.60 467.51,474.60 468.18,474.61 468.86,474.62 469.53,474.62 470.21,474.63 470.88,474.64 471.55,474.64 472.23,474.65 472.90,474.65 473.58,474.66 474.25,474.67 474.92,474.67 475.60,474.68 476.27,474.69 476.95,474.69 477.62,474.70 478.29,474.70 478.97,474.71 479.64,474.72 480.32,474.72 480.99,474.73 481.66,474.74 482.34,474.74 483.01,474.75 483.69,474.75 484.36,474.76 485.03,474.77 485.71,474.77 486.38,474.78 487.06,474.79 487.73,474.79 488.40,474.80 489.08,474.80 489.75,474.81 490.43,474.82 491.10,474.82 491.77,474.83 492.45,474.83 493.12,474.84 493.80,474.85 494.47,474.85 495.14,474.86 495.82,474.87 496.49,474.87 497.17,474.88 497.84,474.88 498.51,474.89 499.19,474.90 499.86,474.90 500.54,474.91 501.21,474.92 501.88,474.92 502.56,474.93 503.23,474.93 503.91,474.94 504.58,474.95" fill="none" stroke="#1b5a98" stroke-width="1.35" stroke-linejoin="round" stroke-linecap="round"/>
<polyline points="423.70,473.37 424.37,473.37 425.05,473.37 425.72,473.37 426.40,473.37 427.07,473.37 427.74,473.37 428.42,473.37 429.09,473.37 429.77,473.37 430.44,473.37 431.11,473.37 431.79,473.37 432.46,473.37 433.14,473.37 433.81,473.37 434.48,473.37 435.16,473.37 435.83,473.37 436.51,473.36 437.18,473.36 437.85,473.36 438.53,473.36 439.20,473.36 439.88,473.36 440.55,473.35 441.22,473.35 441.90,473.35 442.57,473.34 443.25,473.34 443.92,473.33 444.59,473.32 445.27,473.31 445.94,473.30 446.62,473.29 447.29,473.27 447.96,473.26 448.64,473.23 449.31,473.21 449.99,473.18 450.66,473.14 451.33,473.09 452.01,473.04 452.68,472.98 453.36,472.90 454.03,472.81 454.70,472.70 455.38,472.57 456.05,472.42 456.73,472.24 457.40,472.03 458.07,471.78 458.75,471.48 459.42,471.14 460.10,470.73 460.77,470.26 461.44,469.71 462.12,469.07 462.79,468.34 463.47,467.51 464.14,466.57 464.81,465.51 465.49,464.34 466.16,463.05 466.84,461.65 467.51,460.15 468.18,458.57 468.86,456.92 469.53,455.22 470.21,453.51 470.88,451.81 471.55,450.15 472.23,448.55 472.90,447.03 473.58,445.61 474.25,444.30 474.92,443.10 475.60,442.03 476.27,441.06 476.95,440.21 477.62,439.46 478.29,438.81 478.97,438.24 479.64,437.75 480.32,437.33 480.99,436.97 481.66,436.67 482.34,436.41 483.01,436.19 483.69,436.00 484.36,435.85 485.03,435.72 485.71,435.60 486.38,435.51 487.06,435.43 487.73,435.37 488.40,435.31 489.08,435.26 489.75,435.22 490.43,435.19 491.10,435.16 491.77,435.14 492.45,435.12 493.12,435.11 493.80,435.09 494.47,435.08 495.14,435.07 495.82,435.06 496.49,435.06 497.17,435.05 497.84,435.05 498.51,435.04 499.19,435.04 499.86,435.04 500.54,435.04 501.21,435.03 501.88,435.03 502.56,435.03 503.23,435.03 503.91,435.03 504.58,435.03" fill="none" stroke="#c8102e" stroke-width="1.35" stroke-linejoin="round" stroke-linecap="round"/>
<line x1="423.70" y1="472.54" x2="423.70" y2="477.52" stroke="#1b5a98" stroke-width="0.85"/>
<line x1="422.70" y1="472.54" x2="424.70" y2="472.54" stroke="#1b5a98" stroke-width="0.85"/>
<line x1="422.70" y1="477.52" x2="424.70" y2="477.52" stroke="#1b5a98" stroke-width="0.85"/>
<circle cx="423.70" cy="475.03" r="1.45" fill="#1b5a98"/>
<line x1="448.05" y1="471.71" x2="448.05" y2="476.69" stroke="#1b5a98" stroke-width="0.85"/>
<line x1="447.05" y1="471.71" x2="449.05" y2="471.71" stroke="#1b5a98" stroke-width="0.85"/>
<line x1="447.05" y1="476.69" x2="449.05" y2="476.69" stroke="#1b5a98" stroke-width="0.85"/>
<circle cx="448.05" cy="474.20" r="1.45" fill="#1b5a98"/>
<line x1="457.47" y1="471.71" x2="457.47" y2="476.69" stroke="#1b5a98" stroke-width="0.85"/>
<line x1="456.47" y1="471.71" x2="458.47" y2="471.71" stroke="#1b5a98" stroke-width="0.85"/>
<line x1="456.47" y1="476.69" x2="458.47" y2="476.69" stroke="#1b5a98" stroke-width="0.85"/>
<circle cx="457.47" cy="474.20" r="1.45" fill="#1b5a98"/>
<line x1="466.89" y1="471.71" x2="466.89" y2="476.69" stroke="#1b5a98" stroke-width="0.85"/>
<line x1="465.89" y1="471.71" x2="467.89" y2="471.71" stroke="#1b5a98" stroke-width="0.85"/>
<line x1="465.89" y1="476.69" x2="467.89" y2="476.69" stroke="#1b5a98" stroke-width="0.85"/>
<circle cx="466.89" cy="474.20" r="1.45" fill="#1b5a98"/>
<line x1="476.31" y1="471.71" x2="476.31" y2="476.69" stroke="#1b5a98" stroke-width="0.85"/>
<line x1="475.31" y1="471.71" x2="477.31" y2="471.71" stroke="#1b5a98" stroke-width="0.85"/>
<line x1="475.31" y1="476.69" x2="477.31" y2="476.69" stroke="#1b5a98" stroke-width="0.85"/>
<circle cx="476.31" cy="474.20" r="1.45" fill="#1b5a98"/>
<line x1="485.74" y1="472.54" x2="485.74" y2="477.52" stroke="#1b5a98" stroke-width="0.85"/>
<line x1="484.74" y1="472.54" x2="486.74" y2="472.54" stroke="#1b5a98" stroke-width="0.85"/>
<line x1="484.74" y1="477.52" x2="486.74" y2="477.52" stroke="#1b5a98" stroke-width="0.85"/>
<circle cx="485.74" cy="475.03" r="1.45" fill="#1b5a98"/>
<line x1="495.16" y1="472.95" x2="495.16" y2="477.94" stroke="#1b5a98" stroke-width="0.85"/>
<line x1="494.16" y1="472.95" x2="496.16" y2="472.95" stroke="#1b5a98" stroke-width="0.85"/>
<line x1="494.16" y1="477.94" x2="496.16" y2="477.94" stroke="#1b5a98" stroke-width="0.85"/>
<circle cx="495.16" cy="475.44" r="1.45" fill="#1b5a98"/>
<line x1="504.58" y1="472.54" x2="504.58" y2="477.52" stroke="#1b5a98" stroke-width="0.85"/>
<line x1="503.58" y1="472.54" x2="505.58" y2="472.54" stroke="#1b5a98" stroke-width="0.85"/>
<line x1="503.58" y1="477.52" x2="505.58" y2="477.52" stroke="#1b5a98" stroke-width="0.85"/>
<circle cx="504.58" cy="475.03" r="1.45" fill="#1b5a98"/>
<line x1="423.70" y1="473.37" x2="423.70" y2="476.69" stroke="#c8102e" stroke-width="0.85"/>
<line x1="422.70" y1="473.37" x2="424.70" y2="473.37" stroke="#c8102e" stroke-width="0.85"/>
<line x1="422.70" y1="476.69" x2="424.70" y2="476.69" stroke="#c8102e" stroke-width="0.85"/>
<circle cx="423.70" cy="475.03" r="1.45" fill="#c8102e"/>
<line x1="448.05" y1="471.71" x2="448.05" y2="475.03" stroke="#c8102e" stroke-width="0.85"/>
<line x1="447.05" y1="471.71" x2="449.05" y2="471.71" stroke="#c8102e" stroke-width="0.85"/>
<line x1="447.05" y1="475.03" x2="449.05" y2="475.03" stroke="#c8102e" stroke-width="0.85"/>
<circle cx="448.05" cy="473.37" r="1.45" fill="#c8102e"/>
<line x1="457.47" y1="467.56" x2="457.47" y2="470.88" stroke="#c8102e" stroke-width="0.85"/>
<line x1="456.47" y1="467.56" x2="458.47" y2="467.56" stroke="#c8102e" stroke-width="0.85"/>
<line x1="456.47" y1="470.88" x2="458.47" y2="470.88" stroke="#c8102e" stroke-width="0.85"/>
<circle cx="457.47" cy="469.22" r="1.45" fill="#c8102e"/>
<line x1="466.89" y1="455.11" x2="466.89" y2="460.09" stroke="#c8102e" stroke-width="0.85"/>
<line x1="465.89" y1="455.11" x2="467.89" y2="455.11" stroke="#c8102e" stroke-width="0.85"/>
<line x1="465.89" y1="460.09" x2="467.89" y2="460.09" stroke="#c8102e" stroke-width="0.85"/>
<circle cx="466.89" cy="457.60" r="1.45" fill="#c8102e"/>
<line x1="476.31" y1="441.00" x2="476.31" y2="445.98" stroke="#c8102e" stroke-width="0.85"/>
<line x1="475.31" y1="441.00" x2="477.31" y2="441.00" stroke="#c8102e" stroke-width="0.85"/>
<line x1="475.31" y1="445.98" x2="477.31" y2="445.98" stroke="#c8102e" stroke-width="0.85"/>
<circle cx="476.31" cy="443.49" r="1.45" fill="#c8102e"/>
<line x1="485.74" y1="432.70" x2="485.74" y2="437.68" stroke="#c8102e" stroke-width="0.85"/>
<line x1="484.74" y1="432.70" x2="486.74" y2="432.70" stroke="#c8102e" stroke-width="0.85"/>
<line x1="484.74" y1="437.68" x2="486.74" y2="437.68" stroke="#c8102e" stroke-width="0.85"/>
<circle cx="485.74" cy="435.19" r="1.45" fill="#c8102e"/>
<line x1="495.16" y1="431.04" x2="495.16" y2="436.02" stroke="#c8102e" stroke-width="0.85"/>
<line x1="494.16" y1="431.04" x2="496.16" y2="431.04" stroke="#c8102e" stroke-width="0.85"/>
<line x1="494.16" y1="436.02" x2="496.16" y2="436.02" stroke="#c8102e" stroke-width="0.85"/>
<circle cx="495.16" cy="433.53" r="1.45" fill="#c8102e"/>
<line x1="504.58" y1="432.70" x2="504.58" y2="437.68" stroke="#c8102e" stroke-width="0.85"/>
<line x1="503.58" y1="432.70" x2="505.58" y2="432.70" stroke="#c8102e" stroke-width="0.85"/>
<line x1="503.58" y1="437.68" x2="505.58" y2="437.68" stroke="#c8102e" stroke-width="0.85"/>
<circle cx="504.58" cy="435.19" r="1.45" fill="#c8102e"/>
</svg>
</body></html>
